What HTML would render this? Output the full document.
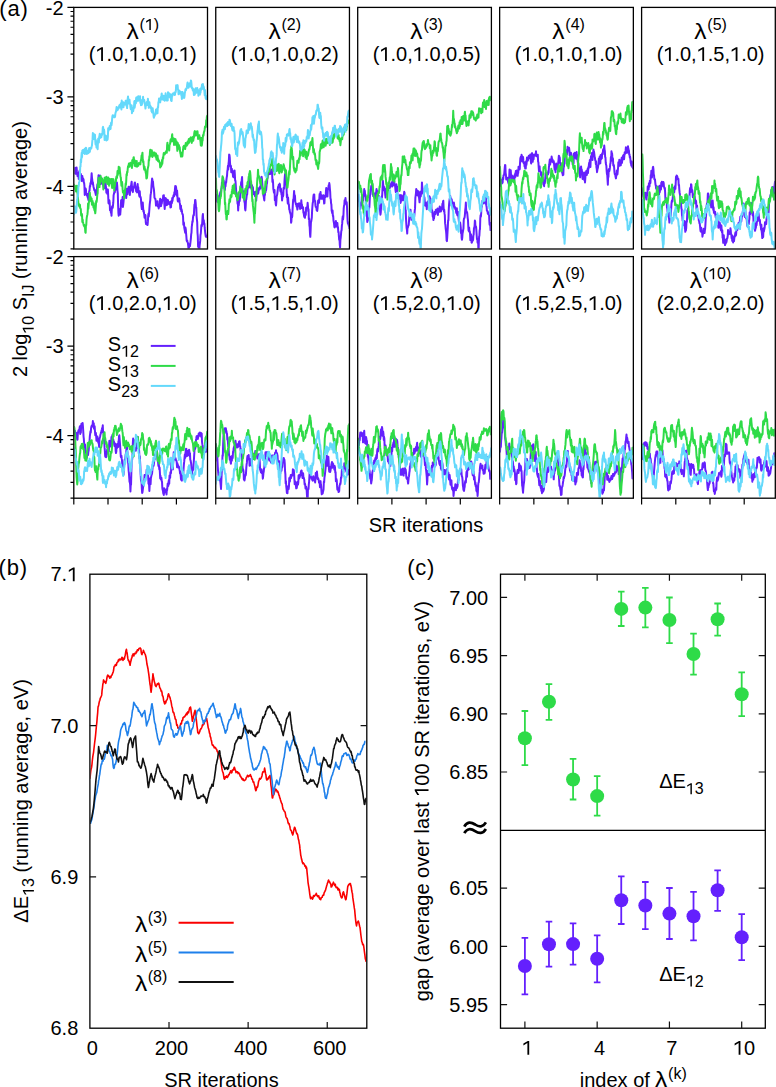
<!DOCTYPE html><html><head><meta charset="utf-8"><title>figure</title><style>html,body{margin:0;padding:0;background:#fff;}svg{display:block;}text{font-family:"Liberation Sans", sans-serif;fill:#000;}</style></head><body>
<svg width="776" height="1087" viewBox="0 0 776 1087">
<rect x="0" y="0" width="776" height="1087" fill="#fff"/>
<defs>
<clipPath id="ca00"><rect x="74.4" y="8" width="132.5" height="240.4"/></clipPath>
<clipPath id="ca01"><rect x="216.35" y="8" width="132.5" height="240.4"/></clipPath>
<clipPath id="ca02"><rect x="358.3" y="8" width="132.5" height="240.4"/></clipPath>
<clipPath id="ca03"><rect x="500.25" y="8" width="132.5" height="240.4"/></clipPath>
<clipPath id="ca04"><rect x="642.2" y="8" width="132.5" height="240.4"/></clipPath>
<clipPath id="ca10"><rect x="74.4" y="257.2" width="132.5" height="240.4"/></clipPath>
<clipPath id="ca11"><rect x="216.35" y="257.2" width="132.5" height="240.4"/></clipPath>
<clipPath id="ca12"><rect x="358.3" y="257.2" width="132.5" height="240.4"/></clipPath>
<clipPath id="ca13"><rect x="500.25" y="257.2" width="132.5" height="240.4"/></clipPath>
<clipPath id="ca14"><rect x="642.2" y="257.2" width="132.5" height="240.4"/></clipPath>
<clipPath id="cb"><rect x="90.4" y="574.8" width="275.8" height="452.6"/></clipPath>
</defs>
<polyline points="73.8,168.11 74.11,170.76 74.43,173.29 74.74,170.71 75.06,167.73 75.37,169.55 75.69,171.58 76,173.87 76.31,169.27 76.61,167.48 76.92,171.68 77.22,172.95 77.52,176.12 77.82,176.23 78.12,173.83 78.42,172.6 78.72,179.03 79.02,174.94 79.32,172.26 79.62,170.49 79.92,172.87 80.22,174.08 80.52,173.55 80.82,174.15 81.13,176.07 81.43,178.42 81.73,180.91 82.03,180.38 82.33,175.99 82.63,180.76 82.93,178.2 83.23,180.73 83.53,179.23 83.83,182.73 84.13,182.86 84.43,185.86 84.73,195 85.03,191.27 85.33,192.48 85.64,188.39 85.94,189.81 86.24,193.23 86.54,193.38 86.84,195.14 87.14,195.79 87.44,193.99 87.74,197.6 88.04,196.35 88.34,199.9 88.64,194.48 88.94,193.98 89.24,190.98 89.54,190.87 89.84,185.95 90.15,186.62 90.45,183.04 90.75,183.75 91.05,181.33 91.35,178.04 91.65,173.36 91.95,177.61 92.25,179.59 92.55,184.17 92.85,182.18 93.15,184.6 93.45,186.45 93.75,187.64 94.05,188.93 94.36,190.38 94.66,190.09 94.96,189.98 95.26,192.4 95.56,193.4 95.86,195 96.16,193.38 96.46,191.92 96.76,189.69 97.06,187.61 97.36,184.56 97.66,183.75 97.96,184.83 98.26,179.25 98.56,175.16 98.87,178.86 99.17,177.43 99.47,178.91 99.77,179.59 100.07,175.38 100.37,182.52 100.67,184.13 100.97,181.28 101.27,181.82 101.57,180.86 101.87,178.39 102.17,179.55 102.47,181.49 102.77,184.35 103.07,184.84 103.38,183.81 103.68,186.8 103.98,183.26 104.28,185.87 104.58,187.99 104.88,185.81 105.18,181.68 105.48,182.45 105.78,185.8 106.08,188.15 106.38,192.61 106.68,189.09 106.98,190.87 107.28,193.9 107.58,193.97 107.89,189.51 108.19,196.08 108.49,203.08 108.79,203.54 109.09,199.93 109.39,200.47 109.69,202.98 109.99,210.17 110.29,209.36 110.59,208.62 110.89,212.55 111.19,211 111.49,215.79 111.79,209.41 112.1,206.34 112.4,206.93 112.7,207.83 113,205.33 113.3,202.46 113.6,195.24 113.9,193.97 114.2,192.68 114.5,191.33 114.8,192.43 115.1,189.66 115.4,190.2 115.7,187.71 116,184.71 116.3,183.56 116.61,182.81 116.91,182.52 117.21,185.61 117.51,190.86 117.81,193.69 118.11,205.32 118.41,213.04 118.71,215.67 119.01,212.72 119.31,209.14 119.61,210.45 119.91,210.46 120.21,214.57 120.51,211 120.81,206.53 121.12,200.17 121.42,206.21 121.72,205.12 122.02,199.79 122.32,201.32 122.62,197.07 122.92,206.9 123.22,204.6 123.52,201.78 123.82,198.27 124.12,191.58 124.42,193.73 124.72,190.96 125.02,194.75 125.33,189.52 125.63,190.14 125.93,195.23 126.23,198.05 126.53,192.22 126.83,188.83 127.13,192.99 127.43,194.37 127.73,190.31 128.03,189.16 128.33,188.47 128.63,186.79 128.93,187.11 129.23,191.61 129.53,191.85 129.84,194.98 130.14,190.9 130.44,188.92 130.74,185.89 131.04,186.49 131.34,183.68 131.64,181.67 131.94,186.81 132.24,190.68 132.54,190.84 132.84,192.12 133.14,190.11 133.44,187.04 133.74,187.77 134.04,187.01 134.35,185 134.65,182.85 134.95,182.54 135.25,185.98 135.55,187.77 135.85,187.04 136.15,191.33 136.45,190.12 136.75,190.64 137.05,192.4 137.35,188.3 137.65,183.96 137.95,188.76 138.25,187.29 138.55,191.51 138.86,192.35 139.16,195.19 139.46,196.64 139.76,191.35 140.06,196.81 140.36,196.57 140.66,197.18 140.96,199.1 141.26,203.63 141.56,206.62 141.86,209.02 142.16,204.52 142.46,205.67 142.76,202.48 143.07,207.22 143.37,211.39 143.67,210.41 143.97,213.02 144.27,214.64 144.57,217.73 144.87,215.22 145.17,214.79 145.47,215.38 145.77,222.21 146.07,223.97 146.37,222.38 146.67,223.18 146.97,223.83 147.27,224.91 147.58,224.96 147.88,221.39 148.18,216.03 148.48,213.62 148.78,216.39 149.08,213.11 149.38,208.94 149.68,204.88 149.98,202.18 150.28,200.06 150.58,195.1 150.88,193.39 151.18,191.08 151.48,186.07 151.78,182.24 152.09,178.47 152.39,179.65 152.69,185.79 152.99,181.51 153.29,185.79 153.59,187.7 153.89,189.45 154.19,192.87 154.49,197.7 154.79,198.14 155.09,198.81 155.39,198.96 155.69,201.19 155.99,205.57 156.3,205.22 156.6,204.29 156.9,202.67 157.2,202.22 157.5,201.18 157.8,206.51 158.1,206.7 158.4,205.18 158.7,208.43 159,204.51 159.3,206.12 159.6,206.7 159.9,201.16 160.2,198.73 160.5,199.08 160.81,203.41 161.11,205.89 161.41,200.69 161.71,203.85 162.01,201.53 162.31,200.39 162.61,199.38 162.91,199.34 163.21,195.58 163.51,195.84 163.81,195.21 164.11,199.41 164.41,205.04 164.71,208.96 165.01,203.35 165.32,197.94 165.62,199.04 165.92,198.35 166.22,205.18 166.52,204.68 166.82,201.51 167.12,204.35 167.42,204.67 167.72,199.78 168.02,200.57 168.32,201.71 168.62,202.92 168.92,203.81 169.22,203.18 169.52,204.32 169.83,203.06 170.13,201.96 170.43,207.4 170.73,206.96 171.03,207.1 171.33,201.02 171.63,201.27 171.93,203 172.23,197.94 172.53,200.89 172.83,197.8 173.13,197.73 173.43,195.7 173.73,195.01 174.04,196.36 174.34,192.35 174.64,194.71 174.94,189.34 175.24,186.12 175.54,188.02 175.84,186.23 176.14,187.89 176.44,192.32 176.74,195.54 177.04,190.43 177.34,194.55 177.64,200.2 177.94,201.54 178.24,199.38 178.55,198.38 178.85,199.42 179.15,198.52 179.45,201 179.75,202.9 180.05,204.48 180.35,208.99 180.65,208.16 180.95,205.62 181.25,211.3 181.55,209.24 181.85,210.62 182.15,212.98 182.45,214.35 182.75,214.25 183.06,216.94 183.36,224.73 183.66,222.12 183.96,223.13 184.26,227.46 184.56,229.21 184.86,230.88 185.16,232.71 185.46,227.62 185.76,229.14 186.06,233.03 186.36,236.4 186.66,240.57 186.96,241.19 187.27,240.68 187.57,242.06 187.87,242.94 188.17,245.31 188.47,248.2 188.77,247.87 189.07,247.53 189.37,244.32 189.67,246.26 189.97,246.06 190.27,243.88 190.57,241.26 190.87,238.74 191.17,234.33 191.47,232.73 191.78,226.59 192.08,224.73 192.38,221.31 192.68,222.01 192.98,217.75 193.28,215.76 193.58,214.75 193.88,215.21 194.18,208.86 194.48,204.55 194.78,205.59 195.08,200.01 195.38,200.07 195.68,202.74 195.98,207.4 196.29,207.65 196.59,216.27 196.89,219.31 197.19,222.06 197.49,232.73 197.79,236.22 198.09,246.77 198.39,246.07 198.69,246.48 198.99,250.2 199.29,250.98 199.59,245.82 199.89,243.32 200.19,240.9 200.49,234.95 200.8,233.47 201.1,229.79 201.4,224.97 201.7,226.51 202,225.06 202.3,221.49 202.6,216.14 202.9,214.09 203.2,220.2 203.5,222.25 203.8,220.28 204.1,224.35 204.4,223.49 204.7,227.7 205.01,230.78 205.31,233.51 205.61,235.27 205.91,236.85 206.21,235.35 206.53,235.89 206.85,235.81 207.18,236.43 207.5,237.88" fill="none" stroke="#6420fd" stroke-width="2.0" stroke-linejoin="round" clip-path="url(#ca00)"/>
<polyline points="73.8,183.82 74.11,186.44 74.43,186.27 74.74,185.72 75.06,188.95 75.37,188.1 75.69,186.94 76,191.43 76.31,187.75 76.61,185.89 76.92,185.75 77.22,188.58 77.52,193.4 77.82,196.66 78.12,199.51 78.42,203.22 78.72,205.26 79.02,204.42 79.32,206.61 79.62,206.74 79.92,204.76 80.22,208.17 80.52,208.58 80.82,208.97 81.13,215.29 81.43,215.75 81.73,213.78 82.03,214.84 82.33,221.94 82.63,219.43 82.93,221.66 83.23,223.14 83.53,224.34 83.83,225.87 84.13,224.77 84.43,225.24 84.73,227.03 85.03,228.13 85.33,232.25 85.64,232.81 85.94,225.79 86.24,225.08 86.54,219.74 86.84,216.92 87.14,215.52 87.44,214.43 87.74,211.3 88.04,203.44 88.34,208.57 88.64,205.25 88.94,201.67 89.24,202.04 89.54,197.73 89.84,192.63 90.15,196.84 90.45,198.77 90.75,196.96 91.05,200.68 91.35,201.46 91.65,198.55 91.95,204.78 92.25,204.11 92.55,200.88 92.85,203.84 93.15,204.65 93.45,207.44 93.75,203.37 94.05,207.94 94.36,209.95 94.66,210.58 94.96,211.04 95.26,213.35 95.56,210.3 95.86,206.3 96.16,201.02 96.46,202.26 96.76,201.09 97.06,197.61 97.36,194.52 97.66,193.3 97.96,183.64 98.26,185.27 98.56,177.76 98.87,180.02 99.17,183.68 99.47,187.09 99.77,182.67 100.07,183.01 100.37,181.86 100.67,176.12 100.97,180.89 101.27,180.92 101.57,181.06 101.87,178.61 102.17,179.73 102.47,180.4 102.77,183.49 103.07,182.27 103.38,189.44 103.68,182.81 103.98,180.44 104.28,179.93 104.58,177.82 104.88,182.51 105.18,182.23 105.48,177.41 105.78,178.74 106.08,181.72 106.38,176.63 106.68,178.32 106.98,177.98 107.28,183.99 107.58,181.68 107.89,178.7 108.19,177.56 108.49,183.25 108.79,180.06 109.09,185.65 109.39,178.83 109.69,179.63 109.99,180.06 110.29,179.34 110.59,180.46 110.89,183.32 111.19,181.41 111.49,179.02 111.79,185 112.1,187.91 112.4,184.09 112.7,185.19 113,178.91 113.3,185.35 113.6,182.42 113.9,183.35 114.2,190.51 114.5,185.32 114.8,186.58 115.1,184.67 115.4,180.22 115.7,179.1 116,181.13 116.3,177.13 116.61,176.28 116.91,178.12 117.21,175.73 117.51,171 117.81,174.89 118.11,172.14 118.41,173.14 118.71,166.63 119.01,172.89 119.31,169.03 119.61,167.49 119.91,171.02 120.21,173.53 120.51,177.02 120.81,177.39 121.12,181.39 121.42,185.64 121.72,183.51 122.02,181.87 122.32,184.53 122.62,189.5 122.92,192.44 123.22,191.78 123.52,190.93 123.82,193.89 124.12,198.4 124.42,193.11 124.72,194.41 125.02,190.9 125.33,188.2 125.63,183.47 125.93,184.93 126.23,180.89 126.53,174.13 126.83,175.56 127.13,171.69 127.43,172.32 127.73,168.93 128.03,166.22 128.33,166.82 128.63,165.22 128.93,163.53 129.23,164.65 129.53,166.83 129.84,165.62 130.14,164.51 130.44,162.7 130.74,164.45 131.04,164.19 131.34,165.5 131.64,164.35 131.94,167.91 132.24,160.16 132.54,160.48 132.84,161.79 133.14,162.95 133.44,158.11 133.74,157.16 134.04,159.87 134.35,163.84 134.65,165.77 134.95,160.48 135.25,162.57 135.55,166.17 135.85,165.08 136.15,162.34 136.45,162.24 136.75,160.95 137.05,166.77 137.35,165.84 137.65,165.29 137.95,164.24 138.25,165.83 138.55,164.86 138.86,163.09 139.16,164 139.46,163.29 139.76,164.03 140.06,162.94 140.36,164.37 140.66,161.35 140.96,160.25 141.26,159.09 141.56,155.51 141.86,158.25 142.16,154.5 142.46,152.65 142.76,159.74 143.07,162.15 143.37,161.19 143.67,165.47 143.97,168.22 144.27,169.71 144.57,166.79 144.87,169.88 145.17,169.2 145.47,170.97 145.77,172.8 146.07,173.86 146.37,178.52 146.67,178.31 146.97,177.94 147.27,174.91 147.58,170.02 147.88,168.13 148.18,166.81 148.48,165.58 148.78,159.9 149.08,160.63 149.38,156.32 149.68,157.32 149.98,151.4 150.28,149.68 150.58,154.39 150.88,152.77 151.18,153.72 151.48,155.81 151.78,150.22 152.09,152.48 152.39,156.9 152.69,155.87 152.99,153.7 153.29,153.9 153.59,152.59 153.89,153.85 154.19,155.56 154.49,152.51 154.79,153.15 155.09,153.7 155.39,155.52 155.69,157.01 155.99,153.56 156.3,158.1 156.6,159.73 156.9,156.22 157.2,157.3 157.5,155.45 157.8,158.07 158.1,161.14 158.4,159.34 158.7,160.08 159,160.67 159.3,161.88 159.6,162.72 159.9,162.89 160.2,167.43 160.5,166.1 160.81,163.57 161.11,166.36 161.41,163.21 161.71,164.92 162.01,159.93 162.31,163.75 162.61,160.28 162.91,157.15 163.21,158.62 163.51,154.47 163.81,152.89 164.11,154.88 164.41,153.4 164.71,154.39 165.01,153.62 165.32,153.04 165.62,151.98 165.92,152.78 166.22,151.07 166.52,152.73 166.82,152.69 167.12,145.38 167.42,142.64 167.72,149.17 168.02,146.67 168.32,146.87 168.62,145.91 168.92,146.14 169.22,150.56 169.52,145.02 169.83,144.34 170.13,143.6 170.43,140.39 170.73,139.29 171.03,139.98 171.33,140.54 171.63,141.42 171.93,135.83 172.23,134.22 172.53,140.97 172.83,138.97 173.13,141.27 173.43,139.49 173.73,138.38 174.04,144.99 174.34,139.9 174.64,138.93 174.94,142.63 175.24,142.82 175.54,139.21 175.84,142.32 176.14,145.27 176.44,141.33 176.74,142.36 177.04,146.29 177.34,150.84 177.64,142.8 177.94,143.79 178.24,146.19 178.55,145.19 178.85,145.09 179.15,146.31 179.45,149.52 179.75,147.31 180.05,151.34 180.35,153.16 180.65,154.22 180.95,156.57 181.25,152.87 181.55,152.81 181.85,155.59 182.15,156.54 182.45,155.78 182.75,151.79 183.06,149.74 183.36,146.58 183.66,147.07 183.96,145.8 184.26,145.9 184.56,145.85 184.86,148.36 185.16,149.06 185.46,146.81 185.76,142.94 186.06,143.64 186.36,144.71 186.66,145.8 186.96,144.32 187.27,144.81 187.57,141.43 187.87,143.03 188.17,143.7 188.47,141.17 188.77,139.02 189.07,142.73 189.37,138.72 189.67,140.95 189.97,139.37 190.27,138.38 190.57,138.02 190.87,137.25 191.17,137.73 191.47,142.08 191.78,142.86 192.08,139.2 192.38,139 192.68,139.79 192.98,136.73 193.28,140.74 193.58,137.85 193.88,137.92 194.18,134 194.48,131.86 194.78,131.11 195.08,131.48 195.38,135.45 195.68,133.63 195.98,135.59 196.29,133.09 196.59,131.53 196.89,133.94 197.19,133.92 197.49,131.26 197.79,134.63 198.09,139.05 198.39,137.86 198.69,135.37 198.99,135.8 199.29,135.24 199.59,137.7 199.89,137.36 200.19,139.57 200.49,141.51 200.8,145.39 201.1,141.38 201.4,138 201.7,145.79 202,144.25 202.3,140.79 202.6,140.55 202.9,136.09 203.2,134.78 203.5,135.73 203.8,132.82 204.1,131.78 204.4,131.15 204.7,129.2 205.01,126.62 205.31,126.46 205.61,127.39 205.91,126.69 206.21,120.35 206.53,122.35 206.85,116.79 207.18,115.73 207.5,119.64" fill="none" stroke="#2edb48" stroke-width="2.0" stroke-linejoin="round" clip-path="url(#ca00)"/>
<polyline points="73.8,210.51 74.11,214.25 74.43,210.27 74.74,206.29 75.06,209.63 75.37,211.87 75.69,212.2 76,212.67 76.31,211.37 76.61,206.52 76.92,202.29 77.22,199.97 77.52,196.74 77.82,196.65 78.12,193.97 78.42,186.49 78.72,186.25 79.02,182.5 79.32,181.82 79.62,180.55 79.92,175.86 80.22,166.46 80.52,166.61 80.82,159.43 81.13,162.15 81.43,155.97 81.73,152.7 82.03,157.38 82.33,150.55 82.63,152.05 82.93,149.92 83.23,150.31 83.53,149.72 83.83,152.97 84.13,151.82 84.43,152.84 84.73,153.88 85.03,148.55 85.33,153.83 85.64,151.9 85.94,147.65 86.24,148.27 86.54,152.14 86.84,153.91 87.14,150.47 87.44,150.92 87.74,151.35 88.04,153.37 88.34,151.27 88.64,153.04 88.94,149.15 89.24,147.92 89.54,150.71 89.84,151.89 90.15,149.49 90.45,149.48 90.75,147.88 91.05,147.97 91.35,148.34 91.65,146.29 91.95,145.57 92.25,141.7 92.55,139.13 92.85,133.11 93.15,136.77 93.45,136.69 93.75,138.9 94.05,134.3 94.36,136.19 94.66,137.13 94.96,134.84 95.26,140.87 95.56,144.41 95.86,140.12 96.16,142.95 96.46,147.55 96.76,142.61 97.06,146.34 97.36,148.28 97.66,149.27 97.96,141.35 98.26,138.44 98.56,139.92 98.87,142.46 99.17,137.02 99.47,135.62 99.77,133.71 100.07,137.89 100.37,135.04 100.67,136.19 100.97,136.37 101.27,137.23 101.57,135.3 101.87,133.87 102.17,134.84 102.47,133.1 102.77,127.7 103.07,126.84 103.38,129.55 103.68,129.98 103.98,129.49 104.28,131.3 104.58,140.05 104.88,135.88 105.18,136.06 105.48,136.61 105.78,135.59 106.08,139.3 106.38,140.5 106.68,140.41 106.98,136.63 107.28,140.03 107.58,139.51 107.89,136.56 108.19,128.33 108.49,130.8 108.79,128.3 109.09,129.03 109.39,127.97 109.69,126.1 109.99,129.18 110.29,127.54 110.59,128.96 110.89,123.48 111.19,122.51 111.49,125.25 111.79,123.14 112.1,119.05 112.4,116.35 112.7,115.32 113,115.48 113.3,116.77 113.6,115.98 113.9,116.9 114.2,117.23 114.5,115.34 114.8,117.2 115.1,116.34 115.4,113.49 115.7,112.14 116,111.71 116.3,109.52 116.61,106.91 116.91,108.99 117.21,108.23 117.51,110.36 117.81,108.06 118.11,108.59 118.41,108.79 118.71,106.99 119.01,107.63 119.31,105.4 119.61,104.97 119.91,107.56 120.21,107.33 120.51,106.02 120.81,103.33 121.12,105.63 121.42,109.48 121.72,100.55 122.02,104.63 122.32,103.96 122.62,106.1 122.92,107.17 123.22,102.29 123.52,107.13 123.82,103.41 124.12,102.8 124.42,104.75 124.72,103.83 125.02,104.37 125.33,102.71 125.63,100.82 125.93,102.69 126.23,100.77 126.53,106 126.83,105.45 127.13,108.11 127.43,102.73 127.73,98.59 128.03,96.49 128.33,100.34 128.63,99.7 128.93,103.52 129.23,100.65 129.53,99.72 129.84,103.93 130.14,104.27 130.44,107.35 130.74,109.21 131.04,109.17 131.34,105.62 131.64,105.37 131.94,113.25 132.24,110.62 132.54,111.15 132.84,111.27 133.14,111.26 133.44,109.67 133.74,107.47 134.04,106.08 134.35,101.25 134.65,107.72 134.95,105.34 135.25,100.83 135.55,102.89 135.85,103.47 136.15,97.92 136.45,97.35 136.75,101.44 137.05,100.13 137.35,98.71 137.65,98.92 137.95,97.08 138.25,96.19 138.55,100.71 138.86,98.42 139.16,98.02 139.46,99.86 139.76,99.37 140.06,96.33 140.36,103.01 140.66,101.13 140.96,105.19 141.26,103.93 141.56,100.21 141.86,104.98 142.16,102.93 142.46,100.38 142.76,101.46 143.07,96.79 143.37,101.22 143.67,100.29 143.97,101.15 144.27,100 144.57,103.44 144.87,104.1 145.17,106.2 145.47,108.53 145.77,106.16 146.07,104.81 146.37,104.86 146.67,102.21 146.97,101.87 147.27,104.99 147.58,102.35 147.88,98.74 148.18,101.23 148.48,103.78 148.78,107.83 149.08,104.18 149.38,102.25 149.68,104.61 149.98,105.32 150.28,106.99 150.58,106.18 150.88,107.99 151.18,107.2 151.48,111.1 151.78,111.32 152.09,112.52 152.39,110.92 152.69,108.24 152.99,111.09 153.29,112.46 153.59,116.21 153.89,117.77 154.19,116.35 154.49,116.14 154.79,114.15 155.09,114.45 155.39,114.62 155.69,112.59 155.99,109.58 156.3,113.55 156.6,109.2 156.9,113.17 157.2,113.03 157.5,113.29 157.8,107 158.1,107.5 158.4,102.22 158.7,102.04 159,98.56 159.3,98.53 159.6,98.5 159.9,101.47 160.2,102.38 160.5,99.6 160.81,98.7 161.11,96.74 161.41,95.47 161.71,93.4 162.01,96.38 162.31,99.54 162.61,97.5 162.91,99.43 163.21,96.52 163.51,95.71 163.81,96.53 164.11,100.29 164.41,98.38 164.71,100.74 165.01,98.98 165.32,96.44 165.62,93.25 165.92,95.68 166.22,95.48 166.52,99.91 166.82,100.56 167.12,95.79 167.42,99.88 167.72,100.43 168.02,92.15 168.32,93.13 168.62,96.44 168.92,93.12 169.22,93.69 169.52,96.73 169.83,97.09 170.13,97.52 170.43,97.89 170.73,94.23 171.03,100.45 171.33,98.24 171.63,101.06 171.93,96.19 172.23,96.03 172.53,95.24 172.83,93.55 173.13,93.78 173.43,93.55 173.73,94.59 174.04,93.62 174.34,92.4 174.64,92.75 174.94,95 175.24,92.39 175.54,92.43 175.84,91.13 176.14,85.35 176.44,85.4 176.74,85.91 177.04,85.22 177.34,87.03 177.64,85.25 177.94,89.66 178.24,89.73 178.55,94.23 178.85,94.25 179.15,90.52 179.45,91.8 179.75,93.18 180.05,92.24 180.35,92.87 180.65,91.62 180.95,92.21 181.25,95.1 181.55,95.04 181.85,98.94 182.15,91.9 182.45,91.96 182.75,92.71 183.06,97.14 183.36,97.76 183.66,96.85 183.96,96.73 184.26,97.87 184.56,95.84 184.86,92.55 185.16,91.95 185.46,89.25 185.76,89.07 186.06,90.14 186.36,88.18 186.66,88.56 186.96,87.14 187.27,84.17 187.57,82.4 187.87,86.49 188.17,86.26 188.47,87.79 188.77,85.88 189.07,85.04 189.37,85.08 189.67,83.36 189.97,86.48 190.27,86.54 190.57,84.83 190.87,80.42 191.17,81.18 191.47,83.93 191.78,87.98 192.08,87.41 192.38,87.89 192.68,90.06 192.98,90.64 193.28,90.89 193.58,89.35 193.88,95.02 194.18,94.91 194.48,94.44 194.78,94.58 195.08,91.6 195.38,89.44 195.68,88.21 195.98,92.73 196.29,90.37 196.59,92.73 196.89,90.45 197.19,88.01 197.49,89.67 197.79,89.93 198.09,90.02 198.39,95.69 198.69,94.2 198.99,91.6 199.29,93.92 199.59,91.89 199.89,94.61 200.19,88.86 200.49,92.69 200.8,88.87 201.1,88 201.4,89.7 201.7,87.15 202,84.6 202.3,86.37 202.6,87.12 202.9,84.04 203.2,88.86 203.5,86.32 203.8,87.11 204.1,89.07 204.4,91.24 204.7,95.23 205.01,89.9 205.31,93.63 205.61,97.94 205.91,98.84 206.21,99.17 206.53,96.35 206.85,98.68 207.18,97.64 207.5,98.71" fill="none" stroke="#64d9fb" stroke-width="2.0" stroke-linejoin="round" clip-path="url(#ca00)"/>
<polyline points="215.75,198.14 215.97,200.17 216.26,196.37 216.56,194.8 216.85,197.31 217.15,201.74 217.45,200.6 217.74,196.65 218.04,196.19 218.33,197.9 218.63,201.13 218.92,200.37 219.22,199.44 219.52,197.45 219.82,196.5 220.12,192.9 220.42,192.12 220.72,191.35 221.02,193.16 221.32,188.84 221.62,188.42 221.92,182.51 222.22,183.47 222.52,181.15 222.82,177.5 223.13,178.77 223.43,181.92 223.73,180.8 224.03,183.99 224.33,186.9 224.63,188.78 224.93,190.01 225.23,184.23 225.53,186.17 225.83,181.98 226.13,182.75 226.43,179.67 226.73,177.43 227.03,175.74 227.33,171.25 227.64,169.71 227.94,165.83 228.24,169.48 228.54,163.65 228.84,161.07 229.14,154.53 229.44,154.88 229.74,157.37 230.04,163.02 230.34,166.06 230.64,166.98 230.94,166.03 231.24,172.32 231.54,168.95 231.84,168.84 232.15,172.18 232.45,170.53 232.75,173.3 233.05,176.54 233.35,175.88 233.65,177.22 233.95,177.37 234.25,176.24 234.55,170.43 234.85,174.75 235.15,180.77 235.45,180.78 235.75,184.76 236.05,189.6 236.36,195.62 236.66,193.14 236.96,195.56 237.26,199.73 237.56,203.55 237.86,202.05 238.16,210.5 238.46,204.53 238.76,205.35 239.06,201.39 239.36,199.97 239.66,201.1 239.96,198.04 240.26,194.19 240.56,188.72 240.87,186.09 241.17,181.96 241.47,187.15 241.77,179.56 242.07,177.06 242.37,187.26 242.67,191.74 242.97,190.94 243.27,194.7 243.57,193.55 243.87,194.94 244.17,199.3 244.47,202.05 244.77,202.41 245.07,208.72 245.38,210.41 245.68,206.44 245.98,200.28 246.28,199.49 246.58,196.66 246.88,194.65 247.18,194.47 247.48,189.72 247.78,188.35 248.08,187.62 248.38,184.83 248.68,186.86 248.98,176.69 249.28,178.51 249.58,177.17 249.89,179.85 250.19,187.6 250.49,181.46 250.79,182.76 251.09,186.1 251.39,186.68 251.69,189.43 251.99,185.27 252.29,190.17 252.59,188.14 252.89,187.28 253.19,191.73 253.49,193.88 253.79,192.3 254.1,191.94 254.4,193.74 254.7,195.38 255,196.15 255.3,194.93 255.6,191.84 255.9,199.67 256.2,200.6 256.5,196.09 256.8,192.79 257.1,192.82 257.4,192.77 257.7,187.97 258,193.67 258.3,192.93 258.61,190.14 258.91,189.89 259.21,188.79 259.51,189.59 259.81,187.04 260.11,187.93 260.41,188.23 260.71,183.23 261.01,180.17 261.31,177.21 261.61,176.84 261.91,178.61 262.21,182.63 262.51,186.49 262.81,190.15 263.12,189.17 263.42,195.64 263.72,196.49 264.02,198.87 264.32,200.43 264.62,193.93 264.92,195.14 265.22,189.29 265.52,192.23 265.82,189.35 266.12,190.27 266.42,186.94 266.72,184.2 267.02,183.23 267.33,177.89 267.63,177.96 267.93,172.51 268.23,172.56 268.53,170.55 268.83,172.82 269.13,174.2 269.43,172.16 269.73,169.67 270.03,171.81 270.33,173.93 270.63,173.59 270.93,171.69 271.23,171.71 271.53,172.98 271.84,169.58 272.14,174.14 272.44,181.84 272.74,179.55 273.04,182.24 273.34,188.93 273.64,190.36 273.94,192.51 274.24,191.93 274.54,189.97 274.84,200.25 275.14,199.33 275.44,199.9 275.74,204.54 276.04,205.5 276.35,201.73 276.65,196.47 276.95,195.62 277.25,194.31 277.55,191.54 277.85,188.99 278.15,186.65 278.45,186.82 278.75,184.77 279.05,185.33 279.35,186 279.65,183.62 279.95,184.83 280.25,190.29 280.55,191.65 280.86,188.46 281.16,190.31 281.46,194.53 281.76,195 282.06,200.39 282.36,197.92 282.66,193.07 282.96,196.42 283.26,195.25 283.56,188.04 283.86,187.57 284.16,188.82 284.46,181.93 284.76,177.43 285.07,174 285.37,176.63 285.67,177.34 285.97,182.04 286.27,183.07 286.57,188.51 286.87,197.28 287.17,194.44 287.47,199.39 287.77,203.44 288.07,197.49 288.37,201.85 288.67,204.3 288.97,205.5 289.27,209.66 289.58,209.38 289.88,212.14 290.18,212.47 290.48,214.2 290.78,214.35 291.08,222.65 291.38,221.44 291.68,214.76 291.98,217.57 292.28,216 292.58,209.36 292.88,203.81 293.18,199.6 293.48,200.79 293.78,195.75 294.09,191.02 294.39,195.22 294.69,194.99 294.99,196.12 295.29,202.03 295.59,202.56 295.89,204.4 296.19,203.9 296.49,206.48 296.79,204.77 297.09,207.51 297.39,209.52 297.69,207.58 297.99,203.65 298.3,206.04 298.6,205.08 298.9,206.06 299.2,203.22 299.5,204.41 299.8,205.55 300.1,208.98 300.4,208.61 300.7,204.79 301,205.39 301.3,200.37 301.6,204.38 301.9,204.43 302.2,208.18 302.5,208.21 302.81,207.79 303.11,207.38 303.41,212.79 303.71,213.01 304.01,215.56 304.31,216.93 304.61,212.39 304.91,217.75 305.21,215.38 305.51,215.28 305.81,214.49 306.11,207.79 306.41,207.68 306.71,207.28 307.01,207.22 307.32,207.55 307.62,202.87 307.92,205.91 308.22,211.08 308.52,209.25 308.82,219.18 309.12,218.44 309.42,225.43 309.72,227.38 310.02,234.2 310.32,236.86 310.62,230.78 310.92,222.42 311.22,221.43 311.52,219.5 311.83,217.27 312.13,210.11 312.43,206.29 312.73,202.89 313.03,202.06 313.33,197.02 313.63,194.8 313.93,194.41 314.23,194.38 314.53,199.76 314.83,200.63 315.13,200.89 315.43,205.38 315.73,206.95 316.04,206.93 316.34,207.41 316.64,210.09 316.94,209.94 317.24,210.95 317.54,208.48 317.84,204.57 318.14,200.51 318.44,201.83 318.74,201.88 319.04,202.83 319.34,198.47 319.64,194.1 319.94,196.58 320.24,194.38 320.55,191.92 320.85,197.97 321.15,198.78 321.45,197.37 321.75,197.53 322.05,195.38 322.35,198.85 322.65,197.09 322.95,196.55 323.25,196.92 323.55,195.29 323.85,199.99 324.15,203.6 324.45,203.11 324.75,196.47 325.06,196.85 325.36,195.63 325.66,196.96 325.96,190.96 326.26,187.95 326.56,190.19 326.86,193.91 327.16,192.06 327.46,196.41 327.76,190.34 328.06,189.43 328.36,188.05 328.66,185.3 328.96,188.23 329.27,183.05 329.57,184.81 329.87,188.84 330.17,191.86 330.47,198.56 330.77,199 331.07,203.29 331.37,204.41 331.67,210.66 331.97,211.78 332.27,213.37 332.57,210.49 332.87,215.83 333.17,215.73 333.47,220.29 333.78,222.17 334.08,223.97 334.38,227.03 334.68,227.44 334.98,223.59 335.28,224.26 335.58,224.32 335.88,220.92 336.18,223.56 336.48,226.39 336.78,224.38 337.08,223.03 337.38,223.08 337.68,227.57 337.98,227.17 338.29,232.23 338.59,231.92 338.89,236.5 339.19,239.98 339.49,238.8 339.79,244.6 340.09,247.56 340.39,239.96 340.69,237.87 340.99,234.69 341.29,230.87 341.59,230.51 341.89,225.59 342.19,223.68 342.49,218.31 342.8,216.18 343.1,219.35 343.4,215.96 343.7,208.62 344,205.81 344.3,205.26 344.6,200.2 344.9,203.01 345.2,200.4 345.5,197.97 345.8,201.38 346.1,202.92 346.4,204.38 346.7,202.23 347.01,206.82 347.31,214.97 347.61,221.21 347.91,223.58 348.21,222.55 348.52,224.4 348.83,226.02 349.14,223.52 349.45,228.82" fill="none" stroke="#6420fd" stroke-width="2.0" stroke-linejoin="round" clip-path="url(#ca01)"/>
<polyline points="215.75,179.51 215.97,178.41 216.26,190.15 216.56,189.53 216.85,190.46 217.15,193.42 217.45,194.19 217.74,195.96 218.04,201.75 218.33,203.6 218.63,209.43 218.92,211.19 219.22,209.93 219.52,205.98 219.82,203.56 220.12,197.78 220.42,198.25 220.72,195.93 221.02,196.07 221.32,189.65 221.62,186.68 221.92,185.52 222.22,183.49 222.52,176.29 222.82,177.77 223.13,177.79 223.43,184.42 223.73,185.41 224.03,187.58 224.33,188.46 224.63,193.68 224.93,204.12 225.23,202.82 225.53,209.8 225.83,214.15 226.13,213.67 226.43,219.32 226.73,219.52 227.03,214.57 227.33,211.2 227.64,213.17 227.94,211.24 228.24,214.07 228.54,210.18 228.84,203.84 229.14,203.25 229.44,199.37 229.74,201.84 230.04,201.9 230.34,198.47 230.64,195.19 230.94,197.61 231.24,194.67 231.54,196.78 231.84,191.39 232.15,190.28 232.45,188.44 232.75,185.75 233.05,193.35 233.35,193.07 233.65,186.46 233.95,189.06 234.25,184.33 234.55,190.8 234.85,193.69 235.15,192 235.45,192.01 235.75,194.24 236.05,196.39 236.36,195.91 236.66,195.23 236.96,197.15 237.26,198.22 237.56,200.3 237.86,198.85 238.16,198.1 238.46,192.51 238.76,192.93 239.06,192.54 239.36,191.53 239.66,191.59 239.96,190.61 240.26,186.62 240.56,190.65 240.87,191.67 241.17,189.75 241.47,192.38 241.77,190.08 242.07,188.88 242.37,191.59 242.67,197.61 242.97,196.42 243.27,192.91 243.57,196.49 243.87,196.43 244.17,196.58 244.47,199.87 244.77,193.87 245.07,190.33 245.38,188.73 245.68,193.45 245.98,191.84 246.28,188.41 246.58,185.84 246.88,187.15 247.18,188.13 247.48,182.56 247.78,181.79 248.08,185.72 248.38,181.87 248.68,176.97 248.98,175.67 249.28,173.55 249.58,173.08 249.89,171.09 250.19,172.22 250.49,175.63 250.79,180.26 251.09,181.47 251.39,185.88 251.69,187.19 251.99,195.13 252.29,201.12 252.59,199.47 252.89,205.13 253.19,207.71 253.49,210.57 253.79,212.88 254.1,217.12 254.4,222.69 254.7,213.92 255,213.59 255.3,207.82 255.6,201 255.9,198.45 256.2,196.71 256.5,191.77 256.8,188.31 257.1,182.92 257.4,177.83 257.7,177.2 258,169.67 258.3,174.71 258.61,176.05 258.91,176.01 259.21,177.09 259.51,178.32 259.81,180.41 260.11,182.18 260.41,183.61 260.71,180.68 261.01,179.23 261.31,185.24 261.61,185.71 261.91,186.53 262.21,188.33 262.51,187.21 262.81,193.83 263.12,193.11 263.42,192.88 263.72,189.07 264.02,191.65 264.32,191.56 264.62,192.69 264.92,190.96 265.22,185.3 265.52,181.2 265.82,185.36 266.12,181.24 266.42,180.28 266.72,179.06 267.02,179.47 267.33,179.04 267.63,174.22 267.93,172.54 268.23,168.75 268.53,172.37 268.83,171.49 269.13,166.83 269.43,171.15 269.73,169.81 270.03,166.21 270.33,165.7 270.63,164.53 270.93,165.22 271.23,165.21 271.53,162.74 271.84,165.18 272.14,159.07 272.44,162.54 272.74,166.73 273.04,169.52 273.34,170.62 273.64,166.88 273.94,164.15 274.24,166.74 274.54,174.58 274.84,173.12 275.14,170.43 275.44,166.61 275.74,169.43 276.04,168.98 276.35,171.01 276.65,170.95 276.95,164.57 277.25,167.35 277.55,170.58 277.85,168.36 278.15,165.87 278.45,164.84 278.75,163.9 279.05,172.03 279.35,173.25 279.65,168.66 279.95,171.56 280.25,166.63 280.55,165.82 280.86,164.91 281.16,165.83 281.46,168.18 281.76,172.39 282.06,170.81 282.36,168.02 282.66,167.47 282.96,166.21 283.26,167.08 283.56,164.31 283.86,165.85 284.16,166.87 284.46,170.19 284.76,168.18 285.07,171.41 285.37,173.36 285.67,172.45 285.97,170.24 286.27,173.82 286.57,179.73 286.87,180.27 287.17,187.71 287.47,187.5 287.77,185.28 288.07,182.08 288.37,180.28 288.67,177.71 288.97,173.04 289.27,170.97 289.58,174.35 289.88,168.82 290.18,162.89 290.48,157.06 290.78,149.64 291.08,149.55 291.38,146.2 291.68,149.1 291.98,150.31 292.28,155.27 292.58,159.25 292.88,157.79 293.18,156.83 293.48,161.82 293.78,167.68 294.09,168.91 294.39,170.85 294.69,168.3 294.99,170.61 295.29,172.39 295.59,171.96 295.89,170.23 296.19,170.32 296.49,170.41 296.79,167.95 297.09,164.4 297.39,160.65 297.69,162.44 297.99,161.61 298.3,160.62 298.6,162.73 298.9,158.95 299.2,157.92 299.5,159.3 299.8,155.67 300.1,150.7 300.4,152.14 300.7,155.57 301,153.06 301.3,152.47 301.6,147.88 301.9,152.98 302.2,147.44 302.5,148.45 302.81,150.21 303.11,156.25 303.41,154.4 303.71,151.82 304.01,149.1 304.31,151.06 304.61,149.8 304.91,150.94 305.21,153.2 305.51,157.12 305.81,153.24 306.11,157.85 306.41,151.87 306.71,159.05 307.01,155.84 307.32,155.4 307.62,155.16 307.92,155.57 308.22,154.39 308.52,152.6 308.82,150.35 309.12,149.17 309.42,149.5 309.72,147.56 310.02,145.76 310.32,142.57 310.62,144.19 310.92,145.31 311.22,141.45 311.52,144.14 311.83,142.07 312.13,140.92 312.43,138.04 312.73,143.4 313.03,147.98 313.33,152.36 313.63,148.86 313.93,149.7 314.23,152.87 314.53,154.53 314.83,153.28 315.13,155.37 315.43,159.31 315.73,160.78 316.04,160.79 316.34,164.34 316.64,160.58 316.94,164.6 317.24,164.48 317.54,166.04 317.84,167.2 318.14,168.9 318.44,165.47 318.74,162.31 319.04,163.68 319.34,161.09 319.64,151.91 319.94,151.08 320.24,149.61 320.55,147.98 320.85,144.35 321.15,147.03 321.45,145.96 321.75,148.29 322.05,143.35 322.35,142.92 322.65,140.61 322.95,143.86 323.25,145.69 323.55,147.35 323.85,146.39 324.15,142.12 324.45,144.63 324.75,140.51 325.06,139.5 325.36,140.07 325.66,145.68 325.96,141.19 326.26,138.65 326.56,140.51 326.86,143.46 327.16,143.1 327.46,142.86 327.76,139.39 328.06,139.02 328.36,142.79 328.66,141.44 328.96,139.05 329.27,138.75 329.57,142.6 329.87,144.98 330.17,142.75 330.47,138.87 330.77,143.19 331.07,139.35 331.37,139.54 331.67,140.31 331.97,139.54 332.27,138.77 332.57,142.66 332.87,141.08 333.17,135.57 333.47,134.92 333.78,138.74 334.08,136.28 334.38,132.82 334.68,135.59 334.98,135.23 335.28,133.58 335.58,133.72 335.88,131.09 336.18,130.9 336.48,131.33 336.78,130.15 337.08,134.59 337.38,131.55 337.68,138.38 337.98,137 338.29,137.79 338.59,134.97 338.89,139.21 339.19,137.7 339.49,140.88 339.79,141.65 340.09,140.63 340.39,145.17 340.69,142.73 340.99,139.69 341.29,138.39 341.59,139.04 341.89,138.21 342.19,139.32 342.49,135.95 342.8,136.01 343.1,133.92 343.4,132.12 343.7,134.54 344,131.12 344.3,127.32 344.6,130.7 344.9,128.78 345.2,130.05 345.5,129.97 345.8,129.39 346.1,127.64 346.4,129.92 346.7,124.18 347.01,126.61 347.31,123.99 347.61,123.47 347.91,121.06 348.21,122.64 348.52,122.71 348.83,120.54 349.14,120.86 349.45,122" fill="none" stroke="#2edb48" stroke-width="2.0" stroke-linejoin="round" clip-path="url(#ca01)"/>
<polyline points="215.75,161.77 215.97,156.02 216.26,158.78 216.56,159.47 216.85,159.26 217.15,160.89 217.45,162.65 217.74,165.34 218.04,168.56 218.33,172.32 218.63,172.87 218.92,176.19 219.22,176.91 219.52,171.29 219.82,165.62 220.12,158.92 220.42,152.13 220.72,150.33 221.02,146.76 221.32,143.83 221.62,140.04 221.92,132.11 222.22,131.4 222.52,129.79 222.82,133.78 223.13,132.38 223.43,132.02 223.73,129.09 224.03,126.69 224.33,126.98 224.63,127.88 224.93,129.2 225.23,124.7 225.53,126.89 225.83,124.61 226.13,124.12 226.43,124.02 226.73,123.38 227.03,124.86 227.33,126.08 227.64,124.93 227.94,122.05 228.24,122.79 228.54,123.42 228.84,124.94 229.14,124.27 229.44,119.7 229.74,120 230.04,121.08 230.34,124.75 230.64,123.84 230.94,126.06 231.24,126.42 231.54,123.68 231.84,126.09 232.15,128.85 232.45,130.21 232.75,126.92 233.05,130.68 233.35,130.41 233.65,127.33 233.95,131.27 234.25,130.72 234.55,133.31 234.85,141.9 235.15,148.91 235.45,149.59 235.75,149.56 236.05,154.17 236.36,153.52 236.66,151.33 236.96,148.16 237.26,155.97 237.56,148.47 237.86,142.6 238.16,144 238.46,144.81 238.76,141.51 239.06,143.23 239.36,139.81 239.66,137.7 239.96,135.97 240.26,131.41 240.56,130.02 240.87,133.02 241.17,128.98 241.47,130.87 241.77,133.38 242.07,132.77 242.37,134.6 242.67,132.29 242.97,135.29 243.27,138.52 243.57,143.26 243.87,145.66 244.17,143.92 244.47,142.86 244.77,147.4 245.07,146.15 245.38,138.18 245.68,137.87 245.98,135.57 246.28,134.51 246.58,130.61 246.88,131.29 247.18,130.49 247.48,130.64 247.78,133.29 248.08,131.96 248.38,127.55 248.68,124.11 248.98,125.15 249.28,129.1 249.58,129.74 249.89,125.91 250.19,128.09 250.49,126.78 250.79,123.34 251.09,126.41 251.39,127.44 251.69,126.4 251.99,128.62 252.29,131.93 252.59,137.02 252.89,134.47 253.19,137.49 253.49,139.19 253.79,140.72 254.1,139.55 254.4,146.01 254.7,149.69 255,152.89 255.3,152.49 255.6,151.97 255.9,148.26 256.2,146.61 256.5,141.51 256.8,139.53 257.1,136.17 257.4,131.82 257.7,130.3 258,126.79 258.3,124.14 258.61,123.55 258.91,121.54 259.21,129.57 259.51,133.04 259.81,133.74 260.11,134.29 260.41,131.52 260.71,134.1 261.01,131.98 261.31,134.04 261.61,136.18 261.91,140.68 262.21,147.82 262.51,149.14 262.81,159.73 263.12,159.38 263.42,164.9 263.72,163.7 264.02,171.58 264.32,172.02 264.62,173.71 264.92,173.72 265.22,175.53 265.52,175.57 265.82,174.87 266.12,173.12 266.42,177.29 266.72,172.98 267.02,172.21 267.33,170.57 267.63,171.18 267.93,168.61 268.23,167.07 268.53,167.48 268.83,163.87 269.13,163.76 269.43,160.03 269.73,162.17 270.03,158.13 270.33,159.87 270.63,156.38 270.93,152.3 271.23,152.09 271.53,151.35 271.84,154.35 272.14,156.22 272.44,156.77 272.74,153.03 273.04,157.57 273.34,157.93 273.64,160.25 273.94,164.24 274.24,162.07 274.54,167.11 274.84,172.67 275.14,171.47 275.44,164.84 275.74,164.18 276.04,159.02 276.35,157 276.65,154.63 276.95,145 277.25,143.5 277.55,136.43 277.85,133.52 278.15,138.22 278.45,136.59 278.75,137.88 279.05,139.84 279.35,143.29 279.65,145.56 279.95,147.51 280.25,146.82 280.55,146.76 280.86,150.34 281.16,149.51 281.46,150.13 281.76,152.66 282.06,149.6 282.36,147.63 282.66,151.24 282.96,149.38 283.26,142.91 283.56,143.39 283.86,149.58 284.16,153.7 284.46,147.35 284.76,146.72 285.07,146.08 285.37,144.32 285.67,138.02 285.97,141.78 286.27,141.07 286.57,139.07 286.87,134.48 287.17,134.52 287.47,135.3 287.77,134.8 288.07,135.27 288.37,133.5 288.67,135.63 288.97,135.1 289.27,130.15 289.58,129.01 289.88,132.93 290.18,133.12 290.48,138.84 290.78,137.44 291.08,139.73 291.38,142.47 291.68,140.36 291.98,146.18 292.28,145.98 292.58,143.15 292.88,141.52 293.18,137.94 293.48,136.75 293.78,142.58 294.09,140.47 294.39,138.73 294.69,138.63 294.99,138.96 295.29,135.27 295.59,134.65 295.89,135.02 296.19,138.13 296.49,138.07 296.79,141.91 297.09,139.47 297.39,138.71 297.69,136.4 297.99,139.19 298.3,142.46 298.6,142.14 298.9,142.7 299.2,141.5 299.5,142.46 299.8,143.69 300.1,145.53 300.4,149.55 300.7,149.18 301,149.82 301.3,150.51 301.6,146.7 301.9,149.29 302.2,147.06 302.5,142.73 302.81,142.53 303.11,143.5 303.41,140.25 303.71,147.93 304.01,145.21 304.31,146.1 304.61,141.35 304.91,142.38 305.21,143 305.51,140.63 305.81,141.92 306.11,141.11 306.41,141.17 306.71,136.92 307.01,138.82 307.32,137.17 307.62,134.64 307.92,129.92 308.22,132.31 308.52,132.33 308.82,138.38 309.12,131.75 309.42,135.03 309.72,135.27 310.02,132.86 310.32,131 310.62,130.44 310.92,125.04 311.22,129.33 311.52,126.45 311.83,123.85 312.13,124.12 312.43,117.23 312.73,117.41 313.03,117.38 313.33,115.99 313.63,120.11 313.93,123.73 314.23,120.64 314.53,117.97 314.83,117.82 315.13,115.15 315.43,114.96 315.73,114.91 316.04,112.74 316.34,110.81 316.64,110.55 316.94,109.79 317.24,110.33 317.54,104.7 317.84,104.8 318.14,106.94 318.44,110.72 318.74,108.59 319.04,114.3 319.34,117.73 319.64,114.52 319.94,118.26 320.24,112.7 320.55,116.78 320.85,115.97 321.15,123.23 321.45,126.75 321.75,128.53 322.05,127.8 322.35,127.38 322.65,132.06 322.95,132.89 323.25,137.23 323.55,134.71 323.85,139.7 324.15,140.82 324.45,134.44 324.75,134.08 325.06,135.1 325.36,135.58 325.66,132.91 325.96,135.81 326.26,134.05 326.56,135.68 326.86,131.96 327.16,131.84 327.46,136.08 327.76,132.61 328.06,135.49 328.36,140.45 328.66,141.17 328.96,136.65 329.27,143.57 329.57,139.97 329.87,142.36 330.17,143.65 330.47,141.39 330.77,143.02 331.07,135.85 331.37,137.2 331.67,136.45 331.97,133.51 332.27,132 332.57,132.21 332.87,130.54 333.17,127.71 333.47,130.31 333.78,132.62 334.08,131.38 334.38,131.9 334.68,125.71 334.98,125.67 335.28,130.66 335.58,128.55 335.88,133.67 336.18,136.82 336.48,133.31 336.78,130.79 337.08,131.82 337.38,132.96 337.68,134.57 337.98,132.44 338.29,131.95 338.59,129.02 338.89,130.62 339.19,128.47 339.49,131.58 339.79,131.82 340.09,126.08 340.39,128.78 340.69,126.49 340.99,130.54 341.29,127.46 341.59,131.76 341.89,133.07 342.19,135.77 342.49,133.04 342.8,131.34 343.1,133.5 343.4,128.61 343.7,129.53 344,129.3 344.3,129.88 344.6,126.54 344.9,125.04 345.2,124.42 345.5,131.8 345.8,128.82 346.1,128.95 346.4,126.25 346.7,123.94 347.01,125.72 347.31,116.85 347.61,117.33 347.91,115.21 348.21,113.08 348.52,111.22 348.83,110.66 349.14,111.24 349.45,116.93" fill="none" stroke="#64d9fb" stroke-width="2.0" stroke-linejoin="round" clip-path="url(#ca01)"/>
<polyline points="357.7,197.45 357.97,196.84 358.26,194.66 358.56,199.47 358.85,200.47 359.15,201.61 359.45,202.22 359.74,206.58 360.04,207.28 360.33,208.93 360.63,206.37 360.92,205.52 361.22,204.34 361.52,203.92 361.82,196.62 362.12,203.77 362.42,201.97 362.72,200.21 363.02,200.59 363.32,196.69 363.62,195.8 363.92,195.89 364.22,189.08 364.52,193.83 364.82,190.78 365.13,194.98 365.43,194.62 365.73,197.7 366.03,206.99 366.33,207.2 366.63,209.76 366.93,215.21 367.23,221.99 367.53,217.04 367.83,220.55 368.13,217.07 368.43,215.48 368.73,208.15 369.03,206.8 369.33,207.79 369.64,202.01 369.94,196.54 370.24,193.04 370.54,189.6 370.84,189.8 371.14,186.55 371.44,185.59 371.74,189.02 372.04,186.13 372.34,184.64 372.64,194.53 372.94,191.13 373.24,196.08 373.54,194.23 373.84,193.69 374.15,195.92 374.45,193.82 374.75,193.56 375.05,193.91 375.35,193.11 375.65,195.14 375.95,198.61 376.25,191.54 376.55,188.99 376.85,191.66 377.15,191.63 377.45,192.69 377.75,191.27 378.05,195.7 378.36,197.37 378.66,195.58 378.96,201.73 379.26,200.61 379.56,207.1 379.86,208.73 380.16,211.6 380.46,214.68 380.76,212.53 381.06,207.06 381.36,202.98 381.66,196.56 381.96,197.35 382.26,194.27 382.56,187.44 382.87,180.85 383.17,184.57 383.47,186.14 383.77,189.98 384.07,187.22 384.37,187.03 384.67,190.82 384.97,192.03 385.27,195.26 385.57,197.53 385.87,193.81 386.17,189.11 386.47,193.98 386.77,192.34 387.07,193.46 387.38,185.63 387.68,188.45 387.98,189.35 388.28,187.33 388.58,188.54 388.88,187.26 389.18,186.35 389.48,187.99 389.78,187.92 390.08,186.92 390.38,185.2 390.68,184.09 390.98,184.91 391.28,184.78 391.58,182.23 391.89,184.27 392.19,186.6 392.49,184.33 392.79,181.86 393.09,185.31 393.39,183.48 393.69,181.04 393.99,183.43 394.29,181.45 394.59,185.42 394.89,185.04 395.19,186.58 395.49,190.08 395.79,192.01 396.1,190.1 396.4,184.25 396.7,186.87 397,186.57 397.3,192.14 397.6,196.48 397.9,196.44 398.2,196.71 398.5,197.01 398.8,197.88 399.1,195.96 399.4,198.84 399.7,197.35 400,195.01 400.3,197.57 400.61,202.96 400.91,200.98 401.21,195.28 401.51,200.31 401.81,199.41 402.11,199.48 402.41,196.56 402.71,197.45 403.01,200.32 403.31,195.35 403.61,196.41 403.91,195.62 404.21,191.84 404.51,192.63 404.81,199.04 405.12,200.83 405.42,209.57 405.72,210.13 406.02,219.03 406.32,224.11 406.62,228.11 406.92,229.94 407.22,233.56 407.52,226.62 407.82,227.75 408.12,226.25 408.42,225.71 408.72,225 409.02,220.94 409.33,216.26 409.63,216.08 409.93,211.79 410.23,212.05 410.53,209.77 410.83,215.08 411.13,213.35 411.43,219.84 411.73,215.85 412.03,215.76 412.33,217.72 412.63,217.04 412.93,215.38 413.23,216.06 413.53,217.69 413.84,216.26 414.14,216.86 414.44,214.38 414.74,210.58 415.04,208.38 415.34,197.98 415.64,195.87 415.94,193.26 416.24,189.07 416.54,192.92 416.84,191.83 417.14,190.49 417.44,195.25 417.74,193.48 418.04,194.04 418.35,191.31 418.65,196.58 418.95,196.74 419.25,199.59 419.55,202.3 419.85,199.13 420.15,194.89 420.45,191.75 420.75,196.3 421.05,193.08 421.35,193.54 421.65,192.38 421.95,182.41 422.25,186.97 422.55,188.46 422.86,190.9 423.16,191.93 423.46,194.19 423.76,192.83 424.06,197.29 424.36,197.15 424.66,199.7 424.96,205.39 425.26,204.94 425.56,202.5 425.86,205.97 426.16,203.66 426.46,205.63 426.76,209.18 427.07,204.01 427.37,203.88 427.67,201.63 427.97,203.02 428.27,203.61 428.57,203.1 428.87,201.39 429.17,196.23 429.47,196.35 429.77,197.2 430.07,202.44 430.37,198.33 430.67,205.4 430.97,204.48 431.27,202.67 431.58,210.76 431.88,212.09 432.18,210.29 432.48,213.5 432.78,216.54 433.08,213.52 433.38,220.07 433.68,216.26 433.98,218.67 434.28,215.89 434.58,211.93 434.88,212.56 435.18,212.74 435.48,214.15 435.78,209.93 436.09,209.65 436.39,212.58 436.69,211.74 436.99,210.77 437.29,212.54 437.59,208.54 437.89,215.01 438.19,210.44 438.49,211.14 438.79,209.8 439.09,211.9 439.39,208.87 439.69,206.54 439.99,207.91 440.3,209.09 440.6,207.4 440.9,211.6 441.2,209.56 441.5,209.82 441.8,209.2 442.1,207.85 442.4,203.78 442.7,206.21 443,201.71 443.3,200.7 443.6,207.37 443.9,211.05 444.2,209.64 444.5,213.18 444.81,215.29 445.11,223.41 445.41,225.05 445.71,228.81 446.01,230.72 446.31,234.09 446.61,240.55 446.91,241.11 447.21,237.73 447.51,232.12 447.81,227.31 448.11,220.21 448.41,220.57 448.71,210.91 449.01,205.12 449.32,201.93 449.62,198.99 449.92,198.16 450.22,195.94 450.52,198.21 450.82,198.09 451.12,199.14 451.42,205.52 451.72,199.25 452.02,202.09 452.32,204.5 452.62,203.79 452.92,203.94 453.22,207.82 453.52,206.5 453.83,202.47 454.13,204.51 454.43,207.58 454.73,207.29 455.03,207.07 455.33,209.21 455.63,208.76 455.93,210.49 456.23,212.83 456.53,210.96 456.83,208.24 457.13,214.67 457.43,215.3 457.73,213.03 458.04,211.85 458.34,215.84 458.64,218.86 458.94,221.71 459.24,223.48 459.54,223.14 459.84,224.02 460.14,222.57 460.44,224.85 460.74,227.35 461.04,233.1 461.34,230.45 461.64,238.18 461.94,239.82 462.24,237.94 462.55,233.49 462.85,232.02 463.15,230.14 463.45,228.46 463.75,220.06 464.05,218.4 464.35,218.11 464.65,217.27 464.95,214.1 465.25,209.8 465.55,207.33 465.85,202.59 466.15,209.62 466.45,211.78 466.75,212.74 467.06,212.1 467.36,214.48 467.66,217.83 467.96,219.82 468.26,225.75 468.56,230.55 468.86,231.16 469.16,227.51 469.46,231.95 469.76,231.47 470.06,233.51 470.36,240.08 470.66,234.62 470.96,234.29 471.27,236.91 471.57,242.38 471.87,242.64 472.17,239.86 472.47,241.08 472.77,240.55 473.07,240.08 473.37,235.43 473.67,234.37 473.97,228.09 474.27,227.5 474.57,226.34 474.87,220.6 475.17,221.58 475.47,227.33 475.78,226.27 476.08,226.9 476.38,230.91 476.68,235.26 476.98,239.27 477.28,238.91 477.58,242.65 477.88,242.17 478.18,242.76 478.48,253.24 478.78,244.63 479.08,236.82 479.38,235.76 479.68,230.31 479.98,229.28 480.29,218.5 480.59,215.14 480.89,216.68 481.19,212.98 481.49,206.15 481.79,206.9 482.09,203.64 482.39,200.87 482.69,203.57 482.99,203.56 483.29,199.13 483.59,198.73 483.89,201.07 484.19,199.13 484.49,197.27 484.8,199.35 485.1,203.34 485.4,203.68 485.7,201.18 486,197.95 486.3,205.41 486.6,206.76 486.9,210.75 487.2,210.97 487.5,210.92 487.8,213.52 488.1,213.11 488.4,214.29 488.7,214.68 489.01,212.59 489.31,220.53 489.61,224.66 489.91,223.13 490.21,223.78 490.51,230.1 490.8,228.37 491.1,225.31 491.4,222.07" fill="none" stroke="#6420fd" stroke-width="2.0" stroke-linejoin="round" clip-path="url(#ca02)"/>
<polyline points="357.7,183.31 357.97,183.21 358.26,181.38 358.56,187.55 358.85,181.77 359.15,183.75 359.45,187.14 359.74,188.26 360.04,189.04 360.33,185.72 360.63,191.83 360.92,188.37 361.22,188.99 361.52,191.91 361.82,194.74 362.12,196.27 362.42,203.66 362.72,204.68 363.02,209.04 363.32,206.18 363.62,212.04 363.92,214.07 364.22,213.77 364.52,212.29 364.82,211.35 365.13,208.77 365.43,207.25 365.73,205.89 366.03,204.67 366.33,202.85 366.63,200.16 366.93,200.17 367.23,196.13 367.53,200.72 367.83,198.02 368.13,197.25 368.43,191.59 368.73,185.15 369.03,180.7 369.33,179.36 369.64,177.9 369.94,176.57 370.24,174.76 370.54,178.74 370.84,173.89 371.14,182.62 371.44,182.03 371.74,183.85 372.04,180.7 372.34,185.23 372.64,183.76 372.94,188.75 373.24,192.07 373.54,194.58 373.84,196.17 374.15,198.01 374.45,200.07 374.75,205.31 375.05,206.86 375.35,209.3 375.65,216.97 375.95,211.66 376.25,206.01 376.55,199.43 376.85,195.24 377.15,198.7 377.45,200.84 377.75,195.96 378.05,192.63 378.36,192.57 378.66,192.27 378.96,193 379.26,189.65 379.56,186.25 379.86,187.21 380.16,182.71 380.46,178.81 380.76,177.16 381.06,177.5 381.36,176.5 381.66,176.22 381.96,175.32 382.26,179.72 382.56,175.81 382.87,167.11 383.17,165.1 383.47,167.61 383.77,165.64 384.07,171.62 384.37,167.09 384.67,164.89 384.97,169 385.27,171.82 385.57,176.9 385.87,179.02 386.17,183.3 386.47,184.8 386.77,182.49 387.07,191.1 387.38,199.6 387.68,192.84 387.98,189.68 388.28,190.29 388.58,185.87 388.88,184.22 389.18,181.26 389.48,180.69 389.78,177.21 390.08,179.62 390.38,174.34 390.68,170.03 390.98,163.99 391.28,167.48 391.58,167.06 391.89,171.49 392.19,173.79 392.49,180.5 392.79,175.53 393.09,176.52 393.39,179.87 393.69,174.46 393.99,177.71 394.29,181.54 394.59,178.4 394.89,176.56 395.19,178.53 395.49,176.64 395.79,175.56 396.1,176.14 396.4,172.02 396.7,176.6 397,172.54 397.3,171.41 397.6,172.04 397.9,168.03 398.2,169.85 398.5,174.73 398.8,178.63 399.1,184.11 399.4,191.06 399.7,190.2 400,188.9 400.3,183.34 400.61,184.31 400.91,177.95 401.21,175.04 401.51,175.46 401.81,170.19 402.11,166.27 402.41,163.61 402.71,156.39 403.01,158.72 403.31,160.54 403.61,161.91 403.91,160.86 404.21,156.2 404.51,157.87 404.81,162.54 405.12,160.81 405.42,160.01 405.72,163.37 406.02,164.96 406.32,164.82 406.62,166.94 406.92,169.01 407.22,169.78 407.52,170.46 407.82,175.09 408.12,170.46 408.42,175.11 408.72,171.44 409.02,166.8 409.33,167.73 409.63,168.18 409.93,162.17 410.23,162.43 410.53,163.43 410.83,163.06 411.13,160.3 411.43,155.73 411.73,155.59 412.03,160.38 412.33,153.96 412.63,160.37 412.93,154.68 413.23,151.59 413.53,148.5 413.84,149.87 414.14,150.78 414.44,148.4 414.74,155.15 415.04,156.06 415.34,154.65 415.64,150.23 415.94,150.95 416.24,151.95 416.54,155.63 416.84,155.51 417.14,153.58 417.44,155.76 417.74,157.22 418.04,158.97 418.35,162.4 418.65,160.5 418.95,158.39 419.25,164.82 419.55,167.51 419.85,163.87 420.15,164.81 420.45,160.95 420.75,161.19 421.05,159.72 421.35,153.25 421.65,150.35 421.95,150.19 422.25,145.94 422.55,143.57 422.86,142.2 423.16,142.2 423.46,141.21 423.76,140.95 424.06,142.73 424.36,147.54 424.66,148.56 424.96,149.18 425.26,147.34 425.56,147.24 425.86,146.48 426.16,147.68 426.46,144.19 426.76,146.14 427.07,145.6 427.37,143.95 427.67,142.72 427.97,139.89 428.27,142.92 428.57,143.17 428.87,143.97 429.17,144.49 429.47,144.54 429.77,148.22 430.07,145.55 430.37,145.22 430.67,151.82 430.97,154.48 431.27,156.06 431.58,160.43 431.88,157.18 432.18,156.01 432.48,155.47 432.78,150.79 433.08,152.19 433.38,152.75 433.68,150.81 433.98,147.9 434.28,145.95 434.58,141.25 434.88,142.14 435.18,147.29 435.48,150.64 435.78,149.43 436.09,148.01 436.39,152.91 436.69,155.42 436.99,155.77 437.29,150.7 437.59,151.39 437.89,151.02 438.19,146.5 438.49,142.8 438.79,141.36 439.09,141.32 439.39,140.79 439.69,139.83 439.99,137.2 440.3,133.88 440.6,133.63 440.9,138.12 441.2,139.18 441.5,142.23 441.8,142.95 442.1,143 442.4,145.18 442.7,147.95 443,147.13 443.3,151.41 443.6,153.42 443.9,157.54 444.2,161.92 444.5,158.24 444.81,153.69 445.11,151.58 445.41,145.79 445.71,145.48 446.01,145.53 446.31,141.88 446.61,140.81 446.91,133.99 447.21,126.19 447.51,126.96 447.81,129.54 448.11,125.71 448.41,130.88 448.71,128.69 449.01,133.66 449.32,131.3 449.62,132.02 449.92,134.88 450.22,132.02 450.52,135.72 450.82,133.67 451.12,133.9 451.42,130.92 451.72,128.02 452.02,124.82 452.32,126.98 452.62,123.04 452.92,119.26 453.22,110.75 453.52,118.41 453.83,118.73 454.13,120.23 454.43,123.03 454.73,123.53 455.03,127.44 455.33,126.38 455.63,128.08 455.93,128.73 456.23,130.89 456.53,131.76 456.83,133.26 457.13,132.11 457.43,131.04 457.73,131.2 458.04,127.66 458.34,125.6 458.64,126.13 458.94,126.16 459.24,128.45 459.54,122.33 459.84,126.47 460.14,122.93 460.44,120.32 460.74,122.03 461.04,122.5 461.34,124.01 461.64,117.1 461.94,121.76 462.24,121.79 462.55,123.96 462.85,120.68 463.15,116.1 463.45,116.99 463.75,117.21 464.05,119.27 464.35,120.44 464.65,113.53 464.95,111.72 465.25,115.65 465.55,115.5 465.85,119.79 466.15,122.62 466.45,125.96 466.75,122.69 467.06,124.05 467.36,123.78 467.66,122.84 467.96,121.34 468.26,124.54 468.56,125.4 468.86,122.48 469.16,120.44 469.46,115.21 469.76,117.5 470.06,117.37 470.36,113.98 470.66,117.67 470.96,115.42 471.27,111.31 471.57,112.54 471.87,111.36 472.17,112.05 472.47,111.5 472.77,114.97 473.07,112.58 473.37,114.23 473.67,116.93 473.97,117.75 474.27,119.31 474.57,118.17 474.87,118.35 475.17,119.83 475.47,118.42 475.78,120.6 476.08,117.78 476.38,117.7 476.68,116.26 476.98,118.58 477.28,114.4 477.58,116.5 477.88,117.83 478.18,116.51 478.48,117.57 478.78,112.42 479.08,108.27 479.38,108.88 479.68,109.33 479.98,111.36 480.29,109.56 480.59,108.8 480.89,108.82 481.19,113.22 481.49,109.23 481.79,108.78 482.09,109.24 482.39,112.18 482.69,106.33 482.99,102.62 483.29,104.88 483.59,103.73 483.89,103.53 484.19,100.06 484.49,107.07 484.8,102.25 485.1,104.82 485.4,105.98 485.7,106.88 486,108.9 486.3,104.58 486.6,100.88 486.9,102.89 487.2,105.02 487.5,103.15 487.8,101.78 488.1,104.43 488.4,100.02 488.7,104.94 489.01,98.52 489.31,97.28 489.61,98.36 489.91,96.74 490.21,99.74 490.51,97.71 490.8,97.23 491.1,97.53 491.4,101.1" fill="none" stroke="#2edb48" stroke-width="2.0" stroke-linejoin="round" clip-path="url(#ca02)"/>
<polyline points="357.7,184.22 357.97,184.6 358.26,190.82 358.56,193.07 358.85,195.12 359.14,197.05 359.43,205.5 359.73,209.06 360.02,211.71 360.31,214.28 360.61,211.88 360.92,217.95 361.22,218.92 361.52,222.36 361.82,228.33 362.12,227.33 362.42,228.42 362.72,232.41 363.02,232.24 363.32,229.13 363.62,222.91 363.92,219.09 364.22,213.95 364.52,216.16 364.82,215.79 365.13,209.65 365.43,206.11 365.73,202.18 366.03,209.63 366.33,208.89 366.63,206.19 366.93,207.31 367.23,209.55 367.53,205.13 367.83,207.5 368.13,208.65 368.43,207.97 368.73,212.06 369.03,216.32 369.33,216.87 369.64,217.79 369.94,222.83 370.24,224.68 370.54,227.64 370.84,234.13 371.14,234.61 371.44,235.38 371.74,234.31 372.04,239.52 372.34,236.3 372.64,233.05 372.94,229.13 373.24,225.4 373.54,220.28 373.84,215.48 374.15,216.88 374.45,214.81 374.75,213.67 375.05,213.54 375.35,216.43 375.65,213.52 375.95,215.75 376.25,217.7 376.55,220.01 376.85,215.33 377.15,214.72 377.45,213.1 377.75,209.77 378.05,208.54 378.36,206.14 378.66,201.67 378.96,200.37 379.26,197.21 379.56,203.7 379.86,201.48 380.16,199.83 380.46,197.43 380.76,200.04 381.06,202.15 381.36,202.39 381.66,199.36 381.96,199.13 382.26,199.08 382.56,202.25 382.87,201.27 383.17,203.61 383.47,209.62 383.77,204.07 384.07,206.28 384.37,208.35 384.67,206.34 384.97,212.2 385.27,212.1 385.57,214.22 385.87,216.2 386.17,219.61 386.47,216.76 386.77,216.32 387.07,215.28 387.38,215.56 387.68,219.86 387.98,214.67 388.28,208 388.58,209.5 388.88,211.07 389.18,203.68 389.48,201.34 389.78,195.66 390.08,190.36 390.38,194.48 390.68,194.32 390.98,194.79 391.28,198.36 391.58,201.22 391.89,201.46 392.19,205.63 392.49,203.29 392.79,203.62 393.09,207.19 393.39,212.37 393.69,214.48 393.99,211.22 394.29,207.26 394.59,201.44 394.89,205.07 395.19,202.1 395.49,205.93 395.79,201.35 396.1,194.01 396.4,197.64 396.7,196.13 397,193.1 397.3,192.84 397.6,195.27 397.9,198.37 398.2,196.1 398.5,200.94 398.8,205.32 399.1,204.5 399.4,211.65 399.7,212.5 400,209.78 400.3,218.83 400.61,219.18 400.91,221.78 401.21,223.67 401.51,230.99 401.81,230.8 402.11,225.16 402.41,221.31 402.71,220.98 403.01,219.19 403.31,213.74 403.61,213.69 403.91,208.07 404.21,206.13 404.51,204.53 404.81,201.58 405.12,198.65 405.42,195.8 405.72,195.28 406.02,197.61 406.32,199.63 406.62,197.49 406.92,196.99 407.22,201.74 407.52,203.66 407.82,205.7 408.12,208.72 408.42,209.86 408.72,208.93 409.02,211.94 409.33,210.12 409.63,215.48 409.93,216.28 410.23,214.43 410.53,212.4 410.83,214.62 411.13,214.22 411.43,212.94 411.73,215.75 412.03,216.18 412.33,218.45 412.63,217.17 412.93,221.94 413.23,223.69 413.53,216.77 413.84,213.66 414.14,215.54 414.44,222.75 414.74,224.08 415.04,223.91 415.34,224.73 415.64,222.04 415.94,224.85 416.24,223.65 416.54,226.68 416.84,227.07 417.14,227.35 417.44,228.47 417.74,232.35 418.04,237.86 418.35,232.24 418.65,236.61 418.95,236.49 419.25,241.85 419.55,243.83 419.85,240.8 420.15,242.58 420.45,247.28 420.75,250.53 421.05,241.1 421.35,233.48 421.65,230.64 421.95,229.1 422.25,224.65 422.55,218.52 422.86,213.68 423.16,208.85 423.46,202.93 423.76,195.36 424.06,193.27 424.36,188.88 424.66,189.94 424.96,188.07 425.26,186.07 425.56,188.14 425.86,189.11 426.16,191.59 426.46,185.05 426.76,184.39 427.07,184.51 427.37,193.53 427.67,188.49 427.97,196.09 428.27,196.96 428.57,198.62 428.87,205.68 429.17,210.23 429.47,204.63 429.77,208.9 430.07,210.77 430.37,209.39 430.67,211.8 430.97,207.24 431.27,205.85 431.58,199.81 431.88,202.98 432.18,202.13 432.48,202.54 432.78,198.41 433.08,201.87 433.38,196.45 433.68,200.27 433.98,201.79 434.28,195.72 434.58,195.74 434.88,193.57 435.18,189.77 435.48,193.66 435.78,193.76 436.09,196.76 436.39,198.38 436.69,191 436.99,191.17 437.29,192.59 437.59,193.96 437.89,192.6 438.19,189.53 438.49,189.32 438.79,191.08 439.09,186.87 439.39,184.78 439.69,183.82 439.99,184.62 440.3,189.34 440.6,186.75 440.9,186.54 441.2,186.76 441.5,185.21 441.8,181.03 442.1,177.27 442.4,174.67 442.7,171.71 443,168.29 443.3,168.5 443.6,168.37 443.9,163.52 444.2,159.54 444.5,162.22 444.81,164.21 445.11,167.64 445.41,168.43 445.71,169.33 446.01,166.64 446.31,168.88 446.61,170.91 446.91,171.79 447.21,175.55 447.51,176.82 447.81,176.26 448.11,180.6 448.41,185.4 448.71,191.55 449.01,189.61 449.32,189.22 449.62,193.58 449.92,198.65 450.22,196.73 450.52,200.17 450.82,200.84 451.12,205.09 451.42,204.37 451.72,205.35 452.02,207 452.32,208.82 452.62,207.84 452.92,210.74 453.22,211.46 453.52,219.02 453.83,221.75 454.13,219.08 454.43,219.22 454.73,222.15 455.03,222.08 455.33,221.9 455.63,224.98 455.93,227.52 456.23,227.33 456.53,229.71 456.83,227.72 457.13,226.8 457.43,226.03 457.73,225.89 458.04,225.26 458.34,230.53 458.64,231.67 458.94,224.66 459.24,219.49 459.54,212.27 459.84,210.06 460.14,204.39 460.44,199.26 460.74,193.98 461.04,186.18 461.34,182.38 461.64,182.89 461.94,174.63 462.24,168.25 462.55,170.53 462.85,170.64 463.15,171.34 463.45,172.05 463.75,173.61 464.05,177.31 464.35,174.16 464.65,175.78 464.95,177.43 465.25,182.11 465.55,182.6 465.85,186.68 466.15,186.53 466.45,191.94 466.75,188.46 467.06,196.54 467.36,193.44 467.66,195.36 467.96,195.49 468.26,198.34 468.56,204.59 468.86,206.53 469.16,205.14 469.46,207.97 469.76,209.24 470.06,205.96 470.36,201.15 470.66,199.58 470.96,197.83 471.27,190.72 471.57,189.43 471.87,189.16 472.17,191.94 472.47,189.13 472.77,185.66 473.07,178.69 473.37,179.88 473.67,178.15 473.97,181.51 474.27,181.5 474.57,185.04 474.87,184.78 475.17,185.08 475.47,186.17 475.78,188.3 476.08,186.44 476.38,185.53 476.68,187.05 476.98,196.4 477.28,192.62 477.58,191.72 477.88,195.3 478.18,193.43 478.48,198.79 478.78,198.08 479.08,200.95 479.38,203.36 479.68,204.07 479.98,208.7 480.29,210.61 480.59,211.44 480.89,209.88 481.19,205.96 481.49,206.23 481.79,205.22 482.09,202.76 482.39,201.07 482.69,201.6 482.99,196.79 483.29,198.42 483.59,195.76 483.89,194.57 484.19,196.17 484.49,200.76 484.8,194.34 485.1,190.85 485.4,195.47 485.7,194.02 486,194.64 486.3,191.5 486.6,196.5 486.9,196.79 487.2,192.67 487.5,197.28 487.8,198.31 488.1,198.69 488.4,197.01 488.7,205.91 489.01,204.06 489.31,208.13 489.61,207.76 489.91,207.88 490.21,213.68 490.51,214.48 490.8,214.7 491.1,212.28 491.4,213.6" fill="none" stroke="#64d9fb" stroke-width="2.0" stroke-linejoin="round" clip-path="url(#ca02)"/>
<polyline points="499.65,176.98 499.97,178.91 500.26,182.07 500.56,185.78 500.85,180.02 501.14,179.77 501.43,179.71 501.73,181.67 502.02,183.4 502.31,181.9 502.61,182.71 502.92,177.71 503.22,179.32 503.52,175.22 503.82,175.31 504.12,174.51 504.42,171.62 504.72,168.08 505.02,165.01 505.32,165.32 505.62,173.03 505.92,174.72 506.22,179.51 506.52,178.69 506.82,179.24 507.13,178.13 507.43,179.47 507.73,177.71 508.03,181.7 508.33,182.7 508.63,183.74 508.93,183.5 509.23,176.6 509.53,169.56 509.83,174.29 510.13,174.31 510.43,170.64 510.73,170.33 511.03,174.85 511.33,179.5 511.64,178.33 511.94,175.42 512.24,178.42 512.54,180.64 512.84,176.15 513.14,179.58 513.44,177 513.74,178.81 514.04,181.06 514.34,179.88 514.64,175.06 514.94,177.39 515.24,173.37 515.54,176.59 515.84,170.9 516.15,171.72 516.45,171.63 516.75,170.58 517.05,172.02 517.35,172.25 517.65,175.82 517.95,173.06 518.25,172.96 518.55,166.67 518.85,169.05 519.15,168.88 519.45,169.43 519.75,169.14 520.05,162.58 520.36,158.26 520.66,157.26 520.96,156.59 521.26,160.78 521.56,154.75 521.86,157.65 522.16,161.45 522.46,160.25 522.76,156.79 523.06,156.99 523.36,160.88 523.66,163.15 523.96,162 524.26,163.02 524.56,166.3 524.87,163.44 525.17,168.39 525.47,163.09 525.77,168.48 526.07,161.35 526.37,165.07 526.67,162.75 526.97,157.5 527.27,159.15 527.57,160.45 527.87,160.62 528.17,159.08 528.47,157.3 528.77,155.84 529.07,155.82 529.38,158.2 529.68,156.85 529.98,156.44 530.28,154.56 530.58,157.76 530.88,161.93 531.18,163.48 531.48,155.81 531.78,153.97 532.08,153.14 532.38,154.91 532.68,161.84 532.98,159.09 533.28,159.53 533.58,159.29 533.89,155.27 534.19,154.6 534.49,155.15 534.79,154.68 535.09,155.43 535.39,155.05 535.69,155.15 535.99,151.29 536.29,156.07 536.59,156.3 536.89,155.07 537.19,156.06 537.49,156.37 537.79,154.74 538.1,161.58 538.4,162.38 538.7,167.45 539,171.48 539.3,166.77 539.6,166.31 539.9,171.23 540.2,171.38 540.5,171.27 540.8,172.35 541.1,175.37 541.4,172.46 541.7,175.43 542,179.68 542.3,177.59 542.61,177.68 542.91,180.24 543.21,183.07 543.51,184.69 543.81,184.51 544.11,186.16 544.41,180.49 544.71,183.52 545.01,181.49 545.31,177.86 545.61,172.99 545.91,178.13 546.21,176.35 546.51,175.86 546.81,177.73 547.12,172.89 547.42,173.46 547.72,173.2 548.02,174.44 548.32,170.93 548.62,172.81 548.92,166.82 549.22,165.02 549.52,162.14 549.82,159.57 550.12,164.72 550.42,162.52 550.72,160.19 551.02,159.21 551.33,159.96 551.63,156.55 551.93,158.36 552.23,161.75 552.53,159.48 552.83,161.67 553.13,162.55 553.43,161.87 553.73,161.21 554.03,163.34 554.33,166.82 554.63,169.57 554.93,165.8 555.23,169.16 555.53,172.14 555.84,165.85 556.14,163.54 556.44,166.8 556.74,167.83 557.04,167.12 557.34,168.79 557.64,166.44 557.94,166.49 558.24,162.23 558.54,159.85 558.84,155.84 559.14,156.09 559.44,156.93 559.74,157.61 560.04,161.92 560.35,163.9 560.65,163.52 560.95,165.94 561.25,168.12 561.55,170.16 561.85,169.01 562.15,172.88 562.45,172.45 562.75,175.18 563.05,171.11 563.35,174.63 563.65,165.65 563.95,166.95 564.25,160.85 564.55,163.7 564.86,156 565.16,156.54 565.46,153.01 565.76,155.28 566.06,150.31 566.36,150.77 566.66,152.87 566.96,154.61 567.26,151.44 567.56,146.8 567.86,148.79 568.16,148.63 568.46,150.47 568.76,149.78 569.07,147.86 569.37,150.09 569.67,155.57 569.97,156.07 570.27,154.23 570.57,156.49 570.87,152.63 571.17,153.67 571.47,155.87 571.77,156.43 572.07,156.43 572.37,158.52 572.67,164.5 572.97,161.19 573.27,160.68 573.58,163.44 573.88,153.43 574.18,154.62 574.48,157.85 574.78,152.67 575.08,152.96 575.38,157.25 575.68,155.44 575.98,154.65 576.28,158.86 576.58,151.92 576.88,157.89 577.18,154.95 577.48,159.05 577.78,162.08 578.09,163.02 578.39,163.26 578.69,167.11 578.99,168.51 579.29,171.03 579.59,173.35 579.89,174.18 580.19,177.34 580.49,173.24 580.79,168.11 581.09,166.53 581.39,170.41 581.69,169.36 581.99,171.62 582.3,174.03 582.6,178.99 582.9,174.14 583.2,176.87 583.5,173.59 583.8,178.31 584.1,172.62 584.4,180.21 584.7,177.51 585,182.42 585.3,178.74 585.6,173.82 585.9,172.67 586.2,171.09 586.5,172.49 586.81,175.01 587.11,173 587.41,170.27 587.71,168.76 588.01,172.92 588.31,167.14 588.61,168.7 588.91,164.67 589.21,162.78 589.51,165.34 589.81,160.01 590.11,165.41 590.41,166.98 590.71,159.96 591.01,156.08 591.32,156.27 591.62,155.23 591.92,153.03 592.22,156.02 592.52,160.04 592.82,154.37 593.12,153.49 593.42,149.52 593.72,151.29 594.02,151.64 594.32,154.04 594.62,156.77 594.92,157.6 595.22,160.49 595.52,160.34 595.83,164.16 596.13,161.6 596.43,167.23 596.73,168.74 597.03,172.18 597.33,170.16 597.63,168.58 597.93,167.64 598.23,165.32 598.53,164.69 598.83,158.48 599.13,158.58 599.43,160.48 599.73,156.46 600.04,163.39 600.34,163.33 600.64,154.96 600.94,159.56 601.24,157.8 601.54,157.02 601.84,158.4 602.14,153.49 602.44,153.37 602.74,154.28 603.04,150.01 603.34,149.12 603.64,148.99 603.94,149.27 604.24,145.49 604.55,149.3 604.85,150.99 605.15,157.1 605.45,157.62 605.75,162.73 606.05,164.58 606.35,165.48 606.65,170.95 606.95,174.08 607.25,174.83 607.55,180.04 607.85,184.79 608.15,175.4 608.45,177 608.75,169.3 609.06,170.12 609.36,171.1 609.66,169.56 609.96,167.44 610.26,163.94 610.56,163.16 610.86,156.99 611.16,160.99 611.46,151.34 611.76,154.49 612.06,153.27 612.36,156.95 612.66,158.49 612.96,158.79 613.27,165.49 613.57,164.8 613.87,165.21 614.17,167.99 614.47,172.13 614.77,174.14 615.07,173.37 615.37,175.74 615.67,177.36 615.97,178.38 616.27,175.27 616.57,175.54 616.87,170.38 617.17,173.78 617.47,174.2 617.78,170.67 618.08,167.8 618.38,162.14 618.68,163.36 618.98,165.95 619.28,159.71 619.58,162.39 619.88,160.19 620.18,165.6 620.48,164.2 620.78,165.35 621.08,161.9 621.38,160.3 621.68,157.83 621.98,162.78 622.29,159.9 622.59,159.72 622.89,156.07 623.19,157.9 623.49,155.03 623.79,156.37 624.09,159.29 624.39,155.39 624.69,152.31 624.99,153.97 625.29,153.52 625.59,150.95 625.89,147.23 626.19,149.77 626.49,151.03 626.8,150.69 627.1,152.77 627.4,150.91 627.7,149.71 628,146.29 628.3,148.55 628.6,150.2 628.9,150.25 629.2,154.74 629.5,154.31 629.8,157.35 630.1,156.56 630.4,159.38 630.7,162.8 631.01,163.4 631.31,165.56 631.61,165.02 631.91,161.6 632.21,167.01 632.49,165.46 632.78,163.01 633.06,168.33 633.35,166.85" fill="none" stroke="#6420fd" stroke-width="2.0" stroke-linejoin="round" clip-path="url(#ca03)"/>
<polyline points="499.65,167.08 499.97,166.87 500.26,172.71 500.55,180.45 500.83,185.03 501.12,187.06 501.41,195.7 501.71,197.02 502.01,198.63 502.31,201.03 502.61,203.23 502.92,207.29 503.22,208.67 503.52,208.88 503.82,207.9 504.12,207.82 504.42,208.94 504.72,211.21 505.02,208.37 505.32,206.16 505.62,206.07 505.92,200.58 506.22,200.39 506.52,201.5 506.82,202.14 507.13,198.61 507.43,197.71 507.73,196.08 508.03,195.74 508.33,190.13 508.63,190.93 508.93,185.32 509.23,179.48 509.53,180.98 509.83,180.89 510.13,184.76 510.43,185.44 510.73,180.86 511.03,183.6 511.33,179.92 511.64,180.27 511.94,179.56 512.24,179.88 512.54,181.33 512.84,181.12 513.14,179.99 513.44,181.49 513.74,182.29 514.04,180.57 514.34,180.27 514.64,181.34 514.94,184.68 515.24,184.83 515.54,191.66 515.84,187.47 516.15,186.08 516.45,190.79 516.75,195.04 517.05,195.37 517.35,197.1 517.65,200.01 517.95,198.36 518.25,195.35 518.55,197.08 518.85,202.12 519.15,199.24 519.45,202.42 519.75,201.57 520.05,198.61 520.36,198.64 520.66,197.05 520.96,199.3 521.26,194.88 521.56,188.92 521.86,185.38 522.16,182.07 522.46,183.73 522.76,179.51 523.06,177.74 523.36,179.23 523.66,175.95 523.96,175.3 524.26,171 524.56,170.72 524.87,171.48 525.17,173.76 525.47,176.17 525.77,173.88 526.07,173.27 526.37,172.45 526.67,173.94 526.97,176.33 527.27,177.01 527.57,175.42 527.87,180.55 528.17,182.56 528.47,186.58 528.77,186.4 529.07,192.25 529.38,190.29 529.68,195.16 529.98,194.67 530.28,194.05 530.58,193.42 530.88,196.58 531.18,202.68 531.48,204.76 531.78,206.37 532.08,200.79 532.38,207 532.68,210.19 532.98,209.92 533.28,207.3 533.58,206.78 533.89,209.72 534.19,203.32 534.49,201.29 534.79,203.78 535.09,199.5 535.39,197.02 535.69,196.17 535.99,190.88 536.29,190.8 536.59,185.92 536.89,187.51 537.19,184.61 537.49,187.43 537.79,182.35 538.1,181.46 538.4,173.3 538.7,175.01 539,177.48 539.3,182.58 539.6,177.18 539.9,182.1 540.2,183.84 540.5,187.51 540.8,187.74 541.1,186.98 541.4,183.02 541.7,178.62 542,179.22 542.3,177.46 542.61,180.94 542.91,174.98 543.21,173.73 543.51,167.65 543.81,166.93 544.11,167.12 544.41,167.46 544.71,168 545.01,166.89 545.31,164.78 545.61,168.6 545.91,171.17 546.21,173.04 546.51,171.85 546.81,176.64 547.12,176.97 547.42,179.46 547.72,182.73 548.02,183.35 548.32,183.74 548.62,186.83 548.92,182.98 549.22,179.62 549.52,178.7 549.82,181.06 550.12,178.21 550.42,177.48 550.72,178.26 551.02,173.96 551.33,168.81 551.63,171.03 551.93,171.22 552.23,170.86 552.53,174.96 552.83,176.69 553.13,174.29 553.43,177.66 553.73,178.02 554.03,175.83 554.33,180.28 554.63,181.6 554.93,181.18 555.23,184.75 555.53,186.82 555.84,182.83 556.14,182.47 556.44,182.72 556.74,177.61 557.04,177.1 557.34,174.91 557.64,178.34 557.94,168.79 558.24,169.99 558.54,167 558.84,165.21 559.14,168.18 559.44,166.34 559.74,171.45 560.04,167.58 560.35,168.4 560.65,167.2 560.95,166.73 561.25,168.82 561.55,169.31 561.85,171.14 562.15,163.05 562.45,167.8 562.75,162.72 563.05,163.44 563.35,155.37 563.65,153.44 563.95,157.7 564.25,147.99 564.55,140.81 564.86,143.61 565.16,148.48 565.46,152.27 565.76,156.54 566.06,155.88 566.36,153.73 566.66,156.98 566.96,163.59 567.26,165.72 567.56,159.46 567.86,161.27 568.16,165.13 568.46,168.15 568.76,165.35 569.07,163.36 569.37,158.6 569.67,157.37 569.97,158.73 570.27,160.09 570.57,160.55 570.87,157.94 571.17,156.22 571.47,156.88 571.77,156.69 572.07,161.35 572.37,156.63 572.67,159.9 572.97,163.53 573.27,167.99 573.58,166.76 573.88,168.94 574.18,166.93 574.48,165.75 574.78,165.95 575.08,171.75 575.38,173.29 575.68,173.17 575.98,180.38 576.28,175.74 576.58,175.91 576.88,175.72 577.18,174.86 577.48,176.44 577.78,172.85 578.09,162.21 578.39,158.05 578.69,156.07 578.99,153.84 579.29,145.59 579.59,137.84 579.89,133.28 580.19,137.96 580.49,140.12 580.79,142.41 581.09,141.03 581.39,139.75 581.69,137.7 581.99,142.85 582.3,145.36 582.6,148.21 582.9,149.23 583.2,147.66 583.5,151.07 583.8,148.35 584.1,145.83 584.4,144.97 584.7,144.3 585,140.08 585.3,143.75 585.6,145.26 585.9,144.22 586.2,142.79 586.5,144.62 586.81,148.38 587.11,145.7 587.41,144.05 587.71,143.55 588.01,144.96 588.31,143.03 588.61,145.34 588.91,147.07 589.21,152.37 589.51,152.7 589.81,153.41 590.11,148.57 590.41,149.5 590.71,145.12 591.01,146.4 591.32,146.73 591.62,143.61 591.92,148.52 592.22,146.63 592.52,139.56 592.82,142.15 593.12,140.47 593.42,140.33 593.72,140.95 594.02,140.59 594.32,134.22 594.62,133.82 594.92,138.12 595.22,140.95 595.52,143.38 595.83,143.96 596.13,134.86 596.43,137.8 596.73,132.44 597.03,138.56 597.33,137.62 597.63,133.78 597.93,139.61 598.23,138.54 598.53,131.92 598.83,134.34 599.13,134.16 599.43,136.82 599.73,137.23 600.04,142.5 600.34,138.67 600.64,142 600.94,147.62 601.24,144.3 601.54,146.17 601.84,144.01 602.14,139.57 602.44,139.54 602.74,136.78 603.04,131.75 603.34,134.74 603.64,132.18 603.94,127.43 604.24,122.97 604.55,122.99 604.85,128.53 605.15,128.18 605.45,130.21 605.75,130.21 606.05,132.84 606.35,132.86 606.65,135.69 606.95,135.29 607.25,138.26 607.55,139.8 607.85,139.26 608.15,134.98 608.45,132 608.75,130.2 609.06,127.81 609.36,130.19 609.66,127.88 609.96,129.73 610.26,131.07 610.56,125.16 610.86,117.96 611.16,116.78 611.46,115.95 611.76,111.17 612.06,111.13 612.36,111.31 612.66,111.98 612.96,112.5 613.27,113.73 613.57,121.28 613.87,120.65 614.17,119.79 614.47,121.53 614.77,126.38 615.07,125.41 615.37,128.79 615.67,131.72 615.97,133.94 616.27,134.11 616.57,128.57 616.87,129.4 617.17,124.18 617.47,122.08 617.78,124.07 618.08,123.01 618.38,119.68 618.68,114.53 618.98,117.6 619.28,116.16 619.58,115.07 619.88,115.47 620.18,117.94 620.48,113.47 620.78,117.77 621.08,119.23 621.38,118.19 621.68,121.81 621.98,122.43 622.29,119.96 622.59,119.3 622.89,122.65 623.19,119.08 623.49,120.83 623.79,121.18 624.09,123.35 624.39,122.81 624.69,121.28 624.99,122.38 625.29,119.76 625.59,116.52 625.89,112.18 626.19,114.15 626.49,113.57 626.8,114.64 627.1,108.93 627.4,107.58 627.7,105.94 628,107.02 628.3,108.41 628.6,105.57 628.9,111.21 629.2,113.78 629.5,116.67 629.8,121.21 630.1,117.63 630.4,117.59 630.7,116 631.01,119.25 631.31,111.07 631.61,112.36 631.91,107.49 632.21,102.18 632.49,101.87 632.78,103.27 633.06,109.67 633.35,107.61" fill="none" stroke="#2edb48" stroke-width="2.0" stroke-linejoin="round" clip-path="url(#ca03)"/>
<polyline points="499.65,203.46 499.97,202.2 500.26,204.76 500.56,207.6 500.85,206.03 501.15,205.05 501.45,207.08 501.74,212.77 502.04,218.12 502.33,219.43 502.63,217.78 502.92,225.09 503.22,222.22 503.52,219.21 503.82,215.64 504.12,214.01 504.42,213.2 504.72,204.55 505.02,201.72 505.32,199.93 505.62,193.52 505.92,191.35 506.22,193.4 506.52,191.07 506.82,190.68 507.13,193.99 507.43,195.39 507.73,197.5 508.03,203.56 508.33,203.33 508.63,202.65 508.93,200.96 509.23,205.18 509.53,203.78 509.83,209.82 510.13,212.31 510.43,206.7 510.73,207.42 511.03,211.05 511.33,212.99 511.64,212.71 511.94,213.68 512.24,219.7 512.54,219.96 512.84,218.59 513.14,221.92 513.44,227.13 513.74,231.82 514.04,230.73 514.34,230.3 514.64,229.86 514.94,231.27 515.24,235.24 515.54,239.45 515.84,242.01 516.15,235.28 516.45,233.12 516.75,229.8 517.05,225.56 517.35,214.79 517.65,214 517.95,210.99 518.25,211.47 518.55,205.65 518.85,202.91 519.15,199.2 519.45,197.94 519.75,198.13 520.05,199.12 520.36,200.89 520.66,200.59 520.96,200.32 521.26,198 521.56,198.2 521.86,203.47 522.16,200.77 522.46,201.1 522.76,200.11 523.06,199.47 523.36,193.91 523.66,203.7 523.96,201.51 524.26,202.26 524.56,208.57 524.87,203.05 525.17,207.31 525.47,208.4 525.77,206.58 526.07,212.5 526.37,212.36 526.67,214.69 526.97,215.64 527.27,219.36 527.57,225.5 527.87,218.33 528.17,220.06 528.47,216.64 528.77,215.63 529.07,211.14 529.38,210.7 529.68,211.77 529.98,214.75 530.28,214.14 530.58,214.25 530.88,214.24 531.18,208.76 531.48,212.89 531.78,209.87 532.08,210.64 532.38,212.48 532.68,216.27 532.98,220.67 533.28,217.51 533.58,228.4 533.89,230.35 534.19,231.1 534.49,228.77 534.79,226.99 535.09,222.38 535.39,222.21 535.69,217.25 535.99,219.65 536.29,224.18 536.59,217.21 536.89,216.73 537.19,216.74 537.49,219.87 537.79,220.46 538.1,217.17 538.4,215.2 538.7,213.09 539,210.74 539.3,209.1 539.6,207.76 539.9,207.24 540.2,206.87 540.5,204.3 540.8,205.55 541.1,203.75 541.4,205.78 541.7,202.6 542,203.45 542.3,206.23 542.61,208.34 542.91,208.62 543.21,213.37 543.51,211.64 543.81,215.39 544.11,217.36 544.41,217.01 544.71,216.82 545.01,215.44 545.31,212.5 545.61,208.27 545.91,207.29 546.21,205.91 546.51,205.17 546.81,203.38 547.12,201.13 547.42,202.38 547.72,205.24 548.02,200.19 548.32,195.14 548.62,198.26 548.92,198.94 549.22,200.71 549.52,201.75 549.82,205.91 550.12,210.16 550.42,216.97 550.72,212.5 551.02,211.14 551.33,214.56 551.63,217 551.93,223.14 552.23,221.79 552.53,215.1 552.83,207.69 553.13,209.54 553.43,206.41 553.73,208.04 554.03,203.69 554.33,200.45 554.63,195.22 554.93,194.43 555.23,195.52 555.53,189.83 555.84,192.88 556.14,193.4 556.44,198.34 556.74,199.2 557.04,202.15 557.34,203.95 557.64,202.98 557.94,203.13 558.24,210.24 558.54,210.3 558.84,209.86 559.14,211.77 559.44,214.25 559.74,209.71 560.04,208.51 560.35,198.13 560.65,203.11 560.95,198.02 561.25,204.08 561.55,204.91 561.85,208.21 562.15,214.07 562.45,221.2 562.75,222.29 563.05,223.06 563.35,229.76 563.65,237.42 563.95,234.54 564.25,236.95 564.55,243.8 564.86,238.81 565.16,230.39 565.46,230.14 565.76,228.58 566.06,226.76 566.36,225.55 566.66,216.44 566.96,212.46 567.26,209.85 567.56,209.59 567.86,205.61 568.16,204.79 568.46,201.47 568.76,202.96 569.07,203.42 569.37,197.69 569.67,197.56 569.97,192.54 570.27,195.74 570.57,193.28 570.87,196.95 571.17,201.22 571.47,202.97 571.77,197.7 572.07,200.98 572.37,201.73 572.67,206.92 572.97,207.21 573.27,210.49 573.58,207.63 573.88,205.81 574.18,202.72 574.48,208.75 574.78,210.51 575.08,213.33 575.38,214.06 575.68,216.04 575.98,220.44 576.28,216.56 576.58,219.92 576.88,223.73 577.18,224.2 577.48,228.91 577.78,226.66 578.09,227.98 578.39,228.51 578.69,229.72 578.99,236.34 579.29,232.39 579.59,233.92 579.89,235.78 580.19,234.83 580.49,232.32 580.79,232.19 581.09,230.53 581.39,231.57 581.69,228.4 581.99,221.53 582.3,215.78 582.6,214.96 582.9,212.8 583.2,211.43 583.5,213.31 583.8,212.37 584.1,207.77 584.4,207.16 584.7,212.48 585,207.77 585.3,210.37 585.6,211.53 585.9,206.94 586.2,204.73 586.5,207.59 586.81,208.51 587.11,210.45 587.41,210 587.71,205.93 588.01,210.89 588.31,207.88 588.61,205.84 588.91,204.46 589.21,199.1 589.51,197.88 589.81,200.57 590.11,200.64 590.41,197.08 590.71,196.42 591.01,193.89 591.32,192.09 591.62,190.95 591.92,192.06 592.22,195.05 592.52,199.32 592.82,202.94 593.12,205.63 593.42,208.25 593.72,212.38 594.02,214.93 594.32,217.46 594.62,219 594.92,222.01 595.22,226.89 595.52,226.91 595.83,224.21 596.13,222 596.43,220.53 596.73,218.72 597.03,224.04 597.33,219.95 597.63,222.18 597.93,220.36 598.23,220.96 598.53,217.88 598.83,217.16 599.13,221.4 599.43,225.22 599.73,224.31 600.04,226.98 600.34,227.78 600.64,229.51 600.94,229.56 601.24,229.37 601.54,235.92 601.84,232.93 602.14,235.33 602.44,234.51 602.74,236.57 603.04,235.78 603.34,235.92 603.64,235.2 603.94,236.29 604.24,231.19 604.55,234.14 604.85,231.27 605.15,230.12 605.45,226.02 605.75,227.65 606.05,224.43 606.35,223.56 606.65,217.36 606.95,222.47 607.25,220.88 607.55,215.69 607.85,212.9 608.15,213.76 608.45,211.32 608.75,208.45 609.06,210.11 609.36,213.93 609.66,213.42 609.96,212.44 610.26,209.42 610.56,213 610.86,207.85 611.16,205.6 611.46,203.47 611.76,207.77 612.06,207.09 612.36,209.43 612.66,212.8 612.96,208.94 613.27,209.86 613.57,214.22 613.87,215.39 614.17,215.79 614.47,216.88 614.77,216.31 615.07,218.91 615.37,221.78 615.67,219.95 615.97,219.82 616.27,216.31 616.57,216.41 616.87,218.49 617.17,214.04 617.47,212.32 617.78,214.38 618.08,208.94 618.38,206.94 618.68,205.77 618.98,204.01 619.28,207.43 619.58,202.53 619.88,203.45 620.18,200.71 620.48,202.16 620.78,202.07 621.08,191.92 621.38,191.77 621.68,192.76 621.98,197.75 622.29,201.46 622.59,200.51 622.89,200.2 623.19,202.68 623.49,200.58 623.79,204.37 624.09,207.24 624.39,208.42 624.69,207.27 624.99,212.03 625.29,212.35 625.59,212.55 625.89,215.75 626.19,214.92 626.49,219.8 626.8,220.23 627.1,219.31 627.4,222.7 627.7,229 628,230.3 628.3,225.71 628.6,225.97 628.9,228.15 629.2,229.09 629.5,226.16 629.8,226.63 630.1,221.69 630.4,223.77 630.7,218.37 631.01,220.1 631.31,222.37 631.61,219.24 631.91,219.37 632.21,211.42 632.49,216.41 632.78,215.85 633.06,217.94 633.35,213.71" fill="none" stroke="#64d9fb" stroke-width="2.0" stroke-linejoin="round" clip-path="url(#ca03)"/>
<polyline points="641.6,187.38 641.96,190.12 642.31,190.73 642.61,193.92 642.92,192.68 643.22,195.74 643.52,197.01 643.82,195.2 644.12,200.24 644.42,196.89 644.72,193 645.02,193.53 645.32,192.69 645.62,193.01 645.92,196.6 646.22,195.44 646.52,199.54 646.82,195.95 647.13,195.48 647.43,192.96 647.73,186.45 648.03,187.95 648.33,188.55 648.63,189.46 648.93,183.21 649.23,185.77 649.53,186.47 649.83,180.85 650.13,181.17 650.43,183.04 650.73,175.18 651.03,177.33 651.33,170.73 651.64,173.53 651.94,177.48 652.24,173.61 652.54,173.85 652.84,167.37 653.14,166.83 653.44,169.26 653.74,174.78 654.04,175.18 654.34,179.19 654.64,179.6 654.94,179.22 655.24,182.33 655.54,184.97 655.84,185.7 656.15,188.64 656.45,185.99 656.75,187.97 657.05,190.17 657.35,188.25 657.65,189.35 657.95,190.07 658.25,186.98 658.55,194.01 658.85,192.23 659.15,194.19 659.45,185.63 659.75,192.07 660.05,189.57 660.36,186.64 660.66,187.03 660.96,189.47 661.26,182.79 661.56,186.78 661.86,181.64 662.16,185.48 662.46,184.45 662.76,185.77 663.06,184.71 663.36,181.92 663.66,182.97 663.96,186.9 664.26,187.04 664.56,188.96 664.87,187.97 665.17,193.19 665.47,201.15 665.77,201.39 666.07,201.46 666.37,198.84 666.67,201.56 666.97,207.71 667.27,208.18 667.57,211.57 667.87,211.47 668.17,212.75 668.47,216.11 668.77,217.05 669.07,218.46 669.38,222.55 669.68,219.64 669.98,212.39 670.28,215.34 670.58,217.32 670.88,213.52 671.18,208.71 671.48,203.67 671.78,201.12 672.08,200.39 672.38,201.61 672.68,198.38 672.98,195.2 673.28,190.81 673.58,191.08 673.89,187.87 674.19,192.39 674.49,189.54 674.79,186.21 675.09,188.74 675.39,188.78 675.69,183.36 675.99,176.68 676.29,179.56 676.59,175.45 676.89,178.62 677.19,176.11 677.49,177.46 677.79,179.03 678.1,178.78 678.4,178.89 678.7,185.08 679,184.68 679.3,189.62 679.6,192.47 679.9,194.2 680.2,197.77 680.5,198.66 680.8,201.37 681.1,205.35 681.4,208.53 681.7,209.29 682,215.33 682.3,216.51 682.61,220.75 682.91,217.85 683.21,225.01 683.51,222.8 683.81,224.99 684.11,225.33 684.41,220.91 684.71,223.04 685.01,228.31 685.31,231.79 685.61,229.86 685.91,230.45 686.21,228.12 686.51,221.36 686.81,222.04 687.12,217.25 687.42,210.19 687.72,210.87 688.02,208.3 688.32,204.35 688.62,199.6 688.92,198.08 689.22,200.51 689.52,195.75 689.82,190.93 690.12,188.04 690.42,190.79 690.72,192.02 691.02,184.24 691.33,184.52 691.63,188.65 691.93,191.78 692.23,189.99 692.53,192.23 692.83,197.28 693.13,194.06 693.43,194.24 693.73,196.19 694.03,198.49 694.33,198.73 694.63,196.5 694.93,199.19 695.23,203.17 695.53,200.5 695.84,200.54 696.14,201.73 696.44,208.94 696.74,207.48 697.04,205.51 697.34,211.3 697.64,214.43 697.94,213.36 698.24,215.76 698.54,217.57 698.84,220.62 699.14,221.08 699.44,223.29 699.74,223.36 700.04,226.25 700.35,229.75 700.65,231.35 700.95,231.78 701.25,227.87 701.55,231.33 701.85,231.63 702.15,232.02 702.45,236.7 702.75,234.57 703.05,232.94 703.35,233.54 703.65,228.72 703.95,230.24 704.25,231.1 704.55,233.07 704.86,230.4 705.16,228.77 705.46,223.84 705.76,218.72 706.06,215.91 706.36,208.96 706.66,205.6 706.96,203.63 707.26,204.45 707.56,200.59 707.86,193.45 708.16,193.56 708.46,195.26 708.76,195.7 709.07,198.6 709.37,197.9 709.67,200.57 709.97,200.52 710.27,197.99 710.57,200.32 710.87,202.94 711.17,207.54 711.47,203.84 711.77,204.13 712.07,201.27 712.37,202.44 712.67,200.45 712.97,205.69 713.27,209.96 713.58,207.36 713.88,212.41 714.18,213.09 714.48,212.17 714.78,213.8 715.08,211.66 715.38,214.99 715.68,217.04 715.98,214.42 716.28,218.01 716.58,217.64 716.88,217.72 717.18,218.44 717.48,220.97 717.78,221.06 718.09,224.37 718.39,227.74 718.69,225.79 718.99,223.95 719.29,225.74 719.59,222.25 719.89,223.71 720.19,224.15 720.49,228.41 720.79,229.47 721.09,230.54 721.39,225.52 721.69,229.91 721.99,232.47 722.3,230.21 722.6,237.78 722.9,237.96 723.2,242.87 723.5,240.95 723.8,235.34 724.1,241.7 724.4,241.04 724.7,242.38 725,245.08 725.3,241.52 725.6,243.68 725.9,239.51 726.2,242.68 726.5,241.95 726.81,239.74 727.11,238.22 727.41,238.21 727.71,236.18 728.01,229.94 728.31,233.98 728.61,234.29 728.91,234.11 729.21,231.76 729.51,232.4 729.81,232.72 730.11,233.6 730.41,228.21 730.71,230.14 731.01,234.26 731.32,234.45 731.62,238.13 731.92,237.2 732.22,240.85 732.52,235.87 732.82,237.93 733.12,242.49 733.42,237.21 733.72,237.3 734.02,241.04 734.32,238.13 734.62,236.82 734.92,236.33 735.22,233.42 735.52,232.23 735.83,235.67 736.13,234.18 736.43,229.74 736.73,228.82 737.03,226.08 737.33,229.94 737.63,228.37 737.93,227.71 738.23,227.68 738.53,222.9 738.83,225.28 739.13,224.23 739.43,224.68 739.73,221.05 740.04,220.05 740.34,216.7 740.64,216.9 740.94,215.92 741.24,221.54 741.54,219.13 741.84,216.83 742.14,216.56 742.44,215.32 742.74,211.81 743.04,211.98 743.34,210.62 743.64,203.44 743.94,205.08 744.24,207.57 744.55,210.69 744.85,216.94 745.15,217.04 745.45,211.46 745.75,217.15 746.05,217.62 746.35,218.58 746.65,217.66 746.95,222.58 747.25,225.87 747.55,223.13 747.85,227.04 748.15,222.78 748.45,221.07 748.75,224.11 749.06,221.06 749.36,218.69 749.66,212.51 749.96,212.17 750.26,214.05 750.56,210.39 750.86,207.98 751.16,207.68 751.46,203.85 751.76,203.01 752.06,207.53 752.36,212.46 752.66,215.4 752.96,211.94 753.27,215.58 753.57,223.04 753.87,220.46 754.17,223.59 754.47,227.21 754.77,227.81 755.07,230.81 755.37,228.97 755.67,228.15 755.97,227.05 756.27,222.06 756.57,225.28 756.87,221.97 757.17,220.8 757.47,213.79 757.78,214.15 758.08,214.71 758.38,212.57 758.68,214.56 758.98,217.82 759.28,221.18 759.58,221.34 759.88,220.09 760.18,223.85 760.48,225.53 760.78,226.06 761.08,229.59 761.38,224.77 761.68,231.36 761.98,234.01 762.29,238.12 762.59,234.64 762.89,232.91 763.19,237.08 763.49,228.55 763.79,231.8 764.09,230.29 764.39,229.03 764.69,227.29 764.99,222.33 765.29,222.28 765.59,224.62 765.89,222.99 766.19,224.13 766.49,219.11 766.8,217.22 767.1,213.72 767.4,215.45 767.7,213.19 768,212.11 768.3,208.48 768.6,212.82 768.9,205.88 769.2,200.1 769.5,199.67 769.8,199.26 770.1,197.77 770.4,195.44 770.7,194.47 771.01,194.04 771.31,190.57 771.61,189.56 771.91,188.72 772.21,192.43 772.51,186.98 772.81,190.4 773.11,188.58 773.42,188.95 773.74,193.34 774.05,193.29 774.36,187.47 774.67,184.88 774.99,181.84 775.3,185.12" fill="none" stroke="#6420fd" stroke-width="2.0" stroke-linejoin="round" clip-path="url(#ca04)"/>
<polyline points="641.6,155.58 641.96,155 642.31,154.46 642.61,160.67 642.92,173.37 643.22,180.53 643.52,190.73 643.82,198.13 644.12,209.46 644.42,208.77 644.72,209.95 645.02,212.02 645.32,210.89 645.62,210.89 645.92,211.56 646.22,212.81 646.52,214.88 646.82,215.48 647.13,213.02 647.43,212.49 647.73,209.62 648.03,204.4 648.33,206.72 648.63,199.29 648.93,203.67 649.23,196.1 649.53,192.25 649.83,194.04 650.13,199.19 650.43,197.63 650.73,201.44 651.03,204.01 651.33,201.91 651.64,202.86 651.94,205.4 652.24,206.58 652.54,203.4 652.84,198.82 653.14,199.11 653.44,197.93 653.74,199.16 654.04,198.88 654.34,196.48 654.64,194.14 654.94,193.62 655.24,194.61 655.54,195.08 655.84,194.65 656.15,195.05 656.45,194.71 656.75,190.58 657.05,192.23 657.35,186.74 657.65,187.95 657.95,192.4 658.25,193.19 658.55,204.22 658.85,212.96 659.15,217.24 659.45,215.78 659.75,216.11 660.05,226.57 660.36,232.73 660.66,227.28 660.96,222.77 661.26,216.31 661.56,215.94 661.86,208.42 662.16,204.86 662.46,204.12 662.76,205.43 663.06,202.28 663.36,203.47 663.66,204.85 663.96,204.41 664.26,201.22 664.56,202.09 664.87,202.28 665.17,200.85 665.47,201.69 665.77,202.13 666.07,199.45 666.37,198.27 666.67,201.52 666.97,203.05 667.27,203.54 667.57,203.75 667.87,201.09 668.17,198.82 668.47,195.49 668.77,191.89 669.07,185.53 669.38,188.61 669.68,191.71 669.98,190.94 670.28,194.73 670.58,194.86 670.88,192.82 671.18,189.24 671.48,191.6 671.78,191.58 672.08,184.58 672.38,187.78 672.68,191.76 672.98,189.53 673.28,196.02 673.58,194.73 673.89,196.98 674.19,196.6 674.49,198.82 674.79,200.74 675.09,205.09 675.39,203.19 675.69,205.21 675.99,207.09 676.29,206.13 676.59,208.22 676.89,205.28 677.19,205.07 677.49,207.75 677.79,206.74 678.1,208.83 678.4,211.96 678.7,209.61 679,207.65 679.3,204.89 679.6,205.99 679.9,203.62 680.2,196.09 680.5,199.66 680.8,201.54 681.1,199.17 681.4,200.68 681.7,197.08 682,201.79 682.3,201.62 682.61,200.22 682.91,203.14 683.21,202.64 683.51,200.07 683.81,201.33 684.11,202.29 684.41,200.6 684.71,201.19 685.01,198.7 685.31,194.75 685.61,199.86 685.91,199.89 686.21,199.71 686.51,194.3 686.81,195.57 687.12,199.01 687.42,196 687.72,196.55 688.02,206.44 688.32,206.93 688.62,210.17 688.92,211.8 689.22,217.66 689.52,219.16 689.82,219.42 690.12,222.09 690.42,221.06 690.72,223.49 691.02,219.22 691.33,215.85 691.63,216.42 691.93,215.41 692.23,209.96 692.53,208.47 692.83,208.09 693.13,204.06 693.43,204.12 693.73,201.95 694.03,196.36 694.33,197.99 694.63,195.92 694.93,193.12 695.23,187.01 695.53,189.64 695.84,183.91 696.14,186.11 696.44,189.15 696.74,183.45 697.04,182.12 697.34,180.42 697.64,185.69 697.94,187.02 698.24,188.24 698.54,193.79 698.84,190.81 699.14,194.17 699.44,192.64 699.74,197.35 700.04,202.77 700.35,201.21 700.65,204.23 700.95,210.12 701.25,205.92 701.55,209.05 701.85,210.48 702.15,216.7 702.45,215.47 702.75,214.68 703.05,219.18 703.35,218.21 703.65,217.65 703.95,218.28 704.25,213.66 704.55,217.01 704.86,217.09 705.16,212.65 705.46,208.66 705.76,208.32 706.06,211.46 706.36,211.76 706.66,207.58 706.96,206.12 707.26,204.94 707.56,205.72 707.86,203.82 708.16,200.73 708.46,203.25 708.76,205.17 709.07,199.23 709.37,203.36 709.67,200.32 709.97,197.61 710.27,196.8 710.57,197.83 710.87,193.51 711.17,192.98 711.47,198.5 711.77,193.47 712.07,186.07 712.37,186.2 712.67,192.95 712.97,186.15 713.27,187.05 713.58,187.44 713.88,187.13 714.18,187.02 714.48,180.46 714.78,188.09 715.08,183.77 715.38,186.77 715.68,191.36 715.98,189.56 716.28,188.95 716.58,193.83 716.88,197.93 717.18,200.57 717.48,198.54 717.78,198.38 718.09,196.84 718.39,203.48 718.69,206.89 718.99,208.25 719.29,204.24 719.59,202.29 719.89,201.05 720.19,202.7 720.49,207.08 720.79,205.69 721.09,203.82 721.39,203.39 721.69,201.5 721.99,203.77 722.3,203.48 722.6,210.06 722.9,210.25 723.2,210.65 723.5,214.88 723.8,216.26 724.1,218.89 724.4,216.24 724.7,213.29 725,217.1 725.3,215.61 725.6,213.35 725.9,214.95 726.2,213.23 726.5,210.85 726.81,207.29 727.11,206.85 727.41,207.81 727.71,207.9 728.01,207.73 728.31,206.44 728.61,208.68 728.91,207.38 729.21,208.44 729.51,208.98 729.81,215.12 730.11,213.09 730.41,216.46 730.71,212.52 731.01,216.05 731.32,220.89 731.62,219 731.92,221.13 732.22,217.3 732.52,211.67 732.82,211.55 733.12,211.7 733.42,210.71 733.72,210.7 734.02,208.9 734.32,210.17 734.62,209.59 734.92,206.4 735.22,201.75 735.52,202.62 735.83,204.5 736.13,203.65 736.43,202.73 736.73,195.97 737.03,199.31 737.33,198.34 737.63,196.52 737.93,198.5 738.23,190.55 738.53,194.38 738.83,193.43 739.13,188.63 739.43,188.22 739.73,190.54 740.04,196.44 740.34,192.46 740.64,191.47 740.94,197.64 741.24,197.39 741.54,199.23 741.84,201.33 742.14,204.73 742.44,204.61 742.74,206.39 743.04,207.56 743.34,209.4 743.64,205.02 743.94,208.87 744.24,209.54 744.55,209.28 744.85,209.53 745.15,207.16 745.45,210.68 745.75,206.44 746.05,203.03 746.35,201.93 746.65,202.76 746.95,202.63 747.25,203.78 747.55,201.72 747.85,198.96 748.15,199.42 748.45,201.25 748.75,197.94 749.06,202.55 749.36,204.96 749.66,205.52 749.96,202.45 750.26,203.89 750.56,206.51 750.86,210.24 751.16,211 751.46,208.58 751.76,212.42 752.06,207.4 752.36,205.24 752.66,201.83 752.96,196.67 753.27,197.27 753.57,200.58 753.87,197.6 754.17,198.12 754.47,199.58 754.77,194.47 755.07,197.83 755.37,192.46 755.67,193.06 755.97,191.42 756.27,191.15 756.57,187.83 756.87,185.51 757.17,183.53 757.47,183.63 757.78,177.31 758.08,176.61 758.38,177.97 758.68,184.74 758.98,187.07 759.28,188.28 759.58,188.66 759.88,191.08 760.18,195.1 760.48,196.27 760.78,196.74 761.08,200.88 761.38,201.55 761.68,199.03 761.98,205.07 762.29,206.63 762.59,206.55 762.89,209.31 763.19,212.87 763.49,213.01 763.79,217.64 764.09,206.29 764.39,210.87 764.69,213.91 764.99,210.74 765.29,208.87 765.59,209.14 765.89,210.84 766.19,211.31 766.49,207.97 766.8,207.57 767.1,210.54 767.4,210.91 767.7,209.88 768,208.63 768.3,207.17 768.6,201.94 768.9,198.78 769.2,203.28 769.5,200.25 769.8,201.62 770.1,200.51 770.4,197.24 770.7,196.86 771.01,192.95 771.31,189.83 771.61,191.68 771.91,187.44 772.21,187.39 772.51,189.9 772.81,195.97 773.11,195.68 773.41,197.2 773.71,195.15 774.01,199.75 774.33,195.72 774.66,195.51 774.98,192.54 775.3,194.71" fill="none" stroke="#2edb48" stroke-width="2.0" stroke-linejoin="round" clip-path="url(#ca04)"/>
<polyline points="641.6,201.59 641.96,200.46 642.31,199.75 642.61,207.41 642.92,214.1 643.22,214.99 643.52,218.05 643.82,217.82 644.12,223.95 644.42,224.56 644.72,229.5 645.02,234.87 645.32,230.12 645.62,226.65 645.92,227.28 646.22,226.4 646.52,226.09 646.82,229.83 647.13,229.21 647.43,229.99 647.73,225.48 648.03,226.87 648.33,226.03 648.63,230.25 648.93,229.46 649.23,228.17 649.53,227.47 649.83,228.3 650.13,226.44 650.43,224.48 650.73,224 651.03,225.96 651.33,226.57 651.64,222 651.94,219.74 652.24,224.31 652.54,224.77 652.84,226.69 653.14,226.76 653.44,224.5 653.74,224.25 654.04,224.06 654.34,221.16 654.64,217.93 654.94,222.87 655.24,222.9 655.54,220.12 655.84,221.74 656.15,221.08 656.45,222.69 656.75,224.16 657.05,223.07 657.35,217.83 657.65,216.04 657.95,208.75 658.25,203.79 658.55,200.07 658.85,200.35 659.15,199.79 659.45,196.07 659.75,200.88 660.05,206.54 660.36,209.16 660.66,210.31 660.96,214.96 661.26,220.6 661.56,227.11 661.86,232.19 662.16,234.54 662.46,240.19 662.76,242.42 663.06,247.64 663.36,244.52 663.66,244.21 663.96,235.23 664.26,229.61 664.56,227.85 664.87,229 665.17,221.74 665.47,217.49 665.77,216.69 666.07,219.76 666.37,214.15 666.67,214.7 666.97,216.21 667.27,215.11 667.57,211.52 667.87,212.58 668.17,208.96 668.47,204.61 668.77,206.15 669.07,210.19 669.38,210.68 669.68,210.6 669.98,208.65 670.28,209.15 670.58,217.29 670.88,216.56 671.18,217.59 671.48,219.17 671.78,223.43 672.08,219.1 672.38,220.11 672.68,221.07 672.98,217.64 673.28,217.61 673.58,219.81 673.89,214.49 674.19,212.3 674.49,214.68 674.79,210.3 675.09,211.83 675.39,209.14 675.69,206.97 675.99,211.49 676.29,217.48 676.59,218.27 676.89,218.28 677.19,218.01 677.49,219.06 677.79,218.83 678.1,220 678.4,222.06 678.7,226.07 679,226.01 679.3,231.84 679.6,237.8 679.9,238.67 680.2,241.97 680.5,241.55 680.8,238.97 681.1,242.13 681.4,238.03 681.7,233.22 682,229.05 682.3,228.4 682.61,224.67 682.91,222.48 683.21,219.09 683.51,211.35 683.81,213.58 684.11,211.37 684.41,212.45 684.71,209.87 685.01,210.15 685.31,207.63 685.61,204.2 685.91,202.18 686.21,202.54 686.51,205.06 686.81,206.57 687.12,207.1 687.42,203.76 687.72,205.74 688.02,202.46 688.32,201.04 688.62,200.82 688.92,201.45 689.22,199.07 689.52,196.58 689.82,198.2 690.12,200.63 690.42,199.97 690.72,200.36 691.02,205 691.33,202.53 691.63,203.66 691.93,208.16 692.23,207.3 692.53,209.11 692.83,209.34 693.13,213.75 693.43,213.44 693.73,219.39 694.03,216.65 694.33,216.57 694.63,214.64 694.93,213.38 695.23,212.4 695.53,215.99 695.84,216.06 696.14,212.3 696.44,209.42 696.74,212.64 697.04,214.14 697.34,208.39 697.64,211.69 697.94,212.73 698.24,211.62 698.54,213.59 698.84,214.09 699.14,217.82 699.44,215.03 699.74,215.72 700.04,218.31 700.35,219.73 700.65,217.32 700.95,222.29 701.25,220.75 701.55,222.41 701.85,219.35 702.15,222.29 702.45,219.99 702.75,220.51 703.05,220.15 703.35,218.41 703.65,216.81 703.95,215.31 704.25,214.17 704.55,215.88 704.86,216.13 705.16,209.96 705.46,212.46 705.76,212.39 706.06,211.71 706.36,212.58 706.66,205.64 706.96,208.99 707.26,206.36 707.56,210.06 707.86,203.82 708.16,206.12 708.46,204.34 708.76,208.29 709.07,209.1 709.37,211.56 709.67,215.05 709.97,215.55 710.27,215.35 710.57,216.39 710.87,215.66 711.17,220.64 711.47,220.97 711.77,229.81 712.07,231.66 712.37,232.69 712.67,239.57 712.97,233.38 713.27,229.61 713.58,229 713.88,226.88 714.18,228.71 714.48,225.09 714.78,226.59 715.08,221.43 715.38,225.73 715.68,227.46 715.98,224.15 716.28,216.33 716.58,222.64 716.88,224.53 717.18,217.76 717.48,213.33 717.78,215.11 718.09,217.84 718.39,218.96 718.69,218.04 718.99,217.5 719.29,218.58 719.59,215.69 719.89,216.28 720.19,220.34 720.49,217.99 720.79,212.58 721.09,214.01 721.39,216.48 721.69,219.08 721.99,220.57 722.3,222.2 722.6,218.61 722.9,219.3 723.2,221.48 723.5,223.48 723.8,219.16 724.1,218.15 724.4,221.52 724.7,224.35 725,225.11 725.3,226.01 725.6,224.55 725.9,224.06 726.2,221.5 726.5,221.2 726.81,219.34 727.11,222.34 727.41,222.24 727.71,222.25 728.01,218.03 728.31,219.86 728.61,215.12 728.91,216.69 729.21,212.51 729.51,215.35 729.81,210.94 730.11,210.71 730.41,214.49 730.71,215.6 731.01,215.39 731.32,215.42 731.62,217.2 731.92,219.87 732.22,217.3 732.52,220.41 732.82,218.98 733.12,218.22 733.42,222.29 733.72,221.98 734.02,222.63 734.32,227.13 734.62,227.12 734.92,228.54 735.22,228.78 735.52,229.4 735.83,230.16 736.13,226.73 736.43,226.56 736.73,227.87 737.03,225.09 737.33,228.53 737.63,227.36 737.93,225.49 738.23,227.29 738.53,227.53 738.83,226.26 739.13,223.92 739.43,223.3 739.73,225.16 740.04,229.11 740.34,221.88 740.64,224.85 740.94,218.46 741.24,215.7 741.54,213.82 741.84,214.78 742.14,214.47 742.44,213.53 742.74,212.14 743.04,208.9 743.34,204.57 743.64,207.24 743.94,208.61 744.24,210.47 744.55,211.3 744.85,209.49 745.15,210.14 745.45,211.65 745.75,216.81 746.05,215.49 746.35,216.52 746.65,216.68 746.95,216.18 747.25,221.79 747.55,226.82 747.85,224.37 748.15,227.39 748.45,225.97 748.75,229.16 749.06,226.86 749.36,231.54 749.66,232.74 749.96,235.64 750.26,231.59 750.56,237.78 750.86,233.75 751.16,236.79 751.46,235 751.76,236.65 752.06,233.92 752.36,226.56 752.66,223.27 752.96,226.86 753.27,226.53 753.57,228.47 753.87,222.9 754.17,222.07 754.47,221.75 754.77,221.74 755.07,219.1 755.37,216.64 755.67,216.1 755.97,220.34 756.27,214.26 756.57,213.43 756.87,214.27 757.17,211.54 757.47,214.89 757.78,215.66 758.08,211.73 758.38,210.07 758.68,211.02 758.98,208.85 759.28,210.36 759.58,209.75 759.88,205.49 760.18,205.79 760.48,203.68 760.78,205.05 761.08,204.36 761.38,206.13 761.68,207.8 761.98,201.18 762.29,200.43 762.59,202.52 762.89,202.96 763.19,201.78 763.49,199.4 763.79,200.5 764.09,202.6 764.39,205.67 764.69,204.41 764.99,206.47 765.29,207.6 765.59,211.66 765.89,210.15 766.19,215.24 766.49,209.18 766.8,212.58 767.1,214.54 767.4,215.41 767.7,218.02 768,217.43 768.3,215.72 768.6,213.76 768.9,216.32 769.2,220.44 769.5,227.82 769.8,228.88 770.1,233.79 770.4,234.74 770.7,235.39 771.01,232.52 771.31,233.02 771.61,239.32 771.91,240.77 772.21,243.65 772.52,242.28 772.83,243.46 773.14,244.35 773.44,243.37 773.75,241.71 774.06,243.57 774.37,246.06 774.68,249.39 774.99,248.84 775.3,245.08" fill="none" stroke="#64d9fb" stroke-width="2.0" stroke-linejoin="round" clip-path="url(#ca04)"/>
<polyline points="73.8,429.44 74.16,431.36 74.51,432.8 74.81,431.05 75.11,430.97 75.41,436.06 75.71,432.79 76.01,434.16 76.31,432.98 76.61,435.71 76.92,437.52 77.22,439.74 77.52,439.6 77.82,433.95 78.12,432.03 78.42,430.6 78.72,429.95 79.02,430.96 79.32,430.08 79.62,427.53 79.92,426.27 80.22,433.9 80.52,426.68 80.82,432.69 81.13,426.3 81.43,423.75 81.73,424.18 82.03,424.07 82.33,424.44 82.63,422.97 82.93,426.3 83.23,431.17 83.53,436.37 83.83,438.94 84.13,443.29 84.43,444.71 84.73,451.92 85.03,444.62 85.33,449.43 85.64,452.09 85.94,452.38 86.24,453.94 86.54,454.76 86.84,457.91 87.14,455.71 87.44,455.12 87.74,453.03 88.04,455.12 88.34,451.87 88.64,450.74 88.94,447.03 89.24,445.48 89.54,441.2 89.84,436.03 90.15,433.84 90.45,431.26 90.75,432.56 91.05,428.65 91.35,426.73 91.65,425.89 91.95,426.37 92.25,425.1 92.55,426.25 92.85,421.07 93.15,426.65 93.45,425.6 93.75,423.18 94.05,428.74 94.36,428.86 94.66,426.24 94.96,431.25 95.26,435.22 95.56,434.34 95.86,432.91 96.16,435.84 96.46,440.76 96.76,436.63 97.06,436.73 97.36,436.49 97.66,438.93 97.96,440.3 98.26,442.51 98.56,441.71 98.87,443.8 99.17,446.89 99.47,438.97 99.77,437.72 100.07,436.72 100.37,434.94 100.67,433.74 100.97,432.39 101.27,432.8 101.57,430.31 101.87,429.46 102.17,427.97 102.47,428.59 102.77,425.3 103.07,432.33 103.38,432.12 103.68,435.53 103.98,440.22 104.28,441.45 104.58,447.4 104.88,451.17 105.18,456.05 105.48,456.74 105.78,451.75 106.08,457.17 106.38,454.89 106.68,454.61 106.98,451.06 107.28,448.99 107.58,452.57 107.89,452.48 108.19,447.37 108.49,450.84 108.79,451.4 109.09,444.9 109.39,440.87 109.69,442.76 109.99,442.11 110.29,443.43 110.59,445.74 110.89,446.54 111.19,440.73 111.49,436.95 111.79,440.73 112.1,437.72 112.4,434.9 112.7,440.07 113,440.7 113.3,439.57 113.6,442.74 113.9,441.47 114.2,444.59 114.5,446.18 114.8,446.13 115.1,443.49 115.4,445.29 115.7,451.17 116,452.97 116.3,451.63 116.61,446.32 116.91,448.27 117.21,444.08 117.51,443.71 117.81,444.32 118.11,447.05 118.41,441.48 118.71,441.11 119.01,436.49 119.31,435.28 119.61,438.72 119.91,442.77 120.21,447.24 120.51,451.9 120.81,456.66 121.12,457.4 121.42,455.65 121.72,458.46 122.02,460.66 122.32,464.86 122.62,467.49 122.92,472.26 123.22,473.64 123.52,475.03 123.82,470.01 124.12,466.82 124.42,462.34 124.72,459.44 125.02,459.65 125.33,458.07 125.63,454.72 125.93,453.4 126.23,452.75 126.53,446.87 126.83,442.88 127.13,450.08 127.43,452.33 127.73,456.9 128.03,461.7 128.33,464.68 128.63,470.38 128.93,473.33 129.23,477.69 129.53,481.94 129.84,482.24 130.14,484.72 130.44,491.54 130.74,484.52 131.04,484.84 131.34,472.8 131.64,462.85 131.94,458.21 132.24,459.08 132.54,453.56 132.84,443.3 133.14,438.5 133.44,441.46 133.74,440.1 134.04,441.89 134.35,443.15 134.65,444.54 134.95,443.92 135.25,445.17 135.55,446.29 135.85,450.7 136.15,443.13 136.45,442.65 136.75,448.09 137.05,448.17 137.35,445.41 137.65,436.69 137.95,442.51 138.25,446.03 138.55,443.24 138.86,447.02 139.16,451.37 139.46,458.58 139.76,456.15 140.06,461.16 140.36,466.6 140.66,474.36 140.96,480.02 141.26,481.3 141.56,482.42 141.86,488.75 142.16,492.93 142.46,492.46 142.76,489.95 143.07,487.36 143.37,486.04 143.67,483.63 143.97,482.94 144.27,480.91 144.57,475.01 144.87,474.96 145.17,475.5 145.47,475.73 145.77,476.44 146.07,474.69 146.37,474.36 146.67,469.65 146.97,470.99 147.27,473.92 147.58,475.64 147.88,475.28 148.18,476.59 148.48,483.59 148.78,482.8 149.08,484.77 149.38,490.94 149.68,485.1 149.98,478.58 150.28,481.12 150.58,484.1 150.88,478.3 151.18,476.87 151.48,475.07 151.78,474.48 152.09,473.21 152.39,469.86 152.69,467.11 152.99,464.88 153.29,464.65 153.59,465.97 153.89,463.96 154.19,461.12 154.49,458.26 154.79,459.29 155.09,454.23 155.39,455.01 155.69,456.45 155.99,451.44 156.3,454.12 156.6,447.48 156.9,451.61 157.2,453.82 157.5,459.14 157.8,460.99 158.1,462.6 158.4,465.91 158.7,463.47 159,466.1 159.3,469.38 159.6,467.45 159.9,472.64 160.2,478.41 160.5,475.78 160.81,478.62 161.11,479.65 161.41,477.8 161.71,481.07 162.01,481.64 162.31,487.77 162.61,489.98 162.91,490.12 163.21,493.19 163.51,494.02 163.81,495.05 164.11,488.16 164.41,492.92 164.71,491.09 165.01,490.26 165.32,492.36 165.62,490.95 165.92,490.18 166.22,489.19 166.52,494.4 166.82,489.75 167.12,490.24 167.42,486.96 167.72,483.5 168.02,484.62 168.32,486.03 168.62,481.36 168.92,480.03 169.22,483.63 169.52,475.49 169.83,476.46 170.13,477.87 170.43,472.16 170.73,473.45 171.03,472.96 171.33,461.31 171.63,466.19 171.93,463.9 172.23,464.37 172.53,468.82 172.83,469.35 173.13,462.98 173.43,460.24 173.73,452.23 174.04,454.27 174.34,455.75 174.64,459.59 174.94,458.97 175.24,457.71 175.54,458.22 175.84,460 176.14,460.12 176.44,460.78 176.74,462.48 177.04,467.13 177.34,463.18 177.64,465.47 177.94,465.11 178.24,465.61 178.55,467.5 178.85,466.71 179.15,467.06 179.45,469.21 179.75,470.73 180.05,473.3 180.35,471.54 180.65,474.95 180.95,478.93 181.25,480 181.55,476.58 181.85,480.62 182.15,476.95 182.45,474.61 182.75,473.5 183.06,469.81 183.36,472.77 183.66,467.64 183.96,463.68 184.26,461.19 184.56,457.43 184.86,454.38 185.16,457.87 185.46,452.83 185.76,450.72 186.06,448.77 186.36,448.95 186.66,456.2 186.96,456.02 187.27,453.66 187.57,454.37 187.87,454.2 188.17,450.68 188.47,452.08 188.77,455.06 189.07,449.68 189.37,451.48 189.67,456.48 189.97,453.23 190.27,459.81 190.57,460.23 190.87,462 191.17,463.9 191.47,468.6 191.78,469.74 192.08,473.89 192.38,469.41 192.68,470.54 192.98,468.72 193.28,469.76 193.58,464.24 193.88,460.1 194.18,455.45 194.48,450.64 194.78,447.9 195.08,449.15 195.38,447.69 195.68,443.85 195.98,440.28 196.29,438.47 196.59,436.37 196.89,437.63 197.19,436.05 197.49,437.96 197.79,438.95 198.09,437.59 198.39,436.39 198.69,433.53 198.99,435.24 199.29,435.63 199.59,434.44 199.89,432.42 200.19,435.54 200.49,432.75 200.8,434.32 201.1,436.63 201.4,433.25 201.7,433.65 202,441.74 202.3,444.18 202.6,445.2 202.9,447.54 203.2,453.15 203.5,454.85 203.8,451.38 204.1,452.18 204.4,449.54 204.7,450.81 205.01,451.94 205.31,450.5 205.61,451.1 205.91,448.2 206.21,447.37 206.53,447.01 206.85,451.63 207.18,448.93 207.5,446.41" fill="none" stroke="#6420fd" stroke-width="2.0" stroke-linejoin="round" clip-path="url(#ca10)"/>
<polyline points="73.8,428.38 74.16,426.95 74.51,428.74 74.81,433.63 75.11,434.66 75.41,444.89 75.71,449.84 76.01,459.54 76.31,468.11 76.61,477.23 76.92,480.9 77.22,484.5 77.52,481.92 77.82,478.67 78.12,469.23 78.42,466.9 78.72,462.53 79.02,463.03 79.32,459.29 79.62,456.14 79.92,453.95 80.22,452.51 80.52,446.98 80.82,446.07 81.13,448.36 81.43,446.13 81.73,444.09 82.03,446.48 82.33,446.66 82.63,443.64 82.93,444.61 83.23,449.14 83.53,448.89 83.83,448.79 84.13,453.43 84.43,457.99 84.73,454.68 85.03,455.81 85.33,460.56 85.64,458.7 85.94,458.78 86.24,457.5 86.54,460.72 86.84,451.24 87.14,451.91 87.44,448.15 87.74,443.03 88.04,442.76 88.34,443.47 88.64,446.81 88.94,445.39 89.24,442.91 89.54,441.54 89.84,443.33 90.15,444.68 90.45,441.09 90.75,442.31 91.05,442.43 91.35,441.22 91.65,440.28 91.95,441.99 92.25,443.1 92.55,443.96 92.85,447.11 93.15,449.16 93.45,450.72 93.75,450.56 94.05,456.39 94.36,457.47 94.66,466.76 94.96,470.47 95.26,466.46 95.56,472.03 95.86,468.18 96.16,466.35 96.46,469.2 96.76,473.02 97.06,477.2 97.36,479.59 97.66,471.8 97.96,469.42 98.26,469.32 98.56,465.78 98.87,466.18 99.17,463.16 99.47,462.07 99.77,458.62 100.07,454.98 100.37,452.61 100.67,447.52 100.97,447.65 101.27,446.87 101.57,444.81 101.87,442.62 102.17,441.06 102.47,443.35 102.77,439.96 103.07,438.54 103.38,437.52 103.68,433.74 103.98,435.51 104.28,436.8 104.58,432.35 104.88,437.74 105.18,437.93 105.48,440.14 105.78,443.64 106.08,442.62 106.38,442.1 106.68,443.54 106.98,447.12 107.28,445.16 107.58,445.6 107.89,449.18 108.19,450.93 108.49,456.48 108.79,457.2 109.09,459.13 109.39,460.21 109.69,458.89 109.99,460.42 110.29,458.62 110.59,455.8 110.89,451.67 111.19,453.11 111.49,452.85 111.79,450.73 112.1,446.05 112.4,440.53 112.7,437.83 113,434.01 113.3,433.01 113.6,436.42 113.9,429.9 114.2,431.14 114.5,427.72 114.8,429.18 115.1,425.66 115.4,428.24 115.7,426.02 116,428.98 116.3,429.47 116.61,432.35 116.91,435.03 117.21,431.73 117.51,432.91 117.81,431.8 118.11,430.33 118.41,430.74 118.71,428.37 119.01,430.94 119.31,428.77 119.61,430.66 119.91,428.51 120.21,428.02 120.51,425.94 120.81,423.77 121.12,424.74 121.42,427.24 121.72,425.59 122.02,428.18 122.32,431.22 122.62,432.63 122.92,436.13 123.22,442.21 123.52,445.31 123.82,437 124.12,441.3 124.42,444.65 124.72,444.77 125.02,447.92 125.33,445.17 125.63,446.89 125.93,445.18 126.23,440.78 126.53,443.1 126.83,442.98 127.13,445.9 127.43,443.7 127.73,445.98 128.03,442.5 128.33,443.29 128.63,445.83 128.93,444.5 129.23,445.45 129.53,447.87 129.84,449.18 130.14,447.81 130.44,446.78 130.74,448.52 131.04,447.82 131.34,448.92 131.64,451.54 131.94,446.01 132.24,448.52 132.54,450.23 132.84,452.9 133.14,454.65 133.44,454.85 133.74,456.49 134.04,452.54 134.35,444.99 134.65,443.84 134.95,446.85 135.25,444.21 135.55,439.71 135.85,440.16 136.15,439.4 136.45,441.89 136.75,438.86 137.05,438.86 137.35,441.95 137.65,442.11 137.95,436.97 138.25,442.54 138.55,444.14 138.86,448.27 139.16,448.31 139.46,445.24 139.76,442.82 140.06,443.94 140.36,444.93 140.66,443.72 140.96,439.41 141.26,438.79 141.56,438.77 141.86,436.9 142.16,433.1 142.46,434.74 142.76,434.18 143.07,438.57 143.37,440.28 143.67,440.95 143.97,449.86 144.27,447.8 144.57,449.08 144.87,451.83 145.17,453.83 145.47,453.6 145.77,453.95 146.07,455.01 146.37,453.98 146.67,452.68 146.97,446.38 147.27,444.62 147.58,445.03 147.88,444.91 148.18,443.58 148.48,443.83 148.78,438.3 149.08,441.44 149.38,437.85 149.68,440.39 149.98,439.15 150.28,441.95 150.58,440.88 150.88,441.22 151.18,445.56 151.48,443.78 151.78,446.02 152.09,447.99 152.39,450.49 152.69,450.42 152.99,455.06 153.29,454.86 153.59,448.95 153.89,446.34 154.19,446.96 154.49,448.75 154.79,449.97 155.09,447.39 155.39,443.01 155.69,442.79 155.99,440.73 156.3,445.64 156.6,449.3 156.9,453.31 157.2,452.34 157.5,458.63 157.8,461.05 158.1,459.58 158.4,460.19 158.7,459.2 159,457.54 159.3,463.57 159.6,461.83 159.9,456.66 160.2,452.54 160.5,450.71 160.81,452.58 161.11,449.21 161.41,452.37 161.71,454.48 162.01,454.41 162.31,453.29 162.61,450.05 162.91,448.5 163.21,449.44 163.51,450.06 163.81,448.69 164.11,448.82 164.41,449.68 164.71,451.08 165.01,450.98 165.32,451.44 165.62,449.96 165.92,447.13 166.22,446.47 166.52,448.83 166.82,449.49 167.12,454.38 167.42,453.35 167.72,453.15 168.02,456.68 168.32,450.52 168.62,445.07 168.92,443.89 169.22,448.63 169.52,448.11 169.83,447.59 170.13,443.36 170.43,444.1 170.73,440.13 171.03,439.08 171.33,440.3 171.63,439.92 171.93,432.69 172.23,432.74 172.53,428.84 172.83,427.18 173.13,427.03 173.43,428.74 173.73,424.97 174.04,420.92 174.34,417.76 174.64,419.83 174.94,419.1 175.24,420.53 175.54,421.73 175.84,428.96 176.14,426.76 176.44,426.96 176.74,426.41 177.04,426.37 177.34,429.24 177.64,429.89 177.94,430.67 178.24,435.76 178.55,443.37 178.85,440.28 179.15,444.26 179.45,448.96 179.75,451.59 180.05,453.84 180.35,453.42 180.65,450.38 180.95,447.24 181.25,448.05 181.55,448.34 181.85,449.17 182.15,450.1 182.45,448.35 182.75,448.42 183.06,445.66 183.36,444.26 183.66,450 183.96,446.65 184.26,443.31 184.56,441.95 184.86,437.94 185.16,434.07 185.46,437.63 185.76,439.51 186.06,436.76 186.36,439.2 186.66,430.69 186.96,431.66 187.27,427.87 187.57,428.46 187.87,435.81 188.17,433.87 188.47,431.97 188.77,429.83 189.07,436.42 189.37,429.08 189.67,433.03 189.97,433.33 190.27,434.46 190.57,435.03 190.87,436.66 191.17,438.88 191.47,435.97 191.78,438.45 192.08,440.62 192.38,441.82 192.68,442.47 192.98,443.8 193.28,447.19 193.58,450.98 193.88,446.99 194.18,446.37 194.48,444.58 194.78,443.76 195.08,442.07 195.38,442.54 195.68,443.6 195.98,446.37 196.29,442.09 196.59,442.4 196.89,445.66 197.19,444.27 197.49,446.45 197.79,446.51 198.09,444.8 198.39,445.61 198.69,451.91 198.99,450.03 199.29,450.59 199.59,448.26 199.89,449.61 200.19,449.65 200.49,452.47 200.8,450.28 201.1,446.45 201.4,451.56 201.7,454.68 202,457.63 202.3,457.8 202.6,458.19 202.9,458.07 203.2,459.34 203.5,453.86 203.8,448.29 204.1,449.78 204.4,448.91 204.7,450.5 205.01,445.31 205.31,439.15 205.61,437.54 205.91,437.31 206.21,436.25 206.53,438.82 206.85,435.26 207.18,431.76 207.5,433.37" fill="none" stroke="#2edb48" stroke-width="2.0" stroke-linejoin="round" clip-path="url(#ca10)"/>
<polyline points="73.8,446.84 74.16,448.63 74.51,450.99 74.81,449.8 75.11,455.18 75.41,457 75.71,458.08 76.01,458.81 76.31,462.36 76.61,463.28 76.92,464.94 77.22,462.06 77.52,465.42 77.82,471.5 78.12,471.87 78.42,469.7 78.72,470.65 79.02,475.9 79.32,480.47 79.62,477.02 79.92,480.06 80.22,476.74 80.52,479.32 80.82,483.96 81.13,480.32 81.43,484.22 81.73,483.49 82.03,483.35 82.33,483.05 82.63,481.39 82.93,479.33 83.23,480.82 83.53,480.16 83.83,477.85 84.13,471.51 84.43,470.69 84.73,468.24 85.03,467.29 85.33,467.78 85.64,471.08 85.94,468.72 86.24,470.46 86.54,468.42 86.84,468.36 87.14,470.89 87.44,467.15 87.74,464.19 88.04,461.1 88.34,462.48 88.64,463.6 88.94,466.23 89.24,462.79 89.54,458.78 89.84,462.28 90.15,463.51 90.45,463.39 90.75,462.16 91.05,465.31 91.35,463.41 91.65,466.99 91.95,463.92 92.25,463.3 92.55,462.69 92.85,458 93.15,457.46 93.45,454.74 93.75,452.97 94.05,454.94 94.36,454.62 94.66,451.76 94.96,450.18 95.26,449.77 95.56,447.55 95.86,452.11 96.16,448.5 96.46,449.14 96.76,447.55 97.06,448.12 97.36,450.87 97.66,455.69 97.96,453.58 98.26,453.24 98.56,451.33 98.87,452.63 99.17,460.76 99.47,462.94 99.77,456.15 100.07,454.83 100.37,458.01 100.67,463.27 100.97,468.02 101.27,472 101.57,470.24 101.87,472.28 102.17,475.71 102.47,473.78 102.77,481.58 103.07,482.96 103.38,475.91 103.68,481.01 103.98,480.27 104.28,481.59 104.58,479.93 104.88,481.38 105.18,483.79 105.48,482.02 105.78,482.9 106.08,487.27 106.38,481.82 106.68,483.2 106.98,483.36 107.28,479.66 107.58,479.99 107.89,479.45 108.19,476.79 108.49,475.39 108.79,476.62 109.09,473.5 109.39,474.82 109.69,473.82 109.99,473.92 110.29,471.96 110.59,471.93 110.89,473.91 111.19,471.4 111.49,473.08 111.79,467.54 112.1,468.16 112.4,471.37 112.7,470.9 113,468.03 113.3,471.93 113.6,470.22 113.9,475.44 114.2,473.93 114.5,474.45 114.8,473.49 115.1,470.68 115.4,474.13 115.7,476.98 116,475.13 116.3,475.28 116.61,471.55 116.91,470.89 117.21,467.29 117.51,466.87 117.81,468.75 118.11,469.85 118.41,466.31 118.71,463.11 119.01,463.6 119.31,461.67 119.61,462.29 119.91,464.28 120.21,464.15 120.51,466.91 120.81,466.63 121.12,464.92 121.42,467.1 121.72,467.02 122.02,468 122.32,471.89 122.62,471.75 122.92,474.55 123.22,476.01 123.52,471.43 123.82,469.95 124.12,470.36 124.42,461.98 124.72,461.22 125.02,463.96 125.33,462.46 125.63,457.28 125.93,454.59 126.23,452.87 126.53,452.59 126.83,452.41 127.13,452.03 127.43,450.74 127.73,455.88 128.03,457.14 128.33,455.54 128.63,456.27 128.93,462.29 129.23,461.78 129.53,464.21 129.84,467.23 130.14,467.6 130.44,471.24 130.74,471.38 131.04,466.97 131.34,465.43 131.64,463.5 131.94,456.15 132.24,455.2 132.54,455.37 132.84,455.5 133.14,455.98 133.44,452 133.74,454.65 134.04,452.97 134.35,447.93 134.65,445.42 134.95,446.32 135.25,441.96 135.55,440.45 135.85,434.82 136.15,435.62 136.45,437 136.75,437.69 137.05,438.31 137.35,442.26 137.65,441.12 137.95,447.01 138.25,447.52 138.55,452.77 138.86,453.55 139.16,455.62 139.46,463.26 139.76,459.41 140.06,468.42 140.36,469.08 140.66,472.46 140.96,475.22 141.26,474.17 141.56,478.09 141.86,481.98 142.16,483.25 142.46,481.01 142.76,482.74 143.07,484.15 143.37,481.93 143.67,484.54 143.97,485.43 144.27,483.65 144.57,482.21 144.87,480.86 145.17,478.73 145.47,480.77 145.77,479.75 146.07,477.41 146.37,475.9 146.67,472.93 146.97,471.88 147.27,465.87 147.58,470.69 147.88,473.52 148.18,467.87 148.48,466.35 148.78,469.45 149.08,467.04 149.38,471.55 149.68,472.4 149.98,471.8 150.28,474.43 150.58,473.06 150.88,469.68 151.18,469.46 151.48,469.99 151.78,470.21 152.09,464.46 152.39,467.24 152.69,461.69 152.99,464.22 153.29,457.79 153.59,459.51 153.89,460.94 154.19,460.33 154.49,456.76 154.79,456.96 155.09,457.84 155.39,455.82 155.69,449.77 155.99,450.83 156.3,449.34 156.6,449.62 156.9,448.72 157.2,447.7 157.5,448.12 157.8,449.23 158.1,447.37 158.4,443.01 158.7,441.95 159,441.57 159.3,446.81 159.6,447.48 159.9,448.8 160.2,451.66 160.5,454.12 160.81,451.63 161.11,452.72 161.41,454.3 161.71,454.47 162.01,457.96 162.31,461.4 162.61,461.33 162.91,464.1 163.21,463.87 163.51,464.71 163.81,464.65 164.11,467.24 164.41,471.32 164.71,475.01 165.01,473.24 165.32,474.36 165.62,478.06 165.92,473.14 166.22,470.6 166.52,469.85 166.82,468.68 167.12,466.71 167.42,467.41 167.72,463.89 168.02,458.71 168.32,462.31 168.62,461.63 168.92,464.61 169.22,459.71 169.52,461.74 169.83,461.06 170.13,458.64 170.43,457.9 170.73,458.49 171.03,457.66 171.33,458.39 171.63,462.06 171.93,466.96 172.23,468.69 172.53,465.74 172.83,466.91 173.13,463.56 173.43,460.38 173.73,456.57 174.04,453.56 174.34,455.3 174.64,457.88 174.94,455.89 175.24,450.32 175.54,445.63 175.84,448.77 176.14,443.32 176.44,437.73 176.74,437.82 177.04,446.28 177.34,444.02 177.64,449.59 177.94,450.03 178.24,452.92 178.55,456.19 178.85,459.89 179.15,457.67 179.45,452.04 179.75,455.54 180.05,457.93 180.35,457.2 180.65,459.4 180.95,460.38 181.25,466.51 181.55,469.63 181.85,468.24 182.15,468.58 182.45,470.51 182.75,474.25 183.06,471.73 183.36,473.45 183.66,479.26 183.96,478.03 184.26,480.7 184.56,474.55 184.86,477.27 185.16,481.92 185.46,480.25 185.76,478.6 186.06,478.86 186.36,477.65 186.66,474.78 186.96,475.09 187.27,473.77 187.57,470.46 187.87,476.63 188.17,471.47 188.47,466.63 188.77,467.26 189.07,465.18 189.37,468.3 189.67,470.14 189.97,473.06 190.27,470 190.57,472.35 190.87,471.35 191.17,473.31 191.47,474.89 191.78,477.48 192.08,476.03 192.38,477.57 192.68,479.38 192.98,475.7 193.28,479.77 193.58,478.51 193.88,474.35 194.18,473.83 194.48,475.44 194.78,472.54 195.08,472.04 195.38,474.12 195.68,468.33 195.98,461.62 196.29,463.56 196.59,464.28 196.89,466.66 197.19,466.9 197.49,467.29 197.79,466.26 198.09,468.54 198.39,468.89 198.69,470.08 198.99,471.4 199.29,476.12 199.59,472.92 199.89,473.71 200.19,469.49 200.49,469.6 200.8,468.77 201.1,473.72 201.4,472.42 201.7,473.64 202,471.2 202.3,467.64 202.6,467.35 202.9,460.34 203.2,459.38 203.5,459.67 203.8,456.32 204.1,454.67 204.4,452.7 204.7,449.22 205.01,449.64 205.31,450.12 205.61,444.79 205.91,443.35 206.21,444.02 206.53,441.35 206.85,447.48 207.18,442.06 207.5,442.09" fill="none" stroke="#64d9fb" stroke-width="2.0" stroke-linejoin="round" clip-path="url(#ca10)"/>
<polyline points="215.75,443.62 215.97,447.47 216.26,456.22 216.56,455.32 216.85,460.52 217.14,452.77 217.43,459.54 217.73,465.99 218.02,470.49 218.31,473.37 218.61,477.66 218.92,477.16 219.22,474.34 219.52,480.24 219.82,480.31 220.12,478.83 220.42,482.38 220.72,485.46 221.02,489 221.32,481.31 221.62,474.6 221.92,469.18 222.22,464.22 222.52,455.15 222.82,455.98 223.13,444.31 223.43,437.44 223.73,430.59 224.03,432.39 224.33,433.23 224.63,431.66 224.93,428.18 225.23,429.26 225.53,430.01 225.83,428.23 226.13,430.61 226.43,431.04 226.73,433.3 227.03,434.43 227.33,439.64 227.64,437.96 227.94,442.16 228.24,446.58 228.54,447.24 228.84,452.49 229.14,455.73 229.44,456.43 229.74,459.7 230.04,456.48 230.34,458.18 230.64,462.44 230.94,463.69 231.24,460.19 231.54,459.42 231.84,460.69 232.15,455.68 232.45,458.45 232.75,457.19 233.05,451.51 233.35,452.33 233.65,447.97 233.95,447.78 234.25,445.95 234.55,446.31 234.85,450.16 235.15,441.97 235.45,440.73 235.75,442.8 236.05,445.73 236.36,446.89 236.66,445.69 236.96,447.54 237.26,444.44 237.56,446.99 237.86,447.1 238.16,444.6 238.46,443.46 238.76,444.96 239.06,441.6 239.36,445.82 239.66,441.28 239.96,446.27 240.26,446.14 240.56,450.08 240.87,448.86 241.17,450.34 241.47,453.84 241.77,456.06 242.07,462.8 242.37,464.84 242.67,468.72 242.97,470.95 243.27,469.78 243.57,471.81 243.87,479.38 244.17,479.08 244.47,480.45 244.77,478.82 245.07,475.53 245.38,475 245.68,475.41 245.98,473.55 246.28,468.2 246.58,464.51 246.88,462.9 247.18,458.08 247.48,455.93 247.78,459.66 248.08,457.24 248.38,456.53 248.68,454.99 248.98,459.67 249.28,458.75 249.58,465.81 249.89,464.46 250.19,464.01 250.49,458.9 250.79,462.01 251.09,463.01 251.39,465.41 251.69,465.34 251.99,459.71 252.29,456.34 252.59,456.52 252.89,456.15 253.19,458.94 253.49,456.49 253.79,456.04 254.1,455.53 254.4,453.45 254.7,457.28 255,455.9 255.3,450.91 255.6,451.82 255.9,453.42 256.2,452.33 256.5,452.95 256.8,454.16 257.1,456.68 257.4,458.58 257.7,457.27 258,456.38 258.3,457.92 258.61,455.32 258.91,455.27 259.21,453.87 259.51,459.44 259.81,462.83 260.11,469.59 260.41,470.34 260.71,471.35 261.01,472.37 261.31,470.26 261.61,469.35 261.91,473.16 262.21,472.46 262.51,473.75 262.81,478.63 263.12,476.7 263.42,473.14 263.72,471.86 264.02,468.52 264.32,467.9 264.62,462 264.92,458.91 265.22,456.28 265.52,452.21 265.82,455.17 266.12,455.58 266.42,455.87 266.72,456.07 267.02,452.03 267.33,452.25 267.63,452.08 267.93,454.23 268.23,459.35 268.53,454.6 268.83,455.07 269.13,457.63 269.43,460.61 269.73,459.45 270.03,460.81 270.33,459.43 270.63,456.42 270.93,462.45 271.23,462.27 271.53,455.64 271.84,456.64 272.14,457.51 272.44,455.45 272.74,455.65 273.04,459.65 273.34,462.43 273.64,457.74 273.94,460.25 274.24,457.25 274.54,454.76 274.84,454.96 275.14,452.52 275.44,453.35 275.74,454.76 276.04,450.27 276.35,454.3 276.65,453.2 276.95,453.1 277.25,454.36 277.55,455.76 277.85,460.94 278.15,465.39 278.45,463.26 278.75,461.48 279.05,462.86 279.35,461.14 279.65,466.66 279.95,472.2 280.25,473.68 280.55,470.62 280.86,467.12 281.16,468.8 281.46,470.87 281.76,468.2 282.06,467.32 282.36,466.86 282.66,463.03 282.96,463.09 283.26,459.5 283.56,458.07 283.86,458.22 284.16,460.4 284.46,459.93 284.76,463.47 285.07,471.45 285.37,474.14 285.67,483.5 285.97,481.24 286.27,486.58 286.57,489.19 286.87,493 287.17,489.82 287.47,493.23 287.77,488.54 288.07,486.26 288.37,487.77 288.67,489.11 288.97,486.44 289.27,477.95 289.58,479.5 289.88,481.52 290.18,476.95 290.48,478.04 290.78,474.97 291.08,478.19 291.38,475.66 291.68,474.72 291.98,475.83 292.28,474.84 292.58,475.47 292.88,469.21 293.18,469.66 293.48,470.36 293.78,470.02 294.09,473.28 294.39,478.83 294.69,484.24 294.99,482.36 295.29,481.46 295.59,482.08 295.89,485.01 296.19,488.33 296.49,483.03 296.79,488.01 297.09,485.09 297.39,482.55 297.69,481.9 297.99,484.69 298.3,482.38 298.6,475.43 298.9,475.16 299.2,478.38 299.5,474.94 299.8,477.15 300.1,475.46 300.4,475.46 300.7,472.8 301,471.38 301.3,470.58 301.6,470.43 301.9,473.81 302.2,474.91 302.5,477.92 302.81,477.93 303.11,473.34 303.41,477.15 303.71,477.64 304.01,478.72 304.31,479.84 304.61,484.48 304.91,483.53 305.21,484.77 305.51,488.41 305.81,487.99 306.11,486.76 306.41,488.31 306.71,490.91 307.01,496.11 307.32,499.44 307.62,501.13 307.92,489.94 308.22,489.42 308.52,489.06 308.82,484.34 309.12,481.55 309.42,476.36 309.72,471.9 310.02,476.82 310.32,470.97 310.62,471.06 310.92,477.05 311.22,476.62 311.52,478.74 311.83,478.47 312.13,478.37 312.43,480.29 312.73,480.66 313.03,480.09 313.33,476.17 313.63,478.35 313.93,479.69 314.23,477.47 314.53,477.98 314.83,480.02 315.13,482.49 315.43,478.98 315.73,473.07 316.04,476.36 316.34,476.55 316.64,475.88 316.94,471.5 317.24,475.1 317.54,479.02 317.84,477.89 318.14,478.24 318.44,479.13 318.74,480.31 319.04,482.66 319.34,482 319.64,481.48 319.94,487.13 320.24,481.42 320.55,481.18 320.85,484.71 321.15,486.03 321.45,491.25 321.75,494.37 322.05,492.66 322.35,491.17 322.65,493.57 322.95,491.93 323.25,490.77 323.55,489.27 323.85,481.78 324.15,482.46 324.45,477.56 324.75,475.61 325.06,473.1 325.36,470.3 325.66,467.48 325.96,461.4 326.26,459.99 326.56,458.81 326.86,455.73 327.16,462.1 327.46,465.86 327.76,462.5 328.06,461.39 328.36,456.78 328.66,461.25 328.96,468.99 329.27,471.57 329.57,466.85 329.87,468.1 330.17,472.09 330.47,470.88 330.77,468.55 331.07,467.48 331.37,464.75 331.67,463.34 331.97,462.01 332.27,467.69 332.57,463.02 332.87,464.79 333.17,463.83 333.47,466.6 333.78,467.4 334.08,467.85 334.38,469.54 334.68,466.04 334.98,467.4 335.28,472.66 335.58,472.14 335.88,481.18 336.18,479.21 336.48,479.11 336.78,480.53 337.08,485.9 337.38,489.62 337.68,490.03 337.98,488.17 338.29,490.1 338.59,492.1 338.89,488.05 339.19,491.18 339.49,485.69 339.79,485.11 340.09,483.57 340.39,484.01 340.69,481.84 340.99,477.38 341.29,477.89 341.59,475.29 341.89,469.56 342.19,474.84 342.49,469.74 342.8,469.85 343.1,469.62 343.4,472.42 343.7,468.3 344,468.94 344.3,463.27 344.6,467.95 344.9,466.74 345.2,466.61 345.5,467.51 345.8,467.2 346.1,470.43 346.4,471.75 346.7,467.68 347.01,468.92 347.31,472.88 347.61,474.41 347.91,474.62 348.21,472.58 348.52,470.11 348.83,473.11 349.14,473.71 349.45,468.29" fill="none" stroke="#6420fd" stroke-width="2.0" stroke-linejoin="round" clip-path="url(#ca11)"/>
<polyline points="215.75,444.36 215.97,444.07 216.26,447.41 216.56,448.05 216.85,447.85 217.14,450.98 217.43,454.25 217.73,453.81 218.02,453.57 218.31,456.61 218.61,455.28 218.92,450.53 219.22,445.5 219.52,445.49 219.82,439.8 220.12,433.79 220.42,431.13 220.72,423.95 221.02,420.87 221.32,421.51 221.62,423.33 221.92,425.38 222.22,424.93 222.52,427.96 222.82,428.02 223.13,431.11 223.43,433.71 223.73,430.73 224.03,433.14 224.33,439.82 224.63,444.29 224.93,450.84 225.23,452.61 225.53,450.82 225.83,457.01 226.13,462.76 226.43,462.2 226.73,459.38 227.03,454.24 227.33,454.14 227.64,452.56 227.94,448.84 228.24,449.63 228.54,447.31 228.84,447.62 229.14,444.05 229.44,437.23 229.74,439.43 230.04,441.28 230.34,439.46 230.64,439.79 230.94,436.28 231.24,438.26 231.54,437.56 231.84,430.87 232.15,436.16 232.45,438.11 232.75,437.41 233.05,437.19 233.35,440.87 233.65,442.63 233.95,442.56 234.25,444.28 234.55,443.29 234.85,446.37 235.15,446.54 235.45,454.03 235.75,458.36 236.05,461.42 236.36,461.58 236.66,464.3 236.96,469.53 237.26,469.29 237.56,475.66 237.86,475.47 238.16,475.61 238.46,479.9 238.76,480.77 239.06,477.51 239.36,478.45 239.66,476.42 239.96,469.57 240.26,467.18 240.56,467.71 240.87,470.51 241.17,472.17 241.47,464.69 241.77,462.07 242.07,465.21 242.37,460.74 242.67,457.57 242.97,458.41 243.27,455.73 243.57,454.14 243.87,452.69 244.17,445.81 244.47,445.95 244.77,446.75 245.07,440.15 245.38,442.85 245.68,441.92 245.98,437.8 246.28,438.7 246.58,437.78 246.88,433.83 247.18,432.73 247.48,436.3 247.78,434.03 248.08,429.94 248.38,430.18 248.68,434.59 248.98,435.3 249.28,435.15 249.58,436.11 249.89,438.2 250.19,439.64 250.49,443.73 250.79,443.51 251.09,443.33 251.39,441.81 251.69,444.66 251.99,449.84 252.29,455.27 252.59,454.54 252.89,453.49 253.19,455.4 253.49,458.97 253.79,458.89 254.1,454.46 254.4,457.55 254.7,459.69 255,458.28 255.3,455.67 255.6,455.51 255.9,452.76 256.2,451.3 256.5,454.69 256.8,451.69 257.1,449.97 257.4,446.15 257.7,450.49 258,445.15 258.3,444.51 258.61,444.62 258.91,440.71 259.21,436.87 259.51,442.18 259.81,447.96 260.11,450.07 260.41,450.47 260.71,444.88 261.01,444.99 261.31,443.33 261.61,443.78 261.91,443.81 262.21,442.83 262.51,444.07 262.81,449.2 263.12,448.67 263.42,447.76 263.72,442.9 264.02,441.72 264.32,439.56 264.62,441.17 264.92,440.56 265.22,439.91 265.52,440.03 265.82,434.6 266.12,429.82 266.42,429.57 266.72,425.98 267.02,428.42 267.33,427.73 267.63,425.15 267.93,426.28 268.23,422.87 268.53,425.65 268.83,425.69 269.13,425.86 269.43,430.05 269.73,430.63 270.03,430.5 270.33,432.63 270.63,432.77 270.93,440.3 271.23,440.82 271.53,442.44 271.84,448.68 272.14,442.03 272.44,444.24 272.74,441.27 273.04,441.82 273.34,435.73 273.64,432.02 273.94,439.85 274.24,434.58 274.54,430.11 274.84,431.53 275.14,431.7 275.44,430.31 275.74,433.09 276.04,432.58 276.35,433.34 276.65,436.87 276.95,441.86 277.25,445.08 277.55,439.95 277.85,440.64 278.15,440.98 278.45,440.09 278.75,444.51 279.05,445.81 279.35,444.57 279.65,445.83 279.95,442.71 280.25,444.04 280.55,447.32 280.86,443.16 281.16,445.53 281.46,440.06 281.76,436.95 282.06,433.75 282.36,436.94 282.66,438.35 282.96,436.63 283.26,435.94 283.56,440.2 283.86,437.78 284.16,442.09 284.46,439.47 284.76,438.94 285.07,444.69 285.37,447.4 285.67,447.61 285.97,449.25 286.27,450.28 286.57,449.05 286.87,445.91 287.17,441.15 287.47,436.96 287.77,444.88 288.07,444.2 288.37,440.2 288.67,433.53 288.97,429.08 289.27,426.92 289.58,425.99 289.88,426.26 290.18,423.76 290.48,420.22 290.78,419.93 291.08,423.19 291.38,421.36 291.68,421.28 291.98,425.37 292.28,428.1 292.58,433.84 292.88,434.47 293.18,439.11 293.48,433.53 293.78,435.04 294.09,437.64 294.39,442.2 294.69,438.24 294.99,439.14 295.29,443.48 295.59,441.25 295.89,438.44 296.19,441.44 296.49,442.21 296.79,440.15 297.09,440.26 297.39,440.25 297.69,437.64 297.99,436.65 298.3,434.99 298.6,434.09 298.9,435.41 299.2,430.72 299.5,428.65 299.8,429.25 300.1,431 300.4,426.26 300.7,426.36 301,425.25 301.3,428.69 301.6,431.72 301.9,432.28 302.2,435.99 302.5,432.06 302.81,431.68 303.11,436.85 303.41,440.94 303.71,437.37 304.01,439.36 304.31,437.56 304.61,437.36 304.91,437.92 305.21,437.82 305.51,435.29 305.81,430.75 306.11,433.55 306.41,433.04 306.71,429.59 307.01,430.94 307.32,427.83 307.62,428.09 307.92,425.67 308.22,425.66 308.52,424.16 308.82,424.89 309.12,421.22 309.42,418.6 309.72,415.4 310.02,421.89 310.32,417.28 310.62,420.52 310.92,421.85 311.22,427.31 311.52,428.07 311.83,430.56 312.13,434.52 312.43,435.62 312.73,428.54 313.03,432.32 313.33,433.69 313.63,434.93 313.93,437.68 314.23,443.44 314.53,443.53 314.83,443.07 315.13,442.2 315.43,439.65 315.73,439.99 316.04,447.81 316.34,446.35 316.64,444.3 316.94,444.02 317.24,447.08 317.54,447.62 317.84,447.59 318.14,448.87 318.44,450.43 318.74,458.2 319.04,456.47 319.34,456.05 319.64,458.18 319.94,455.49 320.24,459.17 320.55,460.22 320.85,461.17 321.15,462.88 321.45,462.85 321.75,463.8 322.05,468.4 322.35,468.58 322.65,475.85 322.95,472.88 323.25,467.65 323.55,461.26 323.85,462.17 324.15,455.07 324.45,449.3 324.75,438.76 325.06,435.92 325.36,433.49 325.66,432.34 325.96,429.77 326.26,429.15 326.56,430.27 326.86,430.44 327.16,429.11 327.46,427.47 327.76,430.33 328.06,427.46 328.36,425.38 328.66,428.41 328.96,423.61 329.27,425.23 329.57,428.5 329.87,427.49 330.17,424.81 330.47,424.38 330.77,428.11 331.07,430.55 331.37,433.36 331.67,427.83 331.97,429.31 332.27,428.15 332.57,432.44 332.87,432.84 333.17,433.95 333.47,439.22 333.78,441.21 334.08,440.64 334.38,443.08 334.68,439.05 334.98,444.23 335.28,452.24 335.58,452.62 335.88,447.36 336.18,443.71 336.48,444.91 336.78,443.71 337.08,438.75 337.38,442.42 337.68,435.11 337.98,431.87 338.29,431.02 338.59,432.68 338.89,432.3 339.19,432.31 339.49,431.2 339.79,431.06 340.09,436.43 340.39,434.58 340.69,436.54 340.99,434.76 341.29,437.66 341.59,442.23 341.89,437.74 342.19,439 342.49,436.53 342.8,437.77 343.1,442.56 343.4,445.15 343.7,451.03 344,450.05 344.3,452.45 344.6,452.47 344.9,453.65 345.2,458.93 345.5,460.91 345.8,465.89 346.1,462.81 346.4,466.84 346.7,460.84 347.01,449.64 347.31,451.37 347.61,442.97 347.91,435.05 348.21,429.18 348.52,425.43 348.83,430.15 349.14,424.21 349.45,423.66" fill="none" stroke="#2edb48" stroke-width="2.0" stroke-linejoin="round" clip-path="url(#ca11)"/>
<polyline points="215.75,480.66 215.97,483.74 216.26,479.44 216.56,478.92 216.85,477.2 217.15,477.24 217.45,476.9 217.74,477.98 218.04,479.8 218.33,480.09 218.63,478.95 218.92,477.66 219.22,475.98 219.52,477.73 219.82,473.31 220.12,472.39 220.42,475.58 220.72,468.27 221.02,467.59 221.32,467.38 221.62,470.56 221.92,464.48 222.22,460.48 222.52,463.27 222.82,467.09 223.13,462.19 223.43,465.15 223.73,468.57 224.03,469.72 224.33,468.58 224.63,470.62 224.93,473.1 225.23,474.3 225.53,473.7 225.83,477.61 226.13,481.28 226.43,484.28 226.73,484.65 227.03,488.96 227.33,488.99 227.64,487.49 227.94,487.69 228.24,483.57 228.54,487.54 228.84,485.17 229.14,488.97 229.44,491.16 229.74,497.21 230.04,496.37 230.34,495.37 230.64,492.33 230.94,487 231.24,489.58 231.54,487.36 231.84,486.08 232.15,483.73 232.45,478.87 232.75,479.68 233.05,480.15 233.35,479.81 233.65,475.65 233.95,469.73 234.25,468.77 234.55,470.73 234.85,468.51 235.15,469.56 235.45,462.96 235.75,463.92 236.05,467.97 236.36,467.51 236.66,465.92 236.96,460.53 237.26,458.52 237.56,458.37 237.86,458.49 238.16,458.83 238.46,460.94 238.76,460.99 239.06,459.49 239.36,460.92 239.66,458.18 239.96,453.95 240.26,453.06 240.56,450.91 240.87,450.32 241.17,449.83 241.47,450.59 241.77,450.3 242.07,452.52 242.37,451.39 242.67,451.8 242.97,451.74 243.27,452.75 243.57,444.1 243.87,447.54 244.17,447.19 244.47,443.81 244.77,446.93 245.07,446.56 245.38,445.25 245.68,440.57 245.98,438.83 246.28,437.24 246.58,439.16 246.88,439.86 247.18,439.72 247.48,436.42 247.78,437.65 248.08,436.45 248.38,439.14 248.68,440.41 248.98,441.67 249.28,443.08 249.58,445.77 249.89,444.73 250.19,446.87 250.49,451.65 250.79,450.85 251.09,451.9 251.39,456.68 251.69,459.21 251.99,465.53 252.29,464.89 252.59,469.77 252.89,471.76 253.19,474.38 253.49,478.01 253.79,483.16 254.1,485.6 254.4,488.18 254.7,490.32 255,489.31 255.3,493.45 255.6,488.36 255.9,489.08 256.2,484.86 256.5,481.39 256.8,475.2 257.1,470.54 257.4,473.4 257.7,465.26 258,467.91 258.3,464.99 258.61,462 258.91,459.54 259.21,457.64 259.51,455.9 259.81,455.79 260.11,454.04 260.41,458.33 260.71,453.67 261.01,452.25 261.31,453.79 261.61,450.39 261.91,451.86 262.21,454.33 262.51,458.48 262.81,459.93 263.12,457.22 263.42,459.04 263.72,455.51 264.02,459.47 264.32,464.78 264.62,460.32 264.92,464.01 265.22,466.16 265.52,467.04 265.82,460.39 266.12,461.57 266.42,464.22 266.72,462.89 267.02,459.79 267.33,455.7 267.63,453.26 267.93,454.31 268.23,451.68 268.53,452.7 268.83,452.99 269.13,452.06 269.43,456.7 269.73,454.85 270.03,454.12 270.33,455.92 270.63,457.64 270.93,459.92 271.23,459.29 271.53,461.03 271.84,463.23 272.14,461.68 272.44,463.55 272.74,461.77 273.04,458.67 273.34,456.31 273.64,463.42 273.94,457.15 274.24,456.65 274.54,455.99 274.84,458.57 275.14,458.23 275.44,455.71 275.74,456.81 276.04,454.43 276.35,459.19 276.65,460.43 276.95,463.94 277.25,462.42 277.55,465.54 277.85,469.06 278.15,463.42 278.45,469.44 278.75,477.18 279.05,475.63 279.35,481.99 279.65,485.18 279.95,479.18 280.25,479.34 280.55,471.16 280.86,466.27 281.16,464.42 281.46,460.01 281.76,452.85 282.06,446.72 282.36,447.13 282.66,440.37 282.96,436.46 283.26,432.2 283.56,433.9 283.86,437.34 284.16,437.85 284.46,444.24 284.76,440.16 285.07,442.73 285.37,447.64 285.67,447.51 285.97,449.68 286.27,449.54 286.57,445.64 286.87,445.08 287.17,447.88 287.47,446.1 287.77,444.93 288.07,452.51 288.37,448.39 288.67,444.92 288.97,438.28 289.27,434.98 289.58,437.47 289.88,442.51 290.18,442.96 290.48,442.35 290.78,445.95 291.08,446.71 291.38,447.27 291.68,445.43 291.98,449.48 292.28,449.22 292.58,451.2 292.88,449.47 293.18,456.7 293.48,455.97 293.78,455.45 294.09,456.19 294.39,457.34 294.69,459.94 294.99,463.94 295.29,465.66 295.59,467.93 295.89,465.94 296.19,465.72 296.49,470.98 296.79,472.15 297.09,462.47 297.39,464.99 297.69,463.62 297.99,461.5 298.3,462.33 298.6,461.11 298.9,459.2 299.2,458.35 299.5,459.44 299.8,453.83 300.1,457.55 300.4,455.89 300.7,456.44 301,456.76 301.3,453.97 301.6,451.33 301.9,456.71 302.2,458.88 302.5,456.18 302.81,456.51 303.11,454.32 303.41,455.72 303.71,459.75 304.01,460.86 304.31,464.45 304.61,465.85 304.91,461.05 305.21,460.65 305.51,461.17 305.81,463.69 306.11,464.57 306.41,464.6 306.71,464.74 307.01,462.03 307.32,465.32 307.62,470.1 307.92,467.6 308.22,471.24 308.52,469.7 308.82,468.99 309.12,469.62 309.42,471.95 309.72,473.36 310.02,472.96 310.32,467.94 310.62,465.8 310.92,473.09 311.22,475.18 311.52,472.95 311.83,469.44 312.13,468.54 312.43,463.13 312.73,465.34 313.03,464.35 313.33,463.4 313.63,458.2 313.93,453.57 314.23,451.56 314.53,450.19 314.83,448.99 315.13,449.29 315.43,445.57 315.73,444.6 316.04,443.75 316.34,438.98 316.64,439.01 316.94,437.98 317.24,436.51 317.54,433.51 317.84,431.71 318.14,431.97 318.44,430.87 318.74,433.72 319.04,438.57 319.34,439.98 319.64,442.82 319.94,444.82 320.24,444.95 320.55,449.24 320.85,450.52 321.15,453.15 321.45,456.87 321.75,463.77 322.05,467.7 322.35,463.71 322.65,463.03 322.95,460.87 323.25,459.93 323.55,460.15 323.85,462.56 324.15,461.94 324.45,455.51 324.75,455.06 325.06,452.88 325.36,450.03 325.66,448.98 325.96,446.78 326.26,447.38 326.56,446.64 326.86,449.9 327.16,453.98 327.46,447.14 327.76,451.79 328.06,451.64 328.36,448.77 328.66,448.29 328.96,449.73 329.27,448.84 329.57,449.5 329.87,446.88 330.17,443.34 330.47,445.14 330.77,443.59 331.07,446.76 331.37,444.91 331.67,446.08 331.97,446.69 332.27,449.43 332.57,444.37 332.87,448.95 333.17,446.93 333.47,452.61 333.78,449.98 334.08,445.67 334.38,441.88 334.68,451.25 334.98,450.84 335.28,451.89 335.58,452.68 335.88,452.95 336.18,453.68 336.48,454.14 336.78,458.1 337.08,452.83 337.38,457.6 337.68,459.47 337.98,463.18 338.29,462.67 338.59,466.63 338.89,467.62 339.19,467.57 339.49,467.89 339.79,464.18 340.09,468 340.39,464.62 340.69,467.2 340.99,458.44 341.29,465.82 341.59,466.62 341.89,468.28 342.19,468.17 342.49,467.01 342.8,470.26 343.1,470.05 343.4,475.44 343.7,476.29 344,475.75 344.3,476.67 344.6,478.54 344.9,484.09 345.2,482.06 345.5,481.08 345.8,477 346.1,476.95 346.4,477.18 346.7,475.43 347.01,470.35 347.31,464.97 347.61,467.46 347.91,467.52 348.21,466 348.52,463.85 348.83,461.23 349.14,461.88 349.45,464.45" fill="none" stroke="#64d9fb" stroke-width="2.0" stroke-linejoin="round" clip-path="url(#ca11)"/>
<polyline points="357.7,447.9 357.97,449.37 358.26,446.22 358.56,445.34 358.85,445.55 359.15,442.72 359.45,437.97 359.74,440.18 360.04,434.76 360.33,432.48 360.63,433.25 360.92,435.29 361.22,432.52 361.52,433.89 361.82,435.91 362.12,435.59 362.42,433.35 362.72,436.5 363.02,442.37 363.32,435.49 363.62,435.1 363.92,432.59 364.22,430.8 364.52,437.89 364.82,438.37 365.13,443.14 365.43,441.31 365.73,443.69 366.03,437.01 366.33,438.45 366.63,441.23 366.93,440.75 367.23,445.48 367.53,452.14 367.83,456.85 368.13,455.96 368.43,459.38 368.73,461.58 369.03,467.53 369.33,470.22 369.64,470.97 369.94,475.12 370.24,478.63 370.54,474.42 370.84,479.25 371.14,483.54 371.44,481.57 371.74,480.3 372.04,476.68 372.34,471.99 372.64,471.55 372.94,469.53 373.24,466.22 373.54,464.53 373.84,464.18 374.15,460.61 374.45,460.63 374.75,462.97 375.05,460.42 375.35,458.17 375.65,457.58 375.95,461.18 376.25,455.95 376.55,454.68 376.85,458.26 377.15,451.41 377.45,449.04 377.75,449.12 378.05,451.42 378.36,448.22 378.66,445.91 378.96,439.7 379.26,439.37 379.56,437.07 379.86,436.59 380.16,439.26 380.46,437.12 380.76,432.04 381.06,429.35 381.36,430.7 381.66,433.9 381.96,427.02 382.26,428.53 382.56,435.85 382.87,433.55 383.17,431.54 383.47,434.07 383.77,439.95 384.07,436.78 384.37,438.92 384.67,448.49 384.97,446.53 385.27,446.34 385.57,445.52 385.87,449.59 386.17,452.73 386.47,455.13 386.77,453.62 387.07,454.28 387.38,453.99 387.68,456.97 387.98,461.35 388.28,460.45 388.58,460.91 388.88,463.15 389.18,462.03 389.48,459.4 389.78,464.73 390.08,465.1 390.38,466.08 390.68,461.61 390.98,462.05 391.28,457.24 391.58,453 391.89,447.84 392.19,451.13 392.49,445.64 392.79,444.95 393.09,444.62 393.39,442.61 393.69,446.85 393.99,440.49 394.29,437 394.59,438.83 394.89,444.05 395.19,446.7 395.49,441.04 395.79,438.83 396.1,442.02 396.4,440.99 396.7,441.27 397,439.88 397.3,441.57 397.6,446.4 397.9,448.06 398.2,448.99 398.5,453.48 398.8,457.57 399.1,456.31 399.4,460.68 399.7,463.83 400,471.88 400.3,473.6 400.61,474.71 400.91,474.22 401.21,470.05 401.51,469.38 401.81,474.73 402.11,472.32 402.41,469.41 402.71,472.3 403.01,468.48 403.31,471.92 403.61,475.6 403.91,470.73 404.21,470.49 404.51,473.06 404.81,470.35 405.12,468.02 405.42,471.33 405.72,469.78 406.02,472.51 406.32,477.28 406.62,478.62 406.92,477.16 407.22,479.23 407.52,478.02 407.82,481.56 408.12,483.59 408.42,480.68 408.72,477.14 409.02,476.19 409.33,472.61 409.63,470.96 409.93,466.5 410.23,465.75 410.53,463.16 410.83,465.12 411.13,460.5 411.43,457.27 411.73,458.19 412.03,458.58 412.33,455.08 412.63,455.31 412.93,453.69 413.23,454.86 413.53,453.13 413.84,452.66 414.14,448.82 414.44,453.61 414.74,451.69 415.04,450.02 415.34,450.72 415.64,451.36 415.94,447.04 416.24,450.05 416.54,448.36 416.84,445 417.14,442.78 417.44,447.48 417.74,450.43 418.04,450.63 418.35,447.42 418.65,453.28 418.95,451.5 419.25,450.65 419.55,452.24 419.85,451.73 420.15,453.48 420.45,452.59 420.75,456.16 421.05,456.65 421.35,450.43 421.65,453.33 421.95,455.82 422.25,451.17 422.55,450.02 422.86,449.02 423.16,448.23 423.46,449.39 423.76,455.61 424.06,449.52 424.36,457.96 424.66,460.47 424.96,465.09 425.26,459.93 425.56,462.59 425.86,468.64 426.16,470.57 426.46,473.73 426.76,477.04 427.07,484.42 427.37,481.01 427.67,471.04 427.97,473.46 428.27,474.28 428.57,470.32 428.87,475.13 429.17,470.18 429.47,471.11 429.77,474.5 430.07,473.66 430.37,470.52 430.67,472.48 430.97,471.15 431.27,474.45 431.58,472.47 431.88,465.79 432.18,466.2 432.48,467.31 432.78,462.4 433.08,463.06 433.38,463.8 433.68,464.79 433.98,463.02 434.28,464.42 434.58,466.51 434.88,463.57 435.18,466.3 435.48,463.26 435.78,465.04 436.09,459.66 436.39,459.31 436.69,454.82 436.99,457.41 437.29,454.18 437.59,454.89 437.89,454.97 438.19,450.12 438.49,456.64 438.79,460.66 439.09,461.37 439.39,463.9 439.69,461.5 439.99,465.27 440.3,463.13 440.6,461.03 440.9,468.73 441.2,464.44 441.5,469.84 441.8,467.16 442.1,462.19 442.4,463.74 442.7,465.99 443,472.93 443.3,474.08 443.6,474.54 443.9,473.12 444.2,472.25 444.5,469.91 444.81,470.15 445.11,474.13 445.41,473.32 445.71,471.72 446.01,472.94 446.31,474.23 446.61,471.78 446.91,469.32 447.21,470.47 447.51,471.37 447.81,473.27 448.11,474.91 448.41,472.66 448.71,476.9 449.01,479.48 449.32,477.18 449.62,474.95 449.92,478.02 450.22,481.66 450.52,484.72 450.82,482.9 451.12,480.48 451.42,480.27 451.72,486.62 452.02,488.44 452.32,489.35 452.62,487.55 452.92,490.65 453.22,488.98 453.52,495.94 453.83,492.9 454.13,488.75 454.43,488.13 454.73,487.53 455.03,487.61 455.33,484.27 455.63,486.14 455.93,490.25 456.23,485.18 456.53,485.17 456.83,488.25 457.13,485.94 457.43,486.96 457.73,484.12 458.04,479.11 458.34,480.6 458.64,480.03 458.94,477.23 459.24,472.69 459.54,474.41 459.84,470.45 460.14,468.77 460.44,468.48 460.74,470.06 461.04,470.66 461.34,469.44 461.64,474.58 461.94,476.64 462.24,476.98 462.55,480.06 462.85,485.22 463.15,486.99 463.45,490 463.75,488.48 464.05,490.97 464.35,488.09 464.65,487.07 464.95,482.44 465.25,481.26 465.55,480.5 465.85,482.51 466.15,477.6 466.45,472.21 466.75,471.28 467.06,476.79 467.36,467.67 467.66,469.52 467.96,468.78 468.26,468.14 468.56,469.71 468.86,466.69 469.16,469 469.46,466.56 469.76,465.64 470.06,464.54 470.36,462.05 470.66,465.17 470.96,463.53 471.27,461.41 471.57,462.85 471.87,467.87 472.17,468.81 472.47,473.33 472.77,475.36 473.07,471.66 473.37,471.04 473.67,471.75 473.97,479.56 474.27,476.45 474.57,477.03 474.87,481.28 475.17,484.65 475.47,482.57 475.78,486.69 476.08,485.18 476.38,490.67 476.68,491.34 476.98,490.02 477.28,490.36 477.58,496.04 477.88,491.82 478.18,485.02 478.48,482.63 478.78,482.36 479.08,479.13 479.38,475.1 479.68,471.92 479.98,467.49 480.29,465.45 480.59,463.73 480.89,466.86 481.19,466.4 481.49,466.02 481.79,468.31 482.09,467.64 482.39,465.4 482.69,469.96 482.99,469.56 483.29,470.77 483.59,473.7 483.89,472.22 484.19,470.76 484.49,473.48 484.8,472.28 485.1,467.25 485.4,464.71 485.7,468.74 486,464.98 486.3,466.89 486.6,459.67 486.9,462.73 487.2,459.46 487.5,456.95 487.8,462.68 488.1,464.75 488.4,466.74 488.7,468.66 489.01,470.42 489.31,471.47 489.61,470.63 489.91,471.89 490.21,478.85 490.51,476.39 490.8,477.11 491.1,475.57 491.4,477.86" fill="none" stroke="#6420fd" stroke-width="2.0" stroke-linejoin="round" clip-path="url(#ca12)"/>
<polyline points="357.7,443.19 357.97,444.35 358.26,438.82 358.56,444.16 358.85,449.57 359.15,447.72 359.45,451.76 359.74,454.18 360.04,460.06 360.33,460.39 360.63,462.38 360.92,465.05 361.22,466.53 361.52,470.83 361.82,468.25 362.12,466.5 362.42,463.35 362.72,464.35 363.02,459.32 363.32,459.48 363.62,458.73 363.92,457.78 364.22,455.28 364.52,456.41 364.82,451.59 365.13,451.62 365.43,451.37 365.73,448.86 366.03,447.34 366.33,451.14 366.63,452.85 366.93,448.21 367.23,449.83 367.53,448.38 367.83,452.99 368.13,447.02 368.43,445.07 368.73,447.42 369.03,448.45 369.33,448.14 369.64,454.5 369.94,454.38 370.24,453.86 370.54,451.35 370.84,456.74 371.14,455 371.44,450.13 371.74,448.83 372.04,450.82 372.34,455.69 372.64,453.37 372.94,446.94 373.24,444.97 373.54,441.76 373.84,437.04 374.15,441.36 374.45,442.65 374.75,441.66 375.05,436.5 375.35,437.04 375.65,434.5 375.95,430.93 376.25,426.81 376.55,427.45 376.85,426.27 377.15,431.28 377.45,430.76 377.75,429.3 378.05,430.45 378.36,433.96 378.66,440.64 378.96,439.48 379.26,439.66 379.56,441.03 379.86,440.93 380.16,447.38 380.46,449.88 380.76,453.6 381.06,452.88 381.36,455.63 381.66,460.25 381.96,456.52 382.26,457.07 382.56,458.34 382.87,456.68 383.17,459.36 383.47,456.81 383.77,458.27 384.07,455.3 384.37,452.08 384.67,449.46 384.97,446.78 385.27,446.74 385.57,446.95 385.87,449.19 386.17,451.76 386.47,452.91 386.77,451.37 387.07,455.32 387.38,451.1 387.68,449.6 387.98,452.96 388.28,452.23 388.58,452.51 388.88,450.42 389.18,447.5 389.48,448.06 389.78,451.88 390.08,444.4 390.38,445.01 390.68,439.22 390.98,436.25 391.28,438.97 391.58,433.3 391.89,433.23 392.19,434.97 392.49,437.89 392.79,432.7 393.09,430.61 393.39,432.92 393.69,430.09 393.99,435.72 394.29,435.85 394.59,437.03 394.89,438.62 395.19,439.57 395.49,440.49 395.79,439.48 396.1,443.04 396.4,445.43 396.7,450.1 397,444.13 397.3,451.49 397.6,448.1 397.9,454.12 398.2,449.84 398.5,449.73 398.8,456.64 399.1,461.42 399.4,463.66 399.7,467.44 400,466.96 400.3,462.12 400.61,463.13 400.91,462.37 401.21,462.55 401.51,462.32 401.81,459.35 402.11,461.38 402.41,457.28 402.71,449.91 403.01,452.09 403.31,451.02 403.61,455.65 403.91,454.32 404.21,456.24 404.51,450.8 404.81,453.68 405.12,445.08 405.42,447.07 405.72,446.74 406.02,443.84 406.32,438.79 406.62,445.31 406.92,440.42 407.22,438.93 407.52,437.25 407.82,438.25 408.12,432.68 408.42,437.14 408.72,437.62 409.02,438.15 409.33,441.99 409.63,443.64 409.93,446.23 410.23,446.24 410.53,448.07 410.83,445.61 411.13,446.16 411.43,454.76 411.73,457.34 412.03,452.7 412.33,458.23 412.63,457.93 412.93,464.21 413.23,463.57 413.53,464.12 413.84,463.87 414.14,463.1 414.44,466.74 414.74,466.06 415.04,467.02 415.34,468.94 415.64,470.69 415.94,467.48 416.24,466.79 416.54,462.67 416.84,458.25 417.14,461.47 417.44,454.23 417.74,456.11 418.04,454.93 418.35,455.93 418.65,452.97 418.95,450.03 419.25,449.46 419.55,451.23 419.85,447.57 420.15,443.42 420.45,443.14 420.75,444.35 421.05,443.91 421.35,447.06 421.65,441.57 421.95,443.15 422.25,440.71 422.55,447.34 422.86,448.36 423.16,451.49 423.46,450.12 423.76,454.97 424.06,452.97 424.36,453.43 424.66,450.13 424.96,451.62 425.26,452.67 425.56,450.43 425.86,449.87 426.16,445.24 426.46,448.42 426.76,444.41 427.07,443.97 427.37,440.16 427.67,435.36 427.97,433.44 428.27,439.39 428.57,435.64 428.87,430.24 429.17,435.23 429.47,437.04 429.77,438.29 430.07,441.2 430.37,441.45 430.67,439.49 430.97,443.18 431.27,444.98 431.58,444.62 431.88,445.18 432.18,448.77 432.48,444.88 432.78,451.04 433.08,452.52 433.38,458.48 433.68,458.62 433.98,455.81 434.28,462.33 434.58,462.32 434.88,463.26 435.18,462.36 435.48,457.17 435.78,454.07 436.09,452.8 436.39,448.75 436.69,445.45 436.99,445.35 437.29,443.1 437.59,447.81 437.89,446.53 438.19,448.75 438.49,446.48 438.79,439.32 439.09,435.34 439.39,438.13 439.69,444.23 439.99,441.41 440.3,434.24 440.6,436.5 440.9,433.02 441.2,434.27 441.5,439.3 441.8,441.69 442.1,442.24 442.4,446.69 442.7,448.05 443,445.68 443.3,447.3 443.6,450.26 443.9,452.29 444.2,451.9 444.5,450.21 444.81,449.59 445.11,453.18 445.41,455.88 445.71,456.62 446.01,458.59 446.31,458.72 446.61,460.56 446.91,465.9 447.21,462.69 447.51,459.19 447.81,450.32 448.11,450.1 448.41,454.81 448.71,448.16 449.01,441.6 449.32,441.46 449.62,438.42 449.92,437.81 450.22,435.08 450.52,434.07 450.82,433.98 451.12,433.74 451.42,430.59 451.72,434.02 452.02,431.77 452.32,430.66 452.62,430.74 452.92,429.11 453.22,424.74 453.52,427.79 453.83,428.56 454.13,426.23 454.43,427.88 454.73,428.28 455.03,435.35 455.33,439.36 455.63,437.42 455.93,437.26 456.23,439.6 456.53,440.96 456.83,447.89 457.13,444.84 457.43,444.04 457.73,441.65 458.04,442.64 458.34,444.81 458.64,442.81 458.94,439.36 459.24,444.37 459.54,441.85 459.84,441.59 460.14,442.73 460.44,440.54 460.74,440.37 461.04,443.87 461.34,446.5 461.64,445.96 461.94,444.29 462.24,448.33 462.55,446.33 462.85,449.71 463.15,452.95 463.45,454.87 463.75,454.83 464.05,454.91 464.35,452.4 464.65,450.43 464.95,449.21 465.25,448.85 465.55,440.45 465.85,436.28 466.15,437.7 466.45,438.17 466.75,433.13 467.06,440.04 467.36,437.58 467.66,440.85 467.96,443.04 468.26,446.1 468.56,448.5 468.86,450.52 469.16,458.6 469.46,459.79 469.76,460.25 470.06,455.95 470.36,456.75 470.66,457.85 470.96,453 471.27,450.05 471.57,449.59 471.87,446.9 472.17,444.47 472.47,441.87 472.77,440.63 473.07,437.85 473.37,441.36 473.67,446.6 473.97,450.06 474.27,447.24 474.57,450.55 474.87,445.49 475.17,449.81 475.47,444.01 475.78,451.77 476.08,449.98 476.38,451.54 476.68,452.87 476.98,447.49 477.28,447.11 477.58,444.34 477.88,449.79 478.18,449.6 478.48,444.84 478.78,446.53 479.08,443.04 479.38,440.66 479.68,437.37 479.98,438.69 480.29,439.17 480.59,439.57 480.89,437.24 481.19,434.14 481.49,434.32 481.79,433.91 482.09,431.63 482.39,432.93 482.69,434.05 482.99,432.66 483.29,433.42 483.59,431.03 483.89,428.34 484.19,429.56 484.49,429.77 484.8,430.82 485.1,430.3 485.4,430.3 485.7,429.7 486,428.97 486.3,430.77 486.6,429.54 486.9,431.57 487.2,435.51 487.5,434.11 487.8,434.91 488.1,431.42 488.4,432.14 488.7,429.95 489.01,428.17 489.31,430.06 489.61,430.01 489.91,426.7 490.21,431.14 490.51,431.77 490.8,434.32 491.1,432.2 491.4,430.85" fill="none" stroke="#2edb48" stroke-width="2.0" stroke-linejoin="round" clip-path="url(#ca12)"/>
<polyline points="357.7,440.41 357.97,443.34 358.26,447.68 358.56,449.46 358.85,453.02 359.15,452.99 359.45,453.48 359.74,455.6 360.04,455.67 360.33,455.43 360.63,457.99 360.92,460.31 361.22,461.39 361.52,457.92 361.82,455.53 362.12,454.62 362.42,458.32 362.72,462.13 363.02,463.25 363.32,465.31 363.62,466.6 363.92,463.73 364.22,460.36 364.52,463.45 364.82,464.39 365.13,469.65 365.43,466.8 365.73,470.33 366.03,473.52 366.33,471.81 366.63,472.8 366.93,476.7 367.23,481.11 367.53,478.86 367.83,474.87 368.13,471.86 368.43,472.62 368.73,469.91 369.03,465.13 369.33,468.05 369.64,462.87 369.94,458.55 370.24,456.77 370.54,456.78 370.84,457.05 371.14,458.94 371.44,462.78 371.74,462.27 372.04,462.95 372.34,465.74 372.64,466.94 372.94,468.75 373.24,466.28 373.54,466.02 373.84,466.65 374.15,471.05 374.45,467.07 374.75,469.08 375.05,464.79 375.35,464.66 375.65,466.83 375.95,463.41 376.25,462.31 376.55,464.62 376.85,460.81 377.15,464.21 377.45,463.69 377.75,463.04 378.05,460.72 378.36,460.45 378.66,464.72 378.96,467.19 379.26,465.56 379.56,469.76 379.86,470.63 380.16,472.88 380.46,474.09 380.76,479.58 381.06,473.31 381.36,473.27 381.66,476.09 381.96,474.07 382.26,468.92 382.56,466.62 382.87,468.11 383.17,466.4 383.47,463.15 383.77,462.65 384.07,460.6 384.37,457.25 384.67,460.71 384.97,463.24 385.27,468.87 385.57,469.36 385.87,469.32 386.17,475.41 386.47,482.29 386.77,486.44 387.07,488.84 387.38,493.57 387.68,492.3 387.98,485.02 388.28,482.22 388.58,481.75 388.88,477.9 389.18,469.31 389.48,469.56 389.78,461.59 390.08,453.82 390.38,456.23 390.68,460.61 390.98,459.97 391.28,461.7 391.58,463.79 391.89,462.68 392.19,459.33 392.49,455.62 392.79,459.82 393.09,462.6 393.39,466.44 393.69,464.66 393.99,470.61 394.29,466.1 394.59,472.28 394.89,470.83 395.19,478.12 395.49,477.87 395.79,476.66 396.1,483.64 396.4,483.53 396.7,490.51 397,484.19 397.3,486.8 397.6,481.92 397.9,479.28 398.2,482.88 398.5,473.23 398.8,475.22 399.1,469.25 399.4,466.88 399.7,465.45 400,458.21 400.3,456.31 400.61,454.13 400.91,449.32 401.21,447.67 401.51,440.43 401.81,434.54 402.11,444.45 402.41,439.63 402.71,442.68 403.01,448.03 403.31,452.53 403.61,452.5 403.91,454 404.21,454.73 404.51,458.36 404.81,462.34 405.12,461.18 405.42,465.56 405.72,466.81 406.02,461.09 406.32,455.26 406.62,457.98 406.92,464.59 407.22,460.38 407.52,459.18 407.82,459.43 408.12,458.26 408.42,457.91 408.72,458.17 409.02,457.37 409.33,457.99 409.63,458.43 409.93,459.75 410.23,459.48 410.53,457.39 410.83,456.38 411.13,457.96 411.43,462.71 411.73,467.46 412.03,462.35 412.33,464.72 412.63,461.07 412.93,463.91 413.23,458.15 413.53,456.41 413.84,458.4 414.14,458.97 414.44,458.31 414.74,458.87 415.04,456.93 415.34,458.85 415.64,459.34 415.94,465.42 416.24,466.12 416.54,470.48 416.84,471.81 417.14,474.71 417.44,476.86 417.74,482.03 418.04,485.34 418.35,487.27 418.65,489.14 418.95,492.25 419.25,492.23 419.55,486.76 419.85,481.76 420.15,474.64 420.45,474.98 420.75,470.3 421.05,466.77 421.35,464.26 421.65,457.42 421.95,453.66 422.25,448.8 422.55,441.48 422.86,444.69 423.16,449.87 423.46,451.84 423.76,446.48 424.06,448.82 424.36,448.78 424.66,448.18 424.96,456.15 425.26,454.05 425.56,456.49 425.86,456.92 426.16,460.41 426.46,461.54 426.76,461.38 427.07,463.06 427.37,457.74 427.67,461.2 427.97,467.58 428.27,468.49 428.57,462.89 428.87,472.14 429.17,466.32 429.47,468.56 429.77,468.5 430.07,472.57 430.37,468.58 430.67,472.31 430.97,475.78 431.27,474.95 431.58,476.74 431.88,473.6 432.18,474.08 432.48,473.61 432.78,478.08 433.08,481.83 433.38,482.21 433.68,479.28 433.98,476.01 434.28,470.81 434.58,466.55 434.88,466.9 435.18,464.95 435.48,461.72 435.78,461.17 436.09,458.22 436.39,457.45 436.69,454.82 436.99,455.24 437.29,456.14 437.59,452.82 437.89,455.6 438.19,454.08 438.49,449.24 438.79,449.29 439.09,448.86 439.39,444.22 439.69,448.83 439.99,443.01 440.3,441.41 440.6,444.69 440.9,445.27 441.2,451.73 441.5,455.75 441.8,458.37 442.1,464.36 442.4,468.78 442.7,477.73 443,475.71 443.3,481.64 443.6,484.38 443.9,487.91 444.2,490.7 444.5,490.42 444.81,486.8 445.11,488.66 445.41,485.63 445.71,483.83 446.01,480.76 446.31,475.18 446.61,477.73 446.91,476.76 447.21,473.45 447.51,470.54 447.81,466.16 448.11,464.23 448.41,463.49 448.71,459.19 449.01,456.75 449.32,454.72 449.62,456.87 449.92,452.1 450.22,450.41 450.52,451.43 450.82,449.99 451.12,445.11 451.42,439.66 451.72,445.23 452.02,447.07 452.32,450.19 452.62,447.99 452.92,448.98 453.22,454.12 453.52,454.55 453.83,456.45 454.13,460.2 454.43,463.27 454.73,463.58 455.03,467.31 455.33,465.46 455.63,466.93 455.93,465.41 456.23,465.3 456.53,469.66 456.83,476.12 457.13,472.86 457.43,470.24 457.73,477.61 458.04,475.77 458.34,481.03 458.64,483.04 458.94,478.17 459.24,474.92 459.54,471.46 459.84,468.79 460.14,468.34 460.44,471.82 460.74,465.46 461.04,457.89 461.34,457.74 461.64,455.88 461.94,455.36 462.24,456.02 462.55,456.7 462.85,450.99 463.15,454.37 463.45,458.18 463.75,460.33 464.05,464.39 464.35,462.19 464.65,461.8 464.95,463.02 465.25,462.1 465.55,465.47 465.85,466.34 466.15,469.03 466.45,468.25 466.75,463.89 467.06,463.98 467.36,467.02 467.66,462.73 467.96,464.1 468.26,462.53 468.56,462.69 468.86,464.65 469.16,466.08 469.46,462.75 469.76,465.84 470.06,468.5 470.36,465.54 470.66,464.14 470.96,463.01 471.27,468.06 471.57,466.53 471.87,465.52 472.17,469.46 472.47,472.07 472.77,472.51 473.07,472.95 473.37,473.66 473.67,473.15 473.97,467.09 474.27,463.4 474.57,463.32 474.87,461.51 475.17,459.25 475.47,457.49 475.78,454.28 476.08,459.63 476.38,457.18 476.68,459.28 476.98,456.62 477.28,460.08 477.58,456.25 477.88,452.91 478.18,454.47 478.48,452.67 478.78,453.28 479.08,457.03 479.38,456.89 479.68,454.71 479.98,455.47 480.29,457.28 480.59,454.75 480.89,457.81 481.19,456.67 481.49,455.75 481.79,458.09 482.09,453.59 482.39,447.65 482.69,449.66 482.99,451.25 483.29,458.45 483.59,452.47 483.89,457.32 484.19,456 484.49,454.89 484.8,458.6 485.1,459.8 485.4,460.81 485.7,459.84 486,457.53 486.3,454.3 486.6,458.26 486.9,459.85 487.2,457.93 487.5,468.59 487.8,465.28 488.1,460.23 488.4,457.16 488.7,456.86 489.01,457.49 489.31,455.33 489.61,457.18 489.91,456.07 490.21,453.04 490.51,452.25 490.8,453.49 491.1,448.16 491.4,449" fill="none" stroke="#64d9fb" stroke-width="2.0" stroke-linejoin="round" clip-path="url(#ca12)"/>
<polyline points="499.65,451.78 499.97,451.76 500.26,447.96 500.56,444.23 500.85,446.91 501.14,440.68 501.43,438.02 501.73,432.93 502.02,432.9 502.31,428.99 502.61,426.67 502.92,425.28 503.22,419.07 503.52,422.19 503.82,423 504.12,425.49 504.42,427.5 504.72,429.71 505.02,436.73 505.32,439.35 505.62,441.1 505.92,445.72 506.22,444.98 506.52,450.74 506.82,455.44 507.13,459.44 507.43,457.96 507.73,450.69 508.03,450.59 508.33,448.14 508.63,447.32 508.93,449.26 509.23,443.6 509.53,447.4 509.83,448.2 510.13,447.13 510.43,448.93 510.73,451.28 511.03,453.1 511.33,453.57 511.64,453.77 511.94,456.83 512.24,459.79 512.54,466.02 512.84,461.31 513.14,465.12 513.44,467.98 513.74,466.45 514.04,471.36 514.34,469.16 514.64,470.82 514.94,473.3 515.24,480.14 515.54,479.1 515.84,479.48 516.15,484.25 516.45,483.46 516.75,474.37 517.05,473.75 517.35,471.61 517.65,470.01 517.95,473.07 518.25,472.33 518.55,472.91 518.85,468.81 519.15,463.61 519.45,466.76 519.75,470.36 520.05,465.54 520.36,465.54 520.66,466.15 520.96,466.73 521.26,471.28 521.56,470.77 521.86,478.42 522.16,485.77 522.46,486.74 522.76,489.91 523.06,492.73 523.36,488.05 523.66,484.63 523.96,482.57 524.26,480.36 524.56,472.49 524.87,470.4 525.17,470 525.47,458.45 525.77,460.77 526.07,461.7 526.37,465.1 526.67,464.91 526.97,459.02 527.27,461.35 527.57,468.02 527.87,466.98 528.17,467.64 528.47,463.34 528.77,462.42 529.07,464.68 529.38,468.08 529.68,467.76 529.98,465.5 530.28,463.88 530.58,456.92 530.88,452.15 531.18,451.87 531.48,450.34 531.78,449.39 532.08,445.42 532.38,450.29 532.68,448.66 532.98,448.53 533.28,444.32 533.58,446.49 533.89,451.73 534.19,453.91 534.49,457.71 534.79,456.56 535.09,461.06 535.39,457.29 535.69,451.97 535.99,459.85 536.29,462.64 536.59,467.11 536.89,468.66 537.19,473.77 537.49,475.1 537.79,476.31 538.1,476.97 538.4,474.11 538.7,477.33 539,481.61 539.3,485.26 539.6,480.52 539.9,481.16 540.2,481.44 540.5,486.2 540.8,488.15 541.1,487.53 541.4,491.03 541.7,489.5 542,493.17 542.3,485.67 542.61,490.63 542.91,491.72 543.21,491.2 543.51,490.51 543.81,489.63 544.11,486.08 544.41,482.26 544.71,479.21 545.01,478.9 545.31,479.26 545.61,477.56 545.91,479.45 546.21,482.01 546.51,477.39 546.81,472.99 547.12,471.88 547.42,468.36 547.72,472.1 548.02,472.02 548.32,470.67 548.62,464.44 548.92,464.89 549.22,463.36 549.52,466.12 549.82,462.32 550.12,468.35 550.42,466.28 550.72,467.58 551.02,466.62 551.33,469.67 551.63,469.24 551.93,471.12 552.23,474.68 552.53,473.14 552.83,472.43 553.13,475.47 553.43,476.34 553.73,479.36 554.03,473.12 554.33,473.35 554.63,469.33 554.93,470.93 555.23,467.56 555.53,461.94 555.84,463.44 556.14,463.1 556.44,460.72 556.74,455.29 557.04,452.92 557.34,453.41 557.64,459.29 557.94,458.66 558.24,461.38 558.54,467.84 558.84,475.45 559.14,480.23 559.44,485.83 559.74,485.34 560.04,486.77 560.35,489.62 560.65,489.4 560.95,495.01 561.25,493.59 561.55,494.67 561.85,487.61 562.15,486.84 562.45,486.46 562.75,484.42 563.05,481.99 563.35,480.65 563.65,477.03 563.95,478.23 564.25,476.49 564.55,476.17 564.86,473.56 565.16,470.26 565.46,468.19 565.76,466.02 566.06,465.16 566.36,467.02 566.66,463.02 566.96,459.78 567.26,456.67 567.56,457.26 567.86,451.02 568.16,457.46 568.46,460.51 568.76,459.26 569.07,463.74 569.37,464.24 569.67,466.84 569.97,470.67 570.27,466.5 570.57,472.08 570.87,470.86 571.17,470.76 571.47,475.15 571.77,475.19 572.07,479.9 572.37,478.14 572.67,479.49 572.97,478.36 573.27,477.55 573.58,476.52 573.88,476.69 574.18,480.7 574.48,481.23 574.78,477.25 575.08,478.93 575.38,484.44 575.68,482.74 575.98,480.3 576.28,481.84 576.58,478.69 576.88,473.07 577.18,472.78 577.48,474.47 577.78,472.62 578.09,474.64 578.39,468.71 578.69,467.86 578.99,468.2 579.29,465.5 579.59,460.29 579.89,462.87 580.19,463.11 580.49,463.79 580.79,466.05 581.09,471.31 581.39,470.53 581.69,475.47 581.99,473.74 582.3,475.71 582.6,477.28 582.9,477.51 583.2,467.98 583.5,469.57 583.8,463.98 584.1,461.56 584.4,457.94 584.7,452.09 585,447.11 585.3,451.09 585.6,452.16 585.9,452.48 586.2,457.69 586.5,455.85 586.81,460.82 587.11,461.64 587.41,467.79 587.71,465.46 588.01,465.17 588.31,469.71 588.61,469.77 588.91,471.71 589.21,466.49 589.51,472.1 589.81,473.41 590.11,470.8 590.41,476.3 590.71,479.93 591.01,478.16 591.32,483.26 591.62,478.55 591.92,479.02 592.22,478.45 592.52,479.01 592.82,479.42 593.12,473.71 593.42,469.51 593.72,469.39 594.02,469.29 594.32,467.95 594.62,462.26 594.92,462.09 595.22,463.7 595.52,461.76 595.83,466.14 596.13,465.68 596.43,465.83 596.73,462.51 597.03,461.34 597.33,469.42 597.63,471.55 597.93,466.13 598.23,468.82 598.53,469.85 598.83,475.46 599.13,474.04 599.43,475.73 599.73,475.07 600.04,483.12 600.34,484.66 600.64,486.83 600.94,485.49 601.24,483.95 601.54,487.9 601.84,490.62 602.14,492.71 602.44,493.76 602.74,489.9 603.04,492.58 603.34,489.78 603.64,489.88 603.94,490.32 604.24,485.75 604.55,481.3 604.85,475.41 605.15,472.56 605.45,474.21 605.75,470.98 606.05,467.42 606.35,467.53 606.65,472.78 606.95,473.35 607.25,479.75 607.55,477.47 607.85,475.64 608.15,476.38 608.45,478.49 608.75,478.53 609.06,480.72 609.36,481.95 609.66,479.44 609.96,479.7 610.26,480.47 610.56,479.83 610.86,478.56 611.16,477.67 611.46,476.02 611.76,477.88 612.06,479.11 612.36,478.39 612.66,476.79 612.96,473.89 613.27,476.24 613.57,475.03 613.87,475.96 614.17,473.78 614.47,474.75 614.77,473.43 615.07,470.04 615.37,470.29 615.67,472.82 615.97,472.28 616.27,465.42 616.57,466.99 616.87,465.85 617.17,466.69 617.47,469.89 617.78,470.69 618.08,470.5 618.38,468.63 618.68,474.11 618.98,469.59 619.28,468.46 619.58,470.82 619.88,470.2 620.18,480.28 620.48,483.36 620.78,473.69 621.08,470.75 621.38,467.59 621.68,469.11 621.98,467.97 622.29,462.72 622.59,458.57 622.89,461.32 623.19,459.16 623.49,454.67 623.79,453.52 624.09,453.48 624.39,454.16 624.69,448.21 624.99,449.5 625.29,445.1 625.59,441.3 625.89,441.74 626.19,437.67 626.49,434.48 626.8,437.77 627.1,437.53 627.4,438.89 627.7,442.89 628,442.82 628.3,442.26 628.6,441.88 628.9,446.44 629.2,447.17 629.5,449.21 629.8,450.31 630.1,453.37 630.4,455.29 630.7,455.69 631.01,460.19 631.31,464.44 631.61,465.32 631.91,469.41 632.21,472.7 632.49,478.47 632.78,475.28 633.06,475.79 633.35,478.31" fill="none" stroke="#6420fd" stroke-width="2.0" stroke-linejoin="round" clip-path="url(#ca13)"/>
<polyline points="499.65,438.79 499.97,441.88 500.26,433.99 500.55,429.85 500.83,428.47 501.12,417.24 501.41,413.82 501.71,412.12 502.01,412.6 502.31,413.83 502.61,419.4 502.92,410.5 503.22,410.4 503.52,411.66 503.82,417.79 504.12,417.42 504.42,418.32 504.72,421.06 505.02,429.27 505.32,436.54 505.62,438.54 505.92,442.46 506.22,441.43 506.52,447.51 506.82,449.66 507.13,447.2 507.43,448.29 507.73,447.32 508.03,453.43 508.33,455.87 508.63,458.38 508.93,458.05 509.23,459.59 509.53,454.26 509.83,453.5 510.13,453.48 510.43,451.56 510.73,452.66 511.03,448.69 511.33,446.51 511.64,443.59 511.94,441.02 512.24,438.72 512.54,450.76 512.84,452.41 513.14,447.5 513.44,451.88 513.74,450.48 514.04,455.28 514.34,457.03 514.64,453.84 514.94,454.61 515.24,456.34 515.54,457.79 515.84,460.7 516.15,456.69 516.45,457.14 516.75,453.03 517.05,452.64 517.35,454.61 517.65,454.38 517.95,454.14 518.25,446.18 518.55,445.86 518.85,450.31 519.15,448.32 519.45,449.06 519.75,453.51 520.05,449.82 520.36,447.01 520.66,443.95 520.96,440.81 521.26,445.59 521.56,442.42 521.86,442.56 522.16,435.36 522.46,440.93 522.76,436.14 523.06,431.42 523.36,431.93 523.66,431.52 523.96,429.92 524.26,430.16 524.56,433.62 524.87,437.07 525.17,437.88 525.47,441.92 525.77,442.54 526.07,442.64 526.37,447.65 526.67,448.79 526.97,452.54 527.27,452.45 527.57,442.55 527.87,440.55 528.17,446.73 528.47,442.3 528.77,441.08 529.07,443.7 529.38,445.5 529.68,445.79 529.98,443.08 530.28,447.45 530.58,451.67 530.88,451.78 531.18,447.5 531.48,452.22 531.78,454.15 532.08,455.42 532.38,456.99 532.68,461.2 532.98,457.55 533.28,457.31 533.58,452.29 533.89,450.92 534.19,452.61 534.49,453.61 534.79,450.6 535.09,447.4 535.39,447.54 535.69,441.81 535.99,440.17 536.29,435.53 536.59,435.32 536.89,438.17 537.19,440.16 537.49,441.41 537.79,447.13 538.1,448.8 538.4,451.49 538.7,455.01 539,455.26 539.3,458.12 539.6,460.75 539.9,464.75 540.2,470.13 540.5,468.68 540.8,475.63 541.1,475.02 541.4,475.9 541.7,478.53 542,478.56 542.3,483.27 542.61,481.47 542.91,484.82 543.21,479.05 543.51,472.74 543.81,473.51 544.11,468.75 544.41,468.56 544.71,468.55 545.01,466.04 545.31,460.81 545.61,462.36 545.91,456.81 546.21,457.18 546.51,448.96 546.81,446.82 547.12,453.41 547.42,450.67 547.72,453.94 548.02,458.08 548.32,459.2 548.62,457.02 548.92,460.63 549.22,462.6 549.52,463.16 549.82,463.38 550.12,465.45 550.42,463.15 550.72,459.95 551.02,457.94 551.33,461.12 551.63,458.9 551.93,456.09 552.23,451.9 552.53,449.35 552.83,449.48 553.13,446.69 553.43,439.81 553.73,442.18 554.03,443.66 554.33,446.04 554.63,451.83 554.93,453.87 555.23,453.55 555.53,455.19 555.84,455.02 556.14,457.23 556.44,463.17 556.74,466.03 557.04,467.43 557.34,468.78 557.64,469.67 557.94,470.68 558.24,474.42 558.54,470.03 558.84,467.6 559.14,466.88 559.44,470.4 559.74,471.54 560.04,478.25 560.35,475.87 560.65,474.55 560.95,474.64 561.25,475.74 561.55,472.99 561.85,469.62 562.15,466.65 562.45,465.14 562.75,467.78 563.05,462.84 563.35,463.7 563.65,457.72 563.95,458.26 564.25,451.11 564.55,454.35 564.86,450.6 565.16,446.76 565.46,444.88 565.76,440.04 566.06,434.46 566.36,431.75 566.66,430.03 566.96,437.54 567.26,434.59 567.56,433.54 567.86,433.81 568.16,431.63 568.46,433.45 568.76,433.88 569.07,431.78 569.37,430.11 569.67,437.16 569.97,437.15 570.27,440.32 570.57,442.22 570.87,445.59 571.17,439.83 571.47,443.36 571.77,451.69 572.07,445.72 572.37,446.5 572.67,451.35 572.97,452.52 573.27,451.51 573.58,447.72 573.88,452.49 574.18,447.31 574.48,446.93 574.78,453.4 575.08,456.85 575.38,452.43 575.68,455.22 575.98,460.54 576.28,459.02 576.58,456.4 576.88,460.58 577.18,464.24 577.48,459.65 577.78,456.66 578.09,456.02 578.39,450.28 578.69,449.98 578.99,449.84 579.29,444.74 579.59,442.73 579.89,438.69 580.19,441.06 580.49,448.33 580.79,449.23 581.09,447.35 581.39,448.43 581.69,454.49 581.99,454.9 582.3,454.84 582.6,460.54 582.9,457.66 583.2,450.11 583.5,449.77 583.8,445.53 584.1,446.32 584.4,439.85 584.7,438.61 585,439.6 585.3,444.95 585.6,444.68 585.9,447.82 586.2,448.54 586.5,446.95 586.81,446.1 587.11,449.96 587.41,447.5 587.71,451.89 588.01,455.87 588.31,456.8 588.61,460.67 588.91,456.93 589.21,461.17 589.51,462.69 589.81,470.42 590.11,473.52 590.41,474.26 590.71,480.51 591.01,480.12 591.32,483.77 591.62,486.76 591.92,479.48 592.22,471.44 592.52,468.58 592.82,464.88 593.12,463.5 593.42,459.41 593.72,455.52 594.02,450.34 594.32,445.45 594.62,444.25 594.92,444.21 595.22,446.87 595.52,450.67 595.83,452.02 596.13,451.44 596.43,452.35 596.73,454.71 597.03,453.02 597.33,459.46 597.63,460.35 597.93,464.22 598.23,466.49 598.53,470.77 598.83,467.04 599.13,470.2 599.43,470.13 599.73,473.32 600.04,475.62 600.34,478.33 600.64,476.71 600.94,480.33 601.24,480.78 601.54,482.89 601.84,480.63 602.14,478.38 602.44,482.12 602.74,484.34 603.04,478.6 603.34,478.93 603.64,474.12 603.94,473.67 604.24,475.35 604.55,475.23 604.85,471.72 605.15,471.19 605.45,468.6 605.75,470.31 606.05,469.74 606.35,468.35 606.65,471.16 606.95,470.09 607.25,465.52 607.55,469.1 607.85,467.04 608.15,468.19 608.45,467.7 608.75,469.79 609.06,473.26 609.36,469.98 609.66,468.94 609.96,468.12 610.26,462.67 610.56,466.17 610.86,466.38 611.16,463.73 611.46,463.09 611.76,456.05 612.06,452.36 612.36,453.18 612.66,450.5 612.96,452.25 613.27,446.33 613.57,448.1 613.87,444.99 614.17,445.59 614.47,441.44 614.77,437.09 615.07,430.12 615.37,432.74 615.67,440.66 615.97,442.01 616.27,444.22 616.57,448.27 616.87,447.92 617.17,451.69 617.47,454.55 617.78,451.14 618.08,450.14 618.38,454.96 618.68,463.86 618.98,467.45 619.28,470.31 619.58,480.26 619.88,486.66 620.18,489.99 620.48,494.8 620.78,492.15 621.08,492.98 621.38,486.85 621.68,483.29 621.98,480.45 622.29,476.99 622.59,471.47 622.89,472.44 623.19,472.06 623.49,467.15 623.79,464.17 624.09,463.16 624.39,460.64 624.69,463.1 624.99,466.19 625.29,467.1 625.59,463.33 625.89,457.09 626.19,458.08 626.49,456.86 626.8,455.31 627.1,453.55 627.4,453.72 627.7,457.7 628,460.65 628.3,459.6 628.6,456.18 628.9,454.59 629.2,455.54 629.5,454.06 629.8,458.44 630.1,454.25 630.4,453.11 630.7,458.51 631.01,455.14 631.31,452.5 631.61,452.5 631.91,454.6 632.21,451.08 632.49,447.63 632.78,449.16 633.06,449.54 633.35,454.76" fill="none" stroke="#2edb48" stroke-width="2.0" stroke-linejoin="round" clip-path="url(#ca13)"/>
<polyline points="499.65,470.93 499.97,468.05 500.26,467.63 500.56,469.39 500.85,473.46 501.15,475.65 501.45,476.42 501.74,478.02 502.04,478.71 502.33,479.96 502.63,479.59 502.92,480.97 503.22,481.06 503.52,478.23 503.82,480.14 504.12,474.63 504.42,473.36 504.72,467.54 505.02,467.26 505.32,459.95 505.62,462.68 505.92,460.88 506.22,458.19 506.52,458.13 506.82,455.71 507.13,460.52 507.43,460.33 507.73,460.16 508.03,464.21 508.33,468.93 508.63,468.04 508.93,468.59 509.23,470.83 509.53,470.09 509.83,475.13 510.13,475.44 510.43,477.24 510.73,476.44 511.03,470.63 511.33,472.98 511.64,474.47 511.94,466 512.24,457.98 512.54,459.09 512.84,457.01 513.14,453.28 513.44,451.21 513.74,448.43 514.04,450.4 514.34,449.83 514.64,454.7 514.94,450.52 515.24,449.18 515.54,449.18 515.84,449.1 516.15,457.04 516.45,453.94 516.75,454.03 517.05,457.15 517.35,455.09 517.65,454.23 517.95,451.9 518.25,444.32 518.55,447.95 518.85,446.13 519.15,442.31 519.45,437.4 519.75,443.06 520.05,436.27 520.36,430.21 520.66,434.59 520.96,437.13 521.26,436.74 521.56,436.59 521.86,436.63 522.16,436.41 522.46,439.4 522.76,439.35 523.06,441.96 523.36,443.74 523.66,444.44 523.96,452.56 524.26,449.65 524.56,452.83 524.87,452.65 525.17,455.61 525.47,459.23 525.77,461.52 526.07,462.42 526.37,463.06 526.67,474.63 526.97,470.48 527.27,465.52 527.57,464.9 527.87,462.12 528.17,468.64 528.47,465.44 528.77,464.03 529.07,465.03 529.38,460.49 529.68,462.25 529.98,459.75 530.28,459.99 530.58,460.71 530.88,461.4 531.18,463.93 531.48,460.21 531.78,465.01 532.08,463.19 532.38,466.1 532.68,466.62 532.98,467.33 533.28,470.71 533.58,471.27 533.89,468.73 534.19,471.6 534.49,470.98 534.79,468.74 535.09,466 535.39,467.69 535.69,466.04 535.99,466.99 536.29,465.06 536.59,462.49 536.89,460.56 537.19,464.48 537.49,460.9 537.79,462.63 538.1,458.32 538.4,461.8 538.7,460.51 539,459.59 539.3,457.51 539.6,459.27 539.9,460.81 540.2,458.58 540.5,454.91 540.8,454.35 541.1,452.54 541.4,456.1 541.7,459.06 542,461.78 542.3,465.46 542.61,467.92 542.91,475.74 543.21,473.56 543.51,483.52 543.81,487.1 544.11,485.75 544.41,485.14 544.71,480.29 545.01,474.74 545.31,471.28 545.61,468.14 545.91,468.57 546.21,465.25 546.51,461.66 546.81,457.99 547.12,457.27 547.42,456.82 547.72,459.11 548.02,464.89 548.32,463.01 548.62,465.46 548.92,465.34 549.22,459.64 549.52,463.12 549.82,468.02 550.12,470.54 550.42,470.06 550.72,471.22 551.02,477.39 551.33,471.16 551.63,476.96 551.93,472.22 552.23,473.69 552.53,471.75 552.83,474.71 553.13,473.29 553.43,472.84 553.73,468.46 554.03,461.62 554.33,462.95 554.63,461.77 554.93,466.44 555.23,457.35 555.53,461.35 555.84,461.92 556.14,456.82 556.44,455.5 556.74,459 557.04,454.48 557.34,451.05 557.64,451.48 557.94,451.15 558.24,451.16 558.54,451.06 558.84,455.31 559.14,456.32 559.44,460.73 559.74,461.52 560.04,462.82 560.35,467.57 560.65,468.25 560.95,471.65 561.25,471.23 561.55,472.22 561.85,469.82 562.15,471.67 562.45,467.72 562.75,466.84 563.05,467.63 563.35,467.25 563.65,464.58 563.95,460.75 564.25,459.86 564.55,457.92 564.86,455.39 565.16,454.5 565.46,451.38 565.76,450.38 566.06,452.72 566.36,455.09 566.66,452.59 566.96,452.73 567.26,455.88 567.56,452.28 567.86,456.43 568.16,457.57 568.46,456.16 568.76,456.97 569.07,459.36 569.37,466.56 569.67,462.94 569.97,466.77 570.27,467.54 570.57,468.46 570.87,469.52 571.17,469.4 571.47,474.29 571.77,472.27 572.07,471.85 572.37,475.53 572.67,480.63 572.97,480.89 573.27,477.24 573.58,471.78 573.88,472.52 574.18,469.88 574.48,467.63 574.78,464.94 575.08,459.33 575.38,458.03 575.68,457.7 575.98,459.52 576.28,454.07 576.58,447.5 576.88,450.74 577.18,451.01 577.48,454.38 577.78,454.7 578.09,451.75 578.39,454.95 578.69,448.7 578.99,445.83 579.29,444.43 579.59,445.56 579.89,447.71 580.19,450.06 580.49,454.07 580.79,457.87 581.09,453.97 581.39,458.66 581.69,456.63 581.99,458.03 582.3,462.18 582.6,465.6 582.9,463.71 583.2,463.49 583.5,463.91 583.8,461.18 584.1,460.34 584.4,458.54 584.7,456.71 585,456.75 585.3,456.54 585.6,455.54 585.9,456.9 586.2,457.94 586.5,458.71 586.81,460.07 587.11,458.51 587.41,460.81 587.71,455.42 588.01,457.67 588.31,463.03 588.61,462.58 588.91,459.34 589.21,464.13 589.51,467.66 589.81,468.85 590.11,469.11 590.41,470 590.71,469.88 591.01,474.48 591.32,472.89 591.62,472.58 591.92,478.96 592.22,471.72 592.52,474.91 592.82,481.25 593.12,475.09 593.42,477.89 593.72,479.35 594.02,473.29 594.32,472.44 594.62,473.02 594.92,470.41 595.22,466.86 595.52,465.64 595.83,466.17 596.13,468.59 596.43,466.83 596.73,464.82 597.03,464.07 597.33,466.76 597.63,470.76 597.93,473.32 598.23,477.76 598.53,481.62 598.83,488.67 599.13,491.39 599.43,496.2 599.73,501.35 600.04,495.22 600.34,493.41 600.64,485.34 600.94,488.51 601.24,483.28 601.54,475.71 601.84,470.93 602.14,466.44 602.44,459 602.74,458.09 603.04,455.73 603.34,454.93 603.64,455.65 603.94,452.53 604.24,457.23 604.55,461.75 604.85,460.09 605.15,461.81 605.45,459.44 605.75,462.01 606.05,465.32 606.35,469.87 606.65,470.57 606.95,469.01 607.25,471.31 607.55,467 607.85,467.53 608.15,467.73 608.45,464.09 608.75,458.53 609.06,461.86 609.36,459.9 609.66,462.36 609.96,462.23 610.26,457.82 610.56,459.69 610.86,455.01 611.16,453.71 611.46,452.96 611.76,459.22 612.06,460.4 612.36,458.86 612.66,459.61 612.96,455.92 613.27,458.84 613.57,462.84 613.87,463.75 614.17,463 614.47,467.84 614.77,470.52 615.07,464.76 615.37,465.23 615.67,461.81 615.97,456.57 616.27,457.87 616.57,459.88 616.87,456.98 617.17,454.25 617.47,457.91 617.78,457.09 618.08,460.51 618.38,459.45 618.68,458.45 618.98,453.04 619.28,453.52 619.58,454.4 619.88,448.99 620.18,452.94 620.48,450.74 620.78,450.41 621.08,451.78 621.38,453.07 621.68,451.25 621.98,447.54 622.29,447.11 622.59,449.8 622.89,446.55 623.19,445.93 623.49,449.24 623.79,450.89 624.09,455.91 624.39,456.83 624.69,459.59 624.99,462.13 625.29,463.31 625.59,462.7 625.89,465.45 626.19,463.86 626.49,464.63 626.8,459.52 627.1,460.45 627.4,463.13 627.7,454.13 628,457.86 628.3,453.29 628.6,453.88 628.9,456.06 629.2,453.33 629.5,451.65 629.8,454.7 630.1,455.4 630.4,458.02 630.7,454.72 631.01,453.41 631.31,450.83 631.61,458.9 631.91,460.38 632.21,461.05 632.49,462.02 632.78,459.54 633.06,460.7 633.35,464.29" fill="none" stroke="#64d9fb" stroke-width="2.0" stroke-linejoin="round" clip-path="url(#ca13)"/>
<polyline points="641.6,452.75 641.96,452.81 642.31,458.88 642.61,453.05 642.92,447.36 643.22,448.17 643.52,447.06 643.82,446.81 644.12,443.1 644.42,444.97 644.72,442.57 645.02,445.2 645.32,443.23 645.62,442.29 645.92,445.32 646.22,445.83 646.52,442.67 646.82,445.81 647.13,444.11 647.43,448.6 647.73,446.64 648.03,449.13 648.33,448.2 648.63,451.37 648.93,456.03 649.23,458.17 649.53,455.53 649.83,453.62 650.13,458.65 650.43,458.14 650.73,459.37 651.03,464.71 651.33,463.53 651.64,469.31 651.94,473.6 652.24,474.09 652.54,473.36 652.84,476.05 653.14,482.62 653.44,477.98 653.74,476.75 654.04,471.46 654.34,467.59 654.64,464.28 654.94,460.88 655.24,458.02 655.54,456.27 655.84,454.48 656.15,453.19 656.45,451.59 656.75,452.47 657.05,453.01 657.35,451.42 657.65,456.54 657.95,457.57 658.25,465.09 658.55,463.18 658.85,458.88 659.15,460.99 659.45,460.34 659.75,461.65 660.05,459.92 660.36,462.83 660.66,457.25 660.96,456.73 661.26,454.33 661.56,452.71 661.86,448.7 662.16,452.05 662.46,450.23 662.76,455.56 663.06,459.07 663.36,461.52 663.66,458.88 663.96,464.78 664.26,464.67 664.56,468.43 664.87,469.26 665.17,476.38 665.47,474.3 665.77,475.5 666.07,477.42 666.37,474.56 666.67,476.4 666.97,478.34 667.27,480.87 667.57,481.02 667.87,486.86 668.17,490.14 668.47,490.36 668.77,486.42 669.07,486.09 669.38,489.1 669.68,489.18 669.98,486.2 670.28,481.73 670.58,483.66 670.88,483.17 671.18,480.94 671.48,479.16 671.78,475.18 672.08,472.89 672.38,471.51 672.68,474.02 672.98,474.09 673.28,471.16 673.58,470.41 673.89,473.36 674.19,467.57 674.49,466.36 674.79,463.28 675.09,469 675.39,464.87 675.69,466.84 675.99,466.67 676.29,463.31 676.59,465.12 676.89,464.92 677.19,465.6 677.49,465.27 677.79,466.27 678.1,466.67 678.4,463.65 678.7,466.2 679,463.6 679.3,461.38 679.6,463.4 679.9,463.44 680.2,464.43 680.5,464.27 680.8,469.32 681.1,471.85 681.4,469.68 681.7,474 682,472.76 682.3,471.12 682.61,470.27 682.91,473.83 683.21,472.06 683.51,471.21 683.81,476.35 684.11,472.59 684.41,467.63 684.71,462.26 685.01,460.73 685.31,458.44 685.61,456.72 685.91,450.82 686.21,453.52 686.51,450.58 686.81,459.56 687.12,458.15 687.42,461.33 687.72,462.09 688.02,460.6 688.32,463.29 688.62,463.72 688.92,464.89 689.22,467.07 689.52,464.22 689.82,472.07 690.12,474.11 690.42,472.15 690.72,474.82 691.02,469.87 691.33,463.89 691.63,467.97 691.93,466.61 692.23,467.7 692.53,466.7 692.83,466.8 693.13,464.72 693.43,465.86 693.73,467.97 694.03,469.47 694.33,474.16 694.63,474.12 694.93,474.47 695.23,474.93 695.53,476.74 695.84,476.57 696.14,474.57 696.44,475.12 696.74,474.36 697.04,478.64 697.34,482 697.64,482.76 697.94,484.12 698.24,480.3 698.54,474.18 698.84,474.69 699.14,475.94 699.44,471.37 699.74,470.59 700.04,470.05 700.35,476.82 700.65,476.78 700.95,471.87 701.25,469.9 701.55,469.96 701.85,469.83 702.15,469.14 702.45,465.01 702.75,463.27 703.05,467.69 703.35,465.55 703.65,466.7 703.95,464.11 704.25,463.18 704.55,462.34 704.86,463.15 705.16,468.28 705.46,470.74 705.76,470.82 706.06,472.64 706.36,478.08 706.66,475.39 706.96,479.87 707.26,483.67 707.56,487.54 707.86,490.05 708.16,486.88 708.46,487.48 708.76,484.18 709.07,484.97 709.37,482.99 709.67,483.21 709.97,478.83 710.27,478.37 710.57,478.35 710.87,477.64 711.17,477.51 711.47,478.96 711.77,472.18 712.07,474.17 712.37,471.85 712.67,477.51 712.97,483.2 713.27,483.19 713.58,486.66 713.88,491.18 714.18,490.2 714.48,492.05 714.78,493.97 715.08,491.72 715.38,490.78 715.68,490.15 715.98,487.86 716.28,489.6 716.58,482.49 716.88,479.24 717.18,477.51 717.48,480.85 717.78,480.16 718.09,479.14 718.39,477.4 718.69,475.51 718.99,473.12 719.29,474.4 719.59,473.45 719.89,473.86 720.19,472.67 720.49,472.13 720.79,471.37 721.09,475.47 721.39,476.68 721.69,474.49 721.99,465.88 722.3,467.97 722.6,470.29 722.9,467.74 723.2,461.05 723.5,460.38 723.8,466.28 724.1,460.96 724.4,454.84 724.7,454.55 725,456.4 725.3,454.03 725.6,449.17 725.9,443.86 726.2,446.57 726.5,444.47 726.81,450.48 727.11,453.87 727.41,453.73 727.71,453.19 728.01,453.17 728.31,453.3 728.61,452.61 728.91,452.29 729.21,452.59 729.51,459.27 729.81,462.97 730.11,461.99 730.41,464.09 730.71,464.09 731.01,466.47 731.32,471.63 731.62,474.11 731.92,476.4 732.22,477.85 732.52,479.96 732.82,478.36 733.12,482.49 733.42,479.5 733.72,480.73 734.02,480.74 734.32,480.13 734.62,473.39 734.92,476.82 735.22,472.1 735.52,466.42 735.83,468.95 736.13,469.27 736.43,464.81 736.73,466.92 737.03,465.86 737.33,467.12 737.63,465.19 737.93,469.94 738.23,470.7 738.53,470.78 738.83,469.11 739.13,470.03 739.43,472 739.73,469.61 740.04,471.67 740.34,478.03 740.64,477.74 740.94,475.42 741.24,472.33 741.54,472.79 741.84,472.12 742.14,468.79 742.44,464.58 742.74,464.38 743.04,463.59 743.34,459.33 743.64,458.04 743.94,456.39 744.24,455.21 744.55,454.76 744.85,453.33 745.15,455.03 745.45,455.05 745.75,456.46 746.05,461.12 746.35,462.09 746.65,461.01 746.95,462 747.25,463.39 747.55,464.12 747.85,462.98 748.15,463.15 748.45,459.69 748.75,464.19 749.06,471.26 749.36,468.21 749.66,473.08 749.96,470.03 750.26,470.29 750.56,474.88 750.86,472.16 751.16,472.81 751.46,477.83 751.76,475.75 752.06,477.16 752.36,481.67 752.66,474.84 752.96,477.28 753.27,479.62 753.57,475.85 753.87,473.89 754.17,475.26 754.47,475.24 754.77,477.14 755.07,470.88 755.37,470.44 755.67,472.14 755.97,470.96 756.27,467.58 756.57,468.19 756.87,467.27 757.17,462.63 757.47,457.71 757.78,459.67 758.08,459.21 758.38,459.13 758.68,458.92 758.98,457.11 759.28,457.55 759.58,462.55 759.88,460.64 760.18,459.23 760.48,459.54 760.78,464.02 761.08,469.79 761.38,470.64 761.68,465.27 761.98,467.36 762.29,467 762.59,469.48 762.89,468.71 763.19,466.96 763.49,464.67 763.79,468.15 764.09,462.54 764.39,462.48 764.69,460.41 764.99,464.35 765.29,466.54 765.59,464.84 765.89,464.97 766.19,464.17 766.49,461.02 766.8,464.29 767.1,470.76 767.4,468.13 767.7,471.11 768,467.35 768.3,471.39 768.6,475.63 768.9,475.58 769.2,471.18 769.5,474.75 769.8,471.64 770.1,473.79 770.4,472.15 770.7,469.53 771.01,468.35 771.31,463.6 771.61,462.71 771.91,463.76 772.21,462.3 772.51,464.29 772.81,461.39 773.11,463.28 773.42,456.93 773.74,456.12 774.05,456.66 774.36,453.14 774.67,455.81 774.99,455 775.3,455.35" fill="none" stroke="#6420fd" stroke-width="2.0" stroke-linejoin="round" clip-path="url(#ca14)"/>
<polyline points="641.6,443.46 641.96,444.93 642.31,444.69 642.61,448.07 642.92,445.5 643.22,446.04 643.52,446.65 643.82,448.3 644.12,455.05 644.42,456.92 644.72,455.98 645.02,456.94 645.32,460.87 645.62,456.68 645.92,456.18 646.22,458.12 646.52,460.45 646.82,461.23 647.13,456.93 647.43,453.11 647.73,451.73 648.03,454.53 648.33,454.89 648.63,457.13 648.93,455.15 649.23,453.63 649.53,446.65 649.83,442.37 650.13,441.95 650.43,441.48 650.73,437.11 651.03,439 651.33,431.34 651.64,432.1 651.94,430.03 652.24,431.93 652.54,432.44 652.84,430.2 653.14,430.48 653.44,432.36 653.74,427.88 654.04,425.49 654.34,423.55 654.64,423.81 654.94,421.94 655.24,421.78 655.54,428.94 655.84,428.55 656.15,427.06 656.45,434.56 656.75,434.64 657.05,440.24 657.35,445.17 657.65,443.35 657.95,441.96 658.25,447.3 658.55,443.03 658.85,442.84 659.15,444.14 659.45,445.06 659.75,450.73 660.05,450.01 660.36,446.04 660.66,452.67 660.96,453.71 661.26,452.61 661.56,454.41 661.86,451.62 662.16,448.81 662.46,443.03 662.76,440.83 663.06,442.32 663.36,439.48 663.66,434.85 663.96,428.93 664.26,429.66 664.56,427.92 664.87,427.85 665.17,429.49 665.47,431.49 665.77,431.18 666.07,432.81 666.37,432.34 666.67,434.98 666.97,437.06 667.27,438.72 667.57,437.55 667.87,440.83 668.17,441.67 668.47,440.81 668.77,441.01 669.07,441.76 669.38,438.56 669.68,441.37 669.98,438.73 670.28,438.6 670.58,436.76 670.88,429.44 671.18,425.45 671.48,428.57 671.78,426.87 672.08,425.11 672.38,428.85 672.68,430.74 672.98,432.1 673.28,430.57 673.58,436.32 673.89,430.86 674.19,437.15 674.49,436.83 674.79,440.73 675.09,441.28 675.39,442.89 675.69,447.06 675.99,440.8 676.29,433.31 676.59,432.33 676.89,426.38 677.19,426.6 677.49,424.93 677.79,425.88 678.1,422.19 678.4,421.59 678.7,419.45 679,423.9 679.3,425.45 679.6,429.86 679.9,435.78 680.2,435.35 680.5,436.54 680.8,433.75 681.1,434.16 681.4,439.03 681.7,432.21 682,432.51 682.3,434.05 682.61,435.47 682.91,432.09 683.21,431.73 683.51,432.51 683.81,434.31 684.11,431.7 684.41,429.53 684.71,431.87 685.01,434.61 685.31,433.28 685.61,436.11 685.91,437.4 686.21,439.64 686.51,437.6 686.81,442.62 687.12,445.16 687.42,444.55 687.72,448.48 688.02,449.25 688.32,451.46 688.62,450.21 688.92,454.28 689.22,452.22 689.52,444.9 689.82,446.2 690.12,441.77 690.42,442.72 690.72,440.37 691.02,439.56 691.33,437.26 691.63,431.68 691.93,427.84 692.23,430.32 692.53,432.34 692.83,436.15 693.13,441.47 693.43,439.19 693.73,443.31 694.03,442.3 694.33,442.9 694.63,440.11 694.93,442.41 695.23,445.48 695.53,445.4 695.84,446.02 696.14,449.48 696.44,454.97 696.74,458.1 697.04,457.02 697.34,461.82 697.64,462.49 697.94,463.6 698.24,469.88 698.54,466.42 698.84,462.59 699.14,458.89 699.44,448.39 699.74,452.14 700.04,453.26 700.35,442.22 700.65,436.09 700.95,437.05 701.25,443.3 701.55,444.83 701.85,446.51 702.15,444.51 702.45,443.85 702.75,447.6 703.05,445.6 703.35,451.6 703.65,453.34 703.95,452.67 704.25,451.44 704.55,457.33 704.86,453.64 705.16,446.99 705.46,445.55 705.76,441.39 706.06,445.47 706.36,441.45 706.66,441.47 706.96,441.7 707.26,442.86 707.56,437.18 707.86,439.9 708.16,438.26 708.46,438.3 708.76,433.13 709.07,436.61 709.37,438.27 709.67,439.11 709.97,440.07 710.27,437 710.57,433.56 710.87,437.62 711.17,436.08 711.47,446.05 711.77,443.82 712.07,439.76 712.37,446.08 712.67,447.23 712.97,447.25 713.27,448.72 713.58,450.77 713.88,447.17 714.18,451.22 714.48,452.63 714.78,449.82 715.08,446.12 715.38,446.6 715.68,448.08 715.98,446.56 716.28,443.66 716.58,446.18 716.88,444.41 717.18,449.8 717.48,454.62 717.78,455.96 718.09,457.91 718.39,458.78 718.69,455.73 718.99,462.23 719.29,463.86 719.59,459.16 719.89,459.25 720.19,462.01 720.49,462.5 720.79,458.98 721.09,457.71 721.39,456.98 721.69,460.51 721.99,460.4 722.3,458.52 722.6,453.43 722.9,451.12 723.2,446.58 723.5,447.02 723.8,442.95 724.1,438.73 724.4,439.16 724.7,436.79 725,434.74 725.3,431.92 725.6,432.74 725.9,436.52 726.2,431.29 726.5,434.33 726.81,429.66 727.11,428.13 727.41,431.77 727.71,427.95 728.01,427.63 728.31,428.57 728.61,433.77 728.91,434.55 729.21,433.01 729.51,433.24 729.81,435.92 730.11,434.97 730.41,438.55 730.71,441.7 731.01,442.64 731.32,439.34 731.62,444.64 731.92,440.73 732.22,441.53 732.52,438.1 732.82,433.78 733.12,426.55 733.42,431.32 733.72,425.53 734.02,424.86 734.32,424.6 734.62,428.32 734.92,424.95 735.22,431.29 735.52,429.16 735.83,430.25 736.13,437.42 736.43,436.02 736.73,436.75 737.03,434.92 737.33,435.79 737.63,429.57 737.93,432.82 738.23,434.59 738.53,433.18 738.83,429.32 739.13,434.12 739.43,430.48 739.73,427.43 740.04,426.78 740.34,423.61 740.64,422.09 740.94,421.27 741.24,423.1 741.54,421.4 741.84,426.95 742.14,427.84 742.44,429.1 742.74,431.57 743.04,431.16 743.34,437.37 743.64,432.83 743.94,435.14 744.24,437.57 744.55,436.9 744.85,435.5 745.15,435.25 745.45,441.37 745.75,440.96 746.05,443.13 746.35,438.88 746.65,440.87 746.95,444.9 747.25,442.64 747.55,440.69 747.85,436.6 748.15,438.14 748.45,434.73 748.75,434.24 749.06,432.36 749.36,427.59 749.66,425.74 749.96,424.15 750.26,419.88 750.56,418.93 750.86,419.1 751.16,418.22 751.46,422.37 751.76,425.17 752.06,428.47 752.36,429.98 752.66,428.11 752.96,428.27 753.27,433.75 753.57,432.35 753.87,429.88 754.17,429.85 754.47,431.28 754.77,437.7 755.07,432.34 755.37,436.53 755.67,432.95 755.97,432.24 756.27,430.24 756.57,435.63 756.87,436.63 757.17,431.55 757.47,432.22 757.78,427.3 758.08,429.51 758.38,433.02 758.68,433.67 758.98,436.99 759.28,432.43 759.58,442.62 759.88,441.13 760.18,437.65 760.48,439.42 760.78,435.64 761.08,434.21 761.38,437.12 761.68,434.5 761.98,435.11 762.29,433.99 762.59,434.21 762.89,426.23 763.19,421.15 763.49,421.94 763.79,424.22 764.09,424.4 764.39,420.3 764.69,419.31 764.99,421.41 765.29,420.39 765.59,412.32 765.89,414.16 766.19,418.32 766.49,420.24 766.8,421.3 767.1,419.3 767.4,425.16 767.7,430.6 768,433.83 768.3,429.79 768.6,437.24 768.9,437.71 769.2,438.32 769.5,433.54 769.8,433.82 770.1,431.18 770.4,431.32 770.7,431.43 771.01,432.01 771.31,428.04 771.61,431.4 771.91,435.15 772.21,431.29 772.51,431.04 772.81,430.54 773.11,429.9 773.41,430.26 773.71,430.38 774.01,435.73 774.33,434.33 774.66,430.57 774.98,429.43 775.3,430.28" fill="none" stroke="#2edb48" stroke-width="2.0" stroke-linejoin="round" clip-path="url(#ca14)"/>
<polyline points="641.6,449.51 641.96,447.6 642.31,446.43 642.61,445.76 642.92,451.23 643.22,455.86 643.52,457.51 643.82,460.13 644.12,459.93 644.42,468.63 644.72,471.28 645.02,472.36 645.32,476.84 645.62,479.71 645.92,481.99 646.22,479.53 646.52,478.29 646.82,477.84 647.13,477.65 647.43,476.75 647.73,474.39 648.03,473.78 648.33,470 648.63,464.19 648.93,461.16 649.23,464.78 649.53,459.19 649.83,460.8 650.13,464.15 650.43,468.48 650.73,463.61 651.03,464.63 651.33,466.56 651.64,468.21 651.94,471.41 652.24,475.36 652.54,477.22 652.84,484.02 653.14,484.46 653.44,478.03 653.74,475.68 654.04,478.35 654.34,479.91 654.64,484.53 654.94,485.88 655.24,487.48 655.54,486.73 655.84,488.14 656.15,484.95 656.45,480.28 656.75,478.44 657.05,470.94 657.35,471.75 657.65,469.3 657.95,471.94 658.25,463.87 658.55,455.13 658.85,454.8 659.15,455.57 659.45,454.29 659.75,452.46 660.05,453.61 660.36,451.41 660.66,456.54 660.96,451.97 661.26,455.04 661.56,457.11 661.86,456.4 662.16,458.22 662.46,458.06 662.76,459.94 663.06,457.29 663.36,456.13 663.66,458.2 663.96,461.47 664.26,465.62 664.56,462.73 664.87,463.79 665.17,464.67 665.47,469.67 665.77,469.15 666.07,472.67 666.37,470.57 666.67,468.88 666.97,468.35 667.27,465.81 667.57,462.63 667.87,466.44 668.17,467.62 668.47,475.12 668.77,474.16 669.07,474.99 669.38,473.61 669.68,471.13 669.98,466.44 670.28,464.38 670.58,469.49 670.88,466.27 671.18,464.39 671.48,465.98 671.78,463.62 672.08,461.99 672.38,466.21 672.68,463.28 672.98,459.62 673.28,459.6 673.58,459.47 673.89,462.68 674.19,465.07 674.49,463.89 674.79,464.86 675.09,462.62 675.39,465.48 675.69,469.67 675.99,467.94 676.29,469.94 676.59,469.93 676.89,469.79 677.19,471.42 677.49,468.81 677.79,472.68 678.1,474.45 678.4,474.72 678.7,469.6 679,464.95 679.3,466.14 679.6,468.13 679.9,468.31 680.2,467.87 680.5,465.51 680.8,461.96 681.1,461.28 681.4,454.31 681.7,454.18 682,452.77 682.3,447.91 682.61,454.57 682.91,447.34 683.21,447.02 683.51,444.24 683.81,447.58 684.11,449.73 684.41,453.66 684.71,452.28 685.01,456.46 685.31,453.17 685.61,456 685.91,453.69 686.21,457.94 686.51,462.37 686.81,460.13 687.12,465.87 687.42,468.88 687.72,466.39 688.02,468.14 688.32,471.18 688.62,476.17 688.92,481.53 689.22,479.99 689.52,479.92 689.82,482.54 690.12,479.25 690.42,483.97 690.72,483.95 691.02,483.12 691.33,486.29 691.63,483.2 691.93,480.42 692.23,483.07 692.53,480.16 692.83,479.74 693.13,478.26 693.43,477.91 693.73,477.91 694.03,478.45 694.33,475.12 694.63,479.71 694.93,477.48 695.23,476.52 695.53,479.15 695.84,477.08 696.14,478.5 696.44,480.63 696.74,480.96 697.04,477.91 697.34,480.12 697.64,477.96 697.94,475.64 698.24,474.51 698.54,476.71 698.84,475.13 699.14,479.15 699.44,479.47 699.74,478.95 700.04,479.99 700.35,479.84 700.65,475.6 700.95,481.54 701.25,474.59 701.55,475.68 701.85,471.37 702.15,473.35 702.45,473.77 702.75,471.72 703.05,475.44 703.35,475.9 703.65,475.84 703.95,473.34 704.25,478.15 704.55,476.21 704.86,477.7 705.16,473.01 705.46,478.06 705.76,475.89 706.06,478.14 706.36,475.76 706.66,475.64 706.96,476.86 707.26,476.13 707.56,480.96 707.86,477.46 708.16,475.85 708.46,478.56 708.76,477.59 709.07,474.66 709.37,475.13 709.67,477.87 709.97,477.44 710.27,479.87 710.57,475.52 710.87,477.33 711.17,475.64 711.47,475.99 711.77,475.63 712.07,474.44 712.37,481.25 712.67,478.5 712.97,478.61 713.27,477.42 713.58,480.41 713.88,475.41 714.18,471.42 714.48,474.08 714.78,471.15 715.08,475.41 715.38,471.2 715.68,467.94 715.98,466.85 716.28,460.24 716.58,457.53 716.88,455.92 717.18,449.08 717.48,447.57 717.78,441.89 718.09,440.53 718.39,442.26 718.69,440.42 718.99,433.94 719.29,435.04 719.59,435.66 719.89,440.96 720.19,444.36 720.49,442.21 720.79,443.86 721.09,445.15 721.39,450.54 721.69,454.28 721.99,456.99 722.3,460.62 722.6,463.46 722.9,463.75 723.2,466.03 723.5,465.38 723.8,469 724.1,472.02 724.4,466.64 724.7,474.27 725,474.18 725.3,476.95 725.6,477.33 725.9,481.93 726.2,480.98 726.5,480.87 726.81,478.49 727.11,478.76 727.41,479.79 727.71,476.79 728.01,477.39 728.31,476.61 728.61,477.73 728.91,480.17 729.21,479.11 729.51,481.32 729.81,477.47 730.11,474.95 730.41,473.27 730.71,469.79 731.01,470.34 731.32,466.9 731.62,464.32 731.92,464.58 732.22,461.19 732.52,460.52 732.82,458.98 733.12,460.09 733.42,460.25 733.72,458.68 734.02,455.09 734.32,457.09 734.62,461.58 734.92,456.64 735.22,454.85 735.52,457.64 735.83,455.36 736.13,453.67 736.43,461.05 736.73,461.81 737.03,469.19 737.33,470.51 737.63,476.87 737.93,480.63 738.23,482.99 738.53,490.51 738.83,490.8 739.13,491.79 739.43,489.16 739.73,489.74 740.04,483.4 740.34,484.65 740.64,486.51 740.94,479.72 741.24,477.21 741.54,477.19 741.84,482.3 742.14,475.03 742.44,468.66 742.74,468.06 743.04,466.26 743.34,464.21 743.64,460.68 743.94,465.38 744.24,459.26 744.55,459.47 744.85,454.89 745.15,451.58 745.45,456.28 745.75,452.8 746.05,455.9 746.35,457.58 746.65,456.81 746.95,461.53 747.25,459.36 747.55,464.64 747.85,468.69 748.15,465.45 748.45,468.62 748.75,474.24 749.06,474.51 749.36,471.83 749.66,477.2 749.96,475.32 750.26,474.39 750.56,469.58 750.86,471.08 751.16,470.85 751.46,466.67 751.76,468.33 752.06,466.35 752.36,467.63 752.66,467.48 752.96,462.86 753.27,459.22 753.57,465.58 753.87,467.08 754.17,465.32 754.47,469.33 754.77,470.35 755.07,471.05 755.37,469.73 755.67,469.6 755.97,474.63 756.27,474.05 756.57,473.97 756.87,476.72 757.17,474.84 757.47,477.34 757.78,479.46 758.08,487.74 758.38,481.57 758.68,483.88 758.98,484.13 759.28,482.81 759.58,492.18 759.88,495.65 760.18,493.08 760.48,493.29 760.78,490.82 761.08,488.79 761.38,486.22 761.68,485.38 761.98,485.77 762.29,482.96 762.59,481.92 762.89,474.7 763.19,477.77 763.49,472.29 763.79,468.08 764.09,465.34 764.39,465.88 764.69,462.99 764.99,457.63 765.29,456.51 765.59,459.72 765.89,455.03 766.19,450.23 766.49,445.71 766.8,445.06 767.1,443.83 767.4,446.32 767.7,445.59 768,450.89 768.3,449.84 768.6,455.82 768.9,457.78 769.2,457.59 769.5,461.03 769.8,463.62 770.1,460.42 770.4,465.64 770.7,464.83 771.01,465.1 771.31,461.95 771.61,461.09 771.91,463.38 772.21,460.84 772.51,460.3 772.81,462.1 773.11,457.97 773.41,455.48 773.71,460.51 774.01,462.19 774.33,465.03 774.66,463.44 774.98,459 775.3,461.3" fill="none" stroke="#64d9fb" stroke-width="2.0" stroke-linejoin="round" clip-path="url(#ca14)"/>
<rect x="73.8" y="7.4" width="133.7" height="241.6" fill="none" stroke="#000" stroke-width="1.3"/>
<rect x="215.75" y="7.4" width="133.7" height="241.6" fill="none" stroke="#000" stroke-width="1.3"/>
<rect x="357.7" y="7.4" width="133.7" height="241.6" fill="none" stroke="#000" stroke-width="1.3"/>
<rect x="499.65" y="7.4" width="133.7" height="241.6" fill="none" stroke="#000" stroke-width="1.3"/>
<rect x="641.6" y="7.4" width="133.7" height="241.6" fill="none" stroke="#000" stroke-width="1.3"/>
<rect x="73.8" y="256.6" width="133.7" height="241.6" fill="none" stroke="#000" stroke-width="1.3"/>
<rect x="215.75" y="256.6" width="133.7" height="241.6" fill="none" stroke="#000" stroke-width="1.3"/>
<rect x="357.7" y="256.6" width="133.7" height="241.6" fill="none" stroke="#000" stroke-width="1.3"/>
<rect x="499.65" y="256.6" width="133.7" height="241.6" fill="none" stroke="#000" stroke-width="1.3"/>
<rect x="641.6" y="256.6" width="133.7" height="241.6" fill="none" stroke="#000" stroke-width="1.3"/>
<path d="M67.4,7.4H73.8M70.5,69.96H73.8M70.5,54.2H73.8M70.5,43.02H73.8M70.5,34.34H73.8M70.5,27.26H73.8M70.5,21.26H73.8M70.5,16.07H73.8M70.5,11.5H73.8M67.4,96.9H73.8M70.5,159.46H73.8M70.5,143.7H73.8M70.5,132.52H73.8M70.5,123.84H73.8M70.5,116.76H73.8M70.5,110.76H73.8M70.5,105.57H73.8M70.5,101H73.8M67.4,186.4H73.8M70.5,248.96H73.8M70.5,233.2H73.8M70.5,222.02H73.8M70.5,213.34H73.8M70.5,206.26H73.8M70.5,200.26H73.8M70.5,195.07H73.8M70.5,190.5H73.8M67.4,256.6H73.8M70.5,319.16H73.8M70.5,303.4H73.8M70.5,292.22H73.8M70.5,283.54H73.8M70.5,276.46H73.8M70.5,270.46H73.8M70.5,265.27H73.8M70.5,260.7H73.8M67.4,346.1H73.8M70.5,408.66H73.8M70.5,392.9H73.8M70.5,381.72H73.8M70.5,373.04H73.8M70.5,365.96H73.8M70.5,359.96H73.8M70.5,354.77H73.8M70.5,350.2H73.8M67.4,435.6H73.8M70.5,498.16H73.8M70.5,482.4H73.8M70.5,471.22H73.8M70.5,462.54H73.8M70.5,455.46H73.8M70.5,449.46H73.8M70.5,444.27H73.8M70.5,439.7H73.8M73.8,498.2V504.6M108,498.2V504.6M142.2,498.2V504.6M176.4,498.2V504.6M215.75,498.2V504.6M249.95,498.2V504.6M284.15,498.2V504.6M318.35,498.2V504.6M357.7,498.2V504.6M391.9,498.2V504.6M426.1,498.2V504.6M460.3,498.2V504.6M499.65,498.2V504.6M533.85,498.2V504.6M568.05,498.2V504.6M602.25,498.2V504.6M641.6,498.2V504.6M675.8,498.2V504.6M710,498.2V504.6M744.2,498.2V504.6" stroke="#000" stroke-width="1.2" fill="none"/>
<text x="63.6" y="14.5" font-size="20" text-anchor="end">-2</text>
<text x="63.6" y="104" font-size="20" text-anchor="end">-3</text>
<text x="63.6" y="193.5" font-size="20" text-anchor="end">-4</text>
<text x="63.6" y="263.7" font-size="20" text-anchor="end">-2</text>
<text x="63.6" y="353.2" font-size="20" text-anchor="end">-3</text>
<text x="63.6" y="442.7" font-size="20" text-anchor="end">-4</text>
<text transform="translate(126.44,39) scale(1.14,1)" font-size="21.5">&#955;</text>
<text x="139.5" y="30.1" font-size="16">(&#8199;)</text>
<text x="142.75" y="60.9" font-size="20" text-anchor="middle">(&#8199;.0,&#8199;.0,0.&#8199;)</text>
<text transform="translate(268.4,39) scale(1.14,1)" font-size="21.5">&#955;</text>
<text x="281.45" y="30.1" font-size="16">(2)</text>
<text x="284.7" y="60.9" font-size="20" text-anchor="middle">(&#8199;.0,&#8199;.0,0.2)</text>
<text transform="translate(410.34,39) scale(1.14,1)" font-size="21.5">&#955;</text>
<text x="423.4" y="30.1" font-size="16">(3)</text>
<text x="426.65" y="60.9" font-size="20" text-anchor="middle">(&#8199;.0,&#8199;.0,0.5)</text>
<text transform="translate(552.3,39) scale(1.14,1)" font-size="21.5">&#955;</text>
<text x="565.35" y="30.1" font-size="16">(4)</text>
<text x="568.6" y="60.9" font-size="20" text-anchor="middle">(&#8199;.0,&#8199;.0,&#8199;.0)</text>
<text transform="translate(694.25,39) scale(1.14,1)" font-size="21.5">&#955;</text>
<text x="707.3" y="30.1" font-size="16">(5)</text>
<text x="710.55" y="60.9" font-size="20" text-anchor="middle">(&#8199;.0,&#8199;.5,&#8199;.0)</text>
<text transform="translate(126.44,288.2) scale(1.14,1)" font-size="21.5">&#955;</text>
<text x="139.5" y="279.3" font-size="16">(6)</text>
<text x="142.75" y="310.1" font-size="20" text-anchor="middle">(&#8199;.0,2.0,&#8199;.0)</text>
<text transform="translate(268.4,288.2) scale(1.14,1)" font-size="21.5">&#955;</text>
<text x="281.45" y="279.3" font-size="16">(7)</text>
<text x="284.7" y="310.1" font-size="20" text-anchor="middle">(&#8199;.5,&#8199;.5,&#8199;.0)</text>
<text transform="translate(410.34,288.2) scale(1.14,1)" font-size="21.5">&#955;</text>
<text x="423.4" y="279.3" font-size="16">(8)</text>
<text x="426.65" y="310.1" font-size="20" text-anchor="middle">(&#8199;.5,2.0,&#8199;.0)</text>
<text transform="translate(552.3,288.2) scale(1.14,1)" font-size="21.5">&#955;</text>
<text x="565.35" y="279.3" font-size="16">(9)</text>
<text x="568.6" y="310.1" font-size="20" text-anchor="middle">(&#8199;.5,2.5,&#8199;.0)</text>
<text transform="translate(689.8,288.2) scale(1.14,1)" font-size="21.5">&#955;</text>
<text x="702.85" y="279.3" font-size="16">(&#8199;0)</text>
<text x="710.55" y="310.1" font-size="20" text-anchor="middle">(2.0,2.0,2.0)</text>
<text x="139" y="350.6" text-anchor="end" font-size="20">S<tspan font-size="16" dy="6.1">&#8199;2</tspan></text>
<path d="M150.8,345.9H175.6" stroke="#6420fd" stroke-width="2"/>
<text x="139" y="370.6" text-anchor="end" font-size="20">S<tspan font-size="16" dy="6.1">&#8199;3</tspan></text>
<path d="M150.8,365.9H175.6" stroke="#2edb48" stroke-width="2"/>
<text x="139" y="390.6" text-anchor="end" font-size="20">S<tspan font-size="16" dy="6.1">23</tspan></text>
<path d="M150.8,385.9H175.6" stroke="#64d9fb" stroke-width="2"/>
<text x="-0.7" y="16" font-size="22" text-anchor="start" letter-spacing="0.85">(a)</text>
<text x="425.9" y="531.6" font-size="20" text-anchor="middle">SR iterations</text>
<text transform="translate(27.1,249.1) rotate(-90)" text-anchor="middle" font-size="20">2 log<tspan font-size="16" dy="6.6">&#8199;0</tspan><tspan dy="-6.6"> S</tspan><tspan font-size="16" dy="6.6">IJ</tspan><tspan dy="-6.6"> (running average)</tspan></text>
<polyline points="89.9,777.3 90.05,778.11 90.43,774.28 90.81,770.83 91.19,768.69 91.57,767.43 91.95,764.56 92.33,760.54 92.71,757.38 93.09,754.98 93.51,752.56 93.93,749 94.35,745.23 94.77,741.73 95.19,738.6 95.62,734.65 96.02,730.16 96.43,725.8 96.84,722.36 97.25,717.08 97.66,712.83 98.06,706.82 98.43,706.07 98.8,704.49 99.16,702.4 99.53,700.97 99.89,700.25 100.26,698.27 100.63,697.56 100.99,696.93 101.36,696.05 101.72,694.93 102.09,690.31 102.46,687.78 102.82,684.44 103.19,682.68 103.55,679.92 103.92,680.65 104.29,681.57 104.65,681.58 105.02,682.42 105.38,682.58 105.78,683.39 106.17,681.47 106.56,680.26 106.95,677.73 107.34,676.01 107.74,675.07 108.13,675.37 108.52,676.41 108.91,676.76 109.3,676.35 109.7,678.17 110.09,677.1 110.48,676.7 110.87,677.62 111.26,675.8 111.66,675.29 112.05,675.11 112.44,673.77 112.83,672.92 113.23,671.71 113.62,670 114.01,666.85 114.4,666.19 114.79,666.43 115.19,664.97 115.58,664.63 115.97,664.72 116.36,665.35 116.75,663.28 117.15,662.39 117.54,662.14 117.93,661.91 118.32,659.95 118.71,661.02 119.11,659.24 119.5,659.88 119.89,659.14 120.28,659.08 120.68,659.92 121.07,659.57 121.46,658.8 121.85,657.34 122.22,657.63 122.58,657.48 122.95,660.41 123.32,659.64 123.68,658.66 124.07,659.26 124.47,658.66 124.86,656.32 125.25,655.19 125.64,652.52 126.03,650.43 126.43,649.35 126.79,651.65 127.16,653.16 127.52,656.51 127.89,658.63 128.26,660.24 128.62,660.04 128.99,661.41 129.35,662.31 129.72,663.48 130.09,665.31 130.45,662.84 130.82,661.28 131.18,660.04 131.55,658.21 131.92,657.92 132.31,655.38 132.7,655.09 133.09,653.92 133.48,653.99 133.88,655.98 134.27,653.78 134.66,653.42 135.05,653.72 135.44,653.29 135.84,653.54 136.23,651.56 136.62,652.23 137.01,650.94 137.41,649.8 137.8,650.38 138.19,650.5 138.58,649.45 138.97,648.6 139.37,648.42 139.76,648.31 140.15,647.95 140.52,648.77 140.88,648.81 141.25,652.3 141.61,654.08 141.98,654.61 142.35,653.05 142.71,652.52 143.08,652.13 143.44,650.24 143.81,651.62 144.18,652.66 144.54,652.91 144.91,653.81 145.27,654.48 145.64,655.76 146.1,657.76 146.55,660.76 146.92,663.97 147.29,665.45 147.65,667.25 148.02,669.01 148.38,671.61 148.78,674.11 149.17,677.35 149.56,680.68 149.95,684.01 150.34,685.81 150.74,689.82 151.13,692.27 151.49,688.88 151.86,685.2 152.23,680.5 152.59,678.15 152.96,673.82 153.35,676.79 153.74,678.24 154.14,680.85 154.53,682.21 154.92,683.59 155.31,685.5 155.7,686.02 156.1,686.54 156.49,685.43 156.88,684.96 157.27,683.83 157.66,684.02 158.06,684.13 158.45,683.16 158.84,683.42 159.23,685.09 159.62,686.98 160.02,688.17 160.41,688.76 160.8,689.84 161.19,691.37 161.6,690.85 162.01,692.64 162.41,695.82 162.82,696.05 163.23,697.52 163.63,700.41 164.04,701.85 164.45,703.37 164.85,703.92 165.26,701.57 165.67,703.09 166.07,701.55 166.48,700.17 166.89,700.05 167.29,698.91 167.7,697.22 168.11,694.88 168.51,693.82 168.9,695.11 169.3,695.98 169.69,696.88 170.08,697.83 170.47,699.63 170.86,700.85 171.26,702.9 171.65,705.4 172.04,706.97 172.43,708.31 172.83,710.96 173.22,712.46 173.61,712.29 174,713.42 174.39,715.45 174.79,716.44 175.18,718.96 175.57,719.11 175.96,719.7 176.35,722.98 176.75,725.26 177.14,724.73 177.53,726.06 177.92,728.18 178.31,727.81 178.71,727.84 179.1,728.15 179.49,728.84 179.88,726.61 180.28,725.65 180.67,723.67 181.06,723.06 181.45,723.8 181.84,721 182.24,720.25 182.63,720.42 183.02,717.55 183.41,717.54 183.8,717.23 184.2,716.58 184.59,716.88 184.98,715.87 185.37,715.68 185.76,714.77 186.16,714.22 186.55,713.16 186.94,714.75 187.33,713.64 187.73,711.92 188.12,712.86 188.51,712.81 188.9,711.06 189.29,709.33 189.69,707.91 190.08,708.31 190.47,707 190.84,708.94 191.2,712.36 191.57,714.56 191.93,717.07 192.3,721.19 192.69,719.7 193.08,718.48 193.48,716.47 193.87,715.32 194.26,712.84 194.65,711.64 195.04,710.35 195.44,712.75 195.83,714.86 196.22,718.93 196.61,722.22 197.01,726.12 197.4,728.86 197.79,732.77 198.18,732.8 198.57,733.69 198.97,733.51 199.36,732.05 199.75,731.75 200.15,729.69 200.54,729.63 200.93,728.53 201.32,728.57 201.72,727.55 202.11,726.25 202.5,724.83 202.89,725.3 203.29,724.38 203.7,724.18 204.11,723.65 204.52,721.1 204.93,721.46 205.34,720.68 205.75,720.61 206.16,720.41 206.57,718.25 206.98,720.39 207.39,722.64 207.8,725.12 208.21,727.81 208.63,728.9 209.04,730.68 209.45,733.2 209.86,733.51 210.27,736.86 210.68,737.19 211.09,739.73 211.5,740.87 211.91,743.49 212.32,744.94 212.73,745.5 213.14,745.06 213.55,745.98 213.96,746.9 214.38,747.85 214.79,747.2 215.2,747.37 215.61,747.73 216.02,749.01 216.43,749.09 216.84,749.95 217.25,751.51 217.66,751.6 218.07,753.28 218.48,753.67 218.89,753.69 219.3,754.99 219.72,755.51 220.15,757.5 220.59,759.5 221.03,762.19 221.47,765.17 221.91,768.64 222.34,770.64 222.78,772.01 223.22,773.14 223.66,775.96 224.1,778.63 224.51,779.24 224.92,778.17 225.33,776.81 225.74,777.58 226.15,777.13 226.56,775.92 226.97,777.37 227.38,777.52 227.79,776.57 228.2,775.95 228.61,774.55 229.03,774.87 229.44,773.71 229.85,772.78 230.26,772.13 230.67,770.85 231.08,771.85 231.49,772.86 231.9,772.63 232.31,770.15 232.72,769.94 233.13,769.44 233.54,769.83 233.95,767.96 234.36,767.26 234.78,768.3 235.19,770.18 235.6,770.49 236.01,772.69 236.42,771.69 236.83,771.9 237.24,771.99 237.65,771.88 238.06,773.58 238.47,772.89 238.88,772.9 239.29,773.68 239.7,774.27 240.12,776.13 240.53,776.14 240.94,777.19 241.35,777.27 241.76,778.92 242.17,779.1 242.58,779.65 242.99,778.69 243.4,780.19 243.81,780.24 244.22,780.61 244.63,780.31 245.04,779.94 245.45,779.96 245.87,779.16 246.28,777.47 246.69,777.05 247.1,776.59 247.51,775.3 247.92,775.84 248.33,776.74 248.74,776.19 249.15,775.65 249.56,775.49 249.97,775.79 250.38,774.56 250.79,776.27 251.2,776.38 251.62,777.91 252.03,779.24 252.44,779.05 252.85,780.92 253.26,782.13 253.67,781.79 254.11,783.66 254.55,785.33 254.98,786.83 255.42,789.47 255.86,790.79 256.27,789.84 256.68,787.81 257.09,786.7 257.5,787.15 257.91,785.75 258.32,782.79 258.73,780.96 259.15,779.95 259.56,778.44 259.97,779.38 260.38,778.92 260.79,778.4 261.2,777.96 261.61,776.9 262.02,775.68 262.43,773.16 262.87,771.85 263.31,772.01 263.75,771.94 264.18,770.68 264.62,768.09 265.06,770.7 265.5,773.44 265.94,774.91 266.37,778.78 266.81,780 267.22,779.76 267.63,778.53 268.04,779.16 268.46,777.6 268.87,776.73 269.28,777.58 269.69,776 270.1,775.39 270.54,780.6 270.97,785.33 271.41,788.25 271.85,793.62 272.29,797.89 272.7,797.92 273.11,795.16 273.52,795.05 273.93,794.26 274.34,792.72 274.75,791.33 275.16,790.7 275.58,789.02 275.99,789.5 276.4,789.67 276.81,790.71 277.22,791.97 277.63,791.16 278.04,792.17 278.45,793.22 278.86,795.02 279.27,795.35 279.68,797.69 280.09,798.29 280.5,799.93 280.91,801.26 281.33,802.64 281.74,803.53 282.15,804.1 282.58,806.9 283.02,809.08 283.46,809.67 283.9,810.5 284.34,811.49 284.74,811.63 285.14,812.39 285.54,814.54 285.95,816.75 286.35,817.63 286.75,818.09 287.15,818.74 287.55,819.99 287.95,822.27 288.36,823.62 288.73,823.27 289.11,823.57 289.48,825.23 289.86,826.5 290.23,828.72 290.6,830.1 290.98,830.24 291.42,830.93 291.85,832.74 292.29,833.47 292.73,834.96 293.16,833.52 293.6,831.3 294.04,829.17 294.48,827.34 294.85,827.5 295.22,829.06 295.6,829.92 295.97,831.13 296.35,832.28 296.72,833.72 297.1,833.56 297.53,834.47 297.97,836.88 298.41,839.34 298.85,840.74 299.22,843.33 299.6,844.85 299.97,848.64 300.34,851.51 300.72,855.06 301.09,856.68 301.47,858.89 301.84,859.85 302.22,861.86 302.59,862.83 302.97,863.67 303.34,862.96 303.72,863.56 304.09,863.83 304.47,864.66 304.84,866.09 305.21,866.41 305.59,865.93 305.96,868.08 306.34,866.99 306.71,868.4 307.15,873.29 307.59,877.26 308.02,882.26 308.46,885.07 308.9,887.61 309.34,890.57 309.77,894.1 310.21,897 310.58,898.65 310.96,898.09 311.33,897.97 311.71,897.22 312.08,898.21 312.46,899.15 312.83,898.59 313.21,896.96 313.58,895.57 313.96,896.47 314.33,896.41 314.71,895.67 315.08,895.3 315.45,894.57 315.83,894.8 316.2,893.39 316.58,894.35 316.95,895.17 317.33,896.1 317.7,896.63 318.08,895.74 318.45,896.55 318.83,896.01 319.2,898.24 319.58,897.66 319.95,899.25 320.32,899.32 320.7,899.64 321.07,898.33 321.45,897.58 321.82,897.3 322.2,897.32 322.57,895.81 322.95,895.41 323.32,894.79 323.7,895.21 324.07,893.05 324.45,892.18 324.82,891.66 325.19,890.61 325.57,890.07 325.94,888.41 326.32,887.12 326.69,885.73 327.07,884.48 327.44,883.14 327.82,882.56 328.19,880.92 328.57,880.05 328.94,881.8 329.32,881.43 329.69,881.92 330.06,883.03 330.44,883.47 330.81,884.09 331.19,887.05 331.56,886.89 331.94,886.07 332.31,885.26 332.69,884.02 333.06,883.49 333.44,882.16 333.81,883.54 334.19,883.92 334.56,885.37 334.94,885.62 335.31,884.28 335.68,886.68 336.06,887.11 336.43,887.77 336.81,887.37 337.18,887.32 337.56,887.8 337.93,889.85 338.31,888.86 338.68,888.62 339.06,889.93 339.43,889.69 339.81,892.79 340.18,893.05 340.55,895.57 340.93,896.52 341.3,897.42 341.68,897.84 342.12,897.65 342.55,895.47 342.99,892.62 343.43,891.78 343.8,892.95 344.18,894.68 344.55,895.48 344.93,897.08 345.3,898.6 345.67,899.67 346.05,899.5 346.49,896.4 346.92,893.67 347.36,889.72 347.8,886.16 348.23,885.83 348.67,884.6 349.11,884.76 349.55,883.66 349.98,883.53 350.42,883.59 350.86,885.8 351.29,887.22 351.67,890.23 352.04,892.19 352.42,893.47 352.79,897.39 353.17,900.16 353.54,902.5 353.92,905.01 354.29,907.89 354.67,909.8 355.04,914.11 355.41,917.96 355.79,921.61 356.16,924.01 356.54,925.95 356.98,923.47 357.41,922.13 357.85,922.25 358.29,920.97 358.72,922.29 359.16,924.13 359.6,926.21 360.03,927.56 360.47,931.39 360.91,935.24 361.35,938.5 361.78,941.58 362.22,942.41 362.66,944.61 363.09,944.12 363.53,945.08 363.97,948.2 364.41,951.66 364.84,954.58 365.28,958.53 365.72,959.9 366.15,961.7" fill="none" stroke="#fa0000" stroke-width="1.6" stroke-linejoin="round" clip-path="url(#cb)"/>
<polyline points="89.85,821.64 90.22,820.85 90.59,823.16 90.96,821.9 91.33,820.68 91.7,819.95 92.07,818.51 92.48,815.35 92.88,813.53 93.29,810.64 93.69,808.99 94.1,806.17 94.48,802.73 94.86,800.29 95.24,798.45 95.62,795.64 95.99,794.8 96.37,793.36 96.75,792.76 97.13,790.13 97.51,787.7 97.89,785.9 98.27,783.94 98.65,780.28 99.03,779.21 99.41,775.75 99.79,774.19 100.17,770.99 100.57,768.46 100.98,765.44 101.38,763.76 101.79,764.05 102.19,760.87 102.62,761.33 103.04,761.16 103.46,759.35 103.88,759.26 104.3,759.16 104.72,757.41 105.15,754.72 105.57,753.75 105.99,751.78 106.41,751.35 106.83,748.93 107.26,745.4 107.68,746.5 108.1,746.69 108.52,748.89 108.94,750.65 109.36,751.24 109.79,751.66 110.19,753.52 110.6,753.88 111,755.77 111.4,755.38 111.81,756.06 112.21,757.98 112.62,759.61 113.02,764.64 113.43,767.67 113.83,768.44 114.26,767.58 114.68,764.42 115.1,764.61 115.52,764.11 115.94,762.14 116.36,760.48 116.77,757.25 117.17,754.12 117.58,750.17 117.98,746.02 118.39,742.64 118.81,740.35 119.23,739.11 119.65,736.91 120.08,734.84 120.5,731.12 120.92,729.09 121.31,728.28 121.71,727.33 122.1,726.74 122.49,725.87 122.89,723.96 123.28,724.52 123.67,724.48 124.07,722.9 124.46,722.54 124.84,723.34 125.22,724.24 125.6,726.38 125.98,729.86 126.36,731.26 126.74,731.61 127.12,734.01 127.5,735.48 127.88,733.66 128.26,732.87 128.64,730.02 129.02,727.66 129.4,725.92 129.78,726.41 130.15,725.27 130.53,723.39 130.94,720.27 131.34,718.39 131.74,716.63 132.14,712.78 132.54,710.17 132.94,709.23 133.34,706.06 133.75,702.24 134.14,702.99 134.53,703.57 134.92,704.7 135.31,705.43 135.71,705.46 136.1,706.12 136.49,707.24 136.88,707.07 137.27,707.82 137.67,707.65 138.06,709.56 138.45,711.19 138.84,710.33 139.24,711.48 139.63,712.06 140.02,712.66 140.41,713.04 140.8,714.03 141.2,715.55 141.59,714.9 141.98,716.71 142.37,715.46 142.76,713.71 143.16,713.22 143.55,713.18 143.94,712.24 144.33,711.69 144.72,710.51 145.09,713.03 145.46,717.01 145.82,718.94 146.19,722.89 146.55,725.88 146.96,724.39 147.37,723.13 147.77,721.91 148.18,720.99 148.59,720.02 148.99,718.95 149.4,716.4 149.81,714.32 150.21,714.71 150.58,712.19 150.95,709.7 151.31,707.51 151.68,704.4 152.04,703.72 152.41,706.11 152.78,708.43 153.14,710.11 153.51,713.77 153.87,716.85 154.27,720.15 154.66,722.58 155.05,723.55 155.44,724.7 155.83,728.52 156.23,730.06 156.62,732.39 157.01,734.17 157.4,736.52 157.79,738.7 158.19,739.42 158.58,740.91 158.97,741.63 159.36,744.7 159.77,743.63 160.18,741.23 160.58,741.56 160.99,740.42 161.4,738.41 161.8,737.2 162.21,735.85 162.62,735.12 163.02,734.28 163.41,732.03 163.81,730.78 164.2,726.79 164.59,725.54 164.98,724.87 165.38,723.99 165.77,722.61 166.16,720.3 166.55,717.97 166.94,717.26 167.34,718.58 167.73,717.29 168.12,715.27 168.51,712.87 168.9,715.65 169.3,717.66 169.69,720.49 170.08,722.77 170.47,722.88 170.86,725.61 171.26,728.84 171.65,729.43 172.04,729.7 172.43,730.31 172.83,730.96 173.22,734.67 173.61,736.66 174,736.62 174.41,737.19 174.82,735.36 175.22,734.53 175.63,733.7 176.03,733.5 176.44,733.91 176.85,735.12 177.25,734.62 177.66,733.47 178.05,732.19 178.45,730.69 178.84,729.86 179.23,727.93 179.62,727.27 180.01,726.62 180.41,726.22 180.77,727.71 181.14,730.65 181.5,733.33 181.87,735.06 182.24,736.17 182.63,734.38 183.02,733.63 183.41,731.4 183.8,731.32 184.2,729.03 184.59,725.77 184.98,723.49 185.37,723.31 185.76,723.01 186.16,722.03 186.55,721.8 186.94,723.51 187.33,722.64 187.73,721.31 188.12,722.38 188.51,722.8 188.9,725.48 189.29,727.45 189.69,729.76 190.08,731.58 190.47,734.58 190.86,734.07 191.25,731.79 191.65,729.35 192.04,728.74 192.43,728.73 192.82,727.4 193.22,726.14 193.62,723.21 194.03,721.57 194.43,720.95 194.84,719.83 195.25,718.28 195.65,717.25 196.06,716.3 196.47,714.53 196.87,712.25 197.27,710.64 197.66,710.79 198.05,710.36 198.44,709.88 198.84,710.44 199.23,709.12 199.62,708.44 200.03,710.78 200.43,711.6 200.84,711.73 201.25,713.79 201.66,716.81 202.06,718.13 202.47,719.9 202.88,720.31 203.29,723.72 203.7,721.54 204.11,720.78 204.52,720.39 204.93,721.56 205.34,720.44 205.75,718.77 206.16,716.8 206.57,716.26 206.98,714.58 207.39,713.63 207.8,713.17 208.21,713.4 208.63,711.21 209.04,711.47 209.45,708.5 209.86,709.43 210.27,708 210.68,707.15 211.09,706.33 211.5,706.2 211.91,705.66 212.32,704.9 212.73,703.93 213.14,703.25 213.55,705.3 213.96,706.71 214.38,708.08 214.79,708.96 215.2,711.33 215.61,713.79 216.02,714.69 216.43,717.53 216.84,716.86 217.25,716.35 217.66,714.36 218.07,714.83 218.48,715.41 218.89,716.09 219.3,714.22 219.72,713.32 220.13,715.13 220.54,716.59 220.95,717.07 221.36,718.47 221.77,720.6 222.18,722.09 222.59,723.03 223,725.03 223.44,725.12 223.88,727.43 224.32,728.63 224.75,730.29 225.19,732.93 225.6,733.12 226.01,731.76 226.42,730.24 226.83,730.12 227.25,728.89 227.66,725.32 228.07,724.04 228.48,722.78 228.89,721.58 229.3,719.76 229.71,719.96 230.12,719.26 230.53,719.67 230.94,717.84 231.35,716.63 231.76,714.77 232.17,714.37 232.58,713.77 233,713.2 233.41,711.79 233.82,709.1 234.23,708.39 234.64,705.7 235.05,703.78 235.46,705.44 235.87,708.92 236.28,709.42 236.69,710.15 237.1,712.24 237.51,714.9 237.92,716.66 238.34,718.37 238.77,715.54 239.21,713.5 239.65,712.91 240.09,710.92 240.53,708.42 240.94,710.13 241.35,713.28 241.76,716.23 242.17,717.72 242.58,718.4 242.99,721.57 243.4,722.39 243.81,724.24 244.22,726.1 244.63,727.53 245.04,728.91 245.45,731.83 245.87,733.2 246.28,733.29 246.69,734.67 247.1,737.68 247.51,739.77 247.92,741.33 248.33,744.8 248.74,747.53 249.15,749.8 249.56,752.56 249.97,754.45 250.38,757.02 250.79,759.04 251.2,760.01 251.62,762.68 252.03,763.11 252.44,766.52 252.85,767.62 253.26,769.18 253.67,769.51 254.08,770.04 254.49,768.96 254.9,769.26 255.31,768.95 255.72,768 256.13,769.37 256.54,768.81 256.96,767.82 257.37,766.69 257.78,766.23 258.19,765.41 258.6,765.23 259.01,763.66 259.42,763.01 259.83,761.74 260.24,760.47 260.65,759.49 261.06,756.85 261.47,753.85 261.88,753.1 262.29,750.95 262.71,749.75 263.12,748.23 263.53,746.54 263.94,746.89 264.35,748.48 264.76,747.6 265.17,749.04 265.58,749.09 265.99,749.68 266.4,749.69 266.81,750.93 267.22,752.69 267.63,753.67 268.04,755.31 268.46,757.29 268.87,758.65 269.28,762.19 269.69,763.46 270.1,764.12 270.51,768.48 270.92,772.04 271.33,775.08 271.74,778.58 272.15,781.22 272.56,786.2 272.97,791.33 273.38,794.67 273.8,792.16 274.21,789.27 274.62,787.28 275.03,786.39 275.44,784.7 275.85,783.4 276.26,781.43 276.67,780.13 277.11,781.15 277.55,782.44 277.98,783.5 278.42,784.56 278.86,784.75 279.27,782.84 279.68,780.19 280.09,778.4 280.5,776.93 280.91,775.65 281.33,772.71 281.74,770.48 282.15,768.72 282.55,765.68 282.94,763.55 283.34,761.31 283.74,758.52 284.14,757.65 284.54,754.48 284.93,752.07 285.33,748 285.73,746.58 286.13,744.28 286.53,741.77 286.94,741.07 287.35,742.73 287.76,743.68 288.17,745.53 288.58,746.74 288.99,747.51 289.4,748.46 289.81,750.81 290.21,750.06 290.61,746.84 291.01,745.34 291.41,744.74 291.81,742.99 292.2,741.96 292.6,740.28 293,740.26 293.4,738.97 293.8,736.93 294.19,736.4 294.61,738.52 295.02,741.47 295.43,742.43 295.84,743.06 296.25,746.12 296.66,748.24 297.07,748.98 297.48,748.66 297.89,751.06 298.3,752.82 298.71,753.51 299.12,754.52 299.53,755.91 299.95,755.88 300.36,758.28 300.77,758.04 301.18,759.27 301.59,760.32 302,760.88 302.41,761.32 302.82,763.2 303.23,762.72 303.64,764.01 304.05,766.4 304.46,766.55 304.87,766.47 305.28,767.69 305.7,766.92 306.11,768.61 306.52,769.74 306.93,771.13 307.34,772.35 307.75,771.41 308.16,769.52 308.57,766.68 308.98,765.93 309.39,762.81 309.8,761.99 310.21,759.08 310.62,756.11 311.04,754.91 311.45,755.25 311.86,753.98 312.27,752.66 312.68,750.13 313.09,749.47 313.5,748.41 313.91,747.29 314.32,748.86 314.73,749.93 315.14,753.61 315.55,754.8 315.96,757.53 316.37,759.91 316.79,761.79 317.2,763.66 317.61,764.3 318.02,764.02 318.43,764.16 318.84,764.69 319.25,765 319.66,764.9 320.07,763.06 320.48,764.17 320.92,767.22 321.36,772.37 321.8,776.93 322.23,780.26 322.67,783.67 323.08,783.85 323.49,786.25 323.9,788.04 324.32,792.01 324.73,792.7 325.14,796.77 325.55,798.12 325.96,798.26 326.37,798.4 326.78,796.16 327.19,794.57 327.6,793.49 328.01,789.99 328.42,788.05 328.83,786.67 329.24,786.03 329.65,784.2 330.07,783.16 330.48,780.12 330.89,779.57 331.3,777.53 331.71,776.22 332.12,775.25 332.53,774.75 332.94,772.65 333.35,771.73 333.76,770.04 334.17,769.22 334.58,767.32 334.99,767.12 335.41,764.5 335.82,762.38 336.23,764.6 336.64,764.66 337.05,766.13 337.46,767.37 337.87,766.55 338.28,767.49 338.69,768.24 339.1,769.29 339.51,766.7 339.92,765.82 340.33,764.65 340.74,762.26 341.16,761.05 341.57,759.83 341.98,756.91 342.39,755.8 342.8,756.35 343.21,756.33 343.62,754.64 344.03,753.66 344.44,753.48 344.85,753.46 345.26,753.56 345.67,752.82 346.08,753.82 346.5,753.47 346.91,755.47 347.32,755.28 347.73,754.76 348.14,754.98 348.55,754.35 348.96,755.02 349.36,756.04 349.76,757.53 350.15,759.17 350.55,758.81 350.95,758.93 351.35,760.38 351.75,761.76 352.15,762.61 352.54,762.95 352.94,762.27 353.34,762.59 353.75,760.79 354.16,760.07 354.57,760.85 354.98,761.25 355.39,759.69 355.81,759.13 356.22,759.06 356.63,756.76 357.04,755.36 357.45,754.98 357.86,753.47 358.27,754.69 358.68,754.69 359.09,754.42 359.5,754.42 359.91,754.66 360.3,753.61 360.69,751.66 361.09,751.59 361.48,750.24 361.87,749.7 362.26,748.23 362.65,747.53 363.04,745.48 363.43,745.21 363.82,744.34 364.22,744.53 364.61,742.77 365,741.28 365.39,741.27" fill="none" stroke="#1e80eb" stroke-width="1.6" stroke-linejoin="round" clip-path="url(#cb)"/>
<polyline points="89.9,823.96 90.05,822.38 90.45,821.57 90.86,820.21 91.26,818.49 91.67,817.3 92.07,816.22 92.45,813.74 92.83,811.52 93.21,809.58 93.59,806.65 94,803.02 94.4,798.61 94.81,793.98 95.21,789.24 95.62,784.09 95.99,779.53 96.37,776.56 96.75,773.3 97.13,770.31 97.51,765.08 97.89,758.45 98.27,752.69 98.65,746.67 99.03,749.61 99.41,751.09 99.79,752.77 100.17,753.57 100.57,754.06 100.98,755.39 101.38,757.05 101.79,758.98 102.19,759.06 102.62,758.32 103.04,756.32 103.46,754.79 103.88,753.41 104.3,751.9 104.72,751.08 105.15,752.01 105.57,752.2 105.99,751.69 106.41,752.21 106.83,752.56 107.26,753.21 107.66,751.01 108.06,747.4 108.47,745.1 108.87,743.19 109.28,742.28 109.7,743.29 110.12,745.2 110.54,746.32 110.97,746.3 111.39,747.74 111.81,749.47 112.19,751.46 112.57,751.87 112.95,754.33 113.33,755.72 113.73,753.07 114.14,752.21 114.54,750.1 114.95,748.9 115.35,749.84 115.73,753.45 116.11,755.12 116.49,756.24 116.87,758.67 117.25,759.51 117.63,759.58 118.01,759.06 118.39,762.01 118.81,759.53 119.23,757.23 119.65,757.25 120.08,757.49 120.5,756.57 120.92,757.18 121.3,758.94 121.68,760.93 122.06,763.03 122.44,764.17 122.84,762.81 123.25,763.03 123.65,759.92 124.06,758.28 124.46,756.94 124.87,757.07 125.27,757.86 125.68,757.34 126.08,758.36 126.49,759.68 126.89,757.2 127.3,754.12 127.7,749.6 128.11,745.01 128.51,743.14 128.91,742.84 129.32,740.2 129.72,739.62 130.13,738.58 130.53,737.95 130.94,738.67 131.34,740.78 131.75,742.62 132.15,744.6 132.56,747.45 132.98,745.68 133.4,742.73 133.82,739.81 134.25,738.27 134.67,737.95 135.09,736.84 135.58,736.01 135.94,742.07 136.31,747.18 136.67,751.46 137.04,756.91 137.41,761.82 137.81,761.68 138.22,762.47 138.63,763.74 139.03,765.75 139.44,765.41 139.85,766.54 140.25,767.38 140.66,768.14 141.06,768 141.43,766.84 141.8,765.16 142.16,763.36 142.53,760.35 142.89,758.34 143.29,759.74 143.68,761.68 144.07,762.51 144.46,764.19 144.86,765.49 145.25,766.42 145.64,768.2 146.03,769.98 146.42,771.99 146.82,774.72 147.21,777.13 147.6,781.66 147.99,785.08 148.38,787.52 148.78,785.77 149.17,782.77 149.56,781.25 149.95,778.34 150.34,776.61 150.74,775.07 151.13,773.61 151.52,775.71 151.91,776.06 152.31,779.26 152.7,779.25 153.09,780.76 153.48,780.12 153.87,782.17 154.28,779.01 154.69,777.45 155.09,775.54 155.5,774.25 155.91,772.49 156.31,770.44 156.72,767.97 157.13,767.36 157.53,764.24 157.93,765.28 158.32,766.03 158.71,767.5 159.1,768.01 159.49,769.29 159.89,771.32 160.28,772.18 160.67,773.28 161.06,773.3 161.45,775.14 161.85,775.2 162.24,776.97 162.63,777.23 163.02,777.08 163.43,777.96 163.84,778.82 164.24,779.79 164.65,780.43 165.06,780.57 165.46,779.16 165.87,780.17 166.28,780.11 166.68,780.64 167.07,782.19 167.47,781.84 167.86,783.59 168.25,785.81 168.64,785.98 169.04,785.69 169.43,787.19 169.82,787.18 170.21,788.09 170.6,789 171,787.53 171.39,788.34 171.78,787.54 172.17,787.93 172.56,790.22 172.96,790.66 173.35,791.83 173.74,793.26 174.13,795.27 174.52,797.02 174.92,798.67 175.31,797.07 175.7,795.49 176.09,795.06 176.49,793.35 176.88,791.96 177.27,791.92 177.66,790.27 178.07,790.63 178.47,792.81 178.88,793.5 179.29,792.48 179.69,793.38 180.1,796.42 180.51,799.29 180.91,798.81 181.32,799.65 181.71,796.56 182.11,793.11 182.5,788.06 182.89,786.05 183.28,783.01 183.67,779.52 184.07,775.05 184.46,774.79 184.85,774.94 185.24,774.82 185.63,775.02 186.03,774.55 186.42,775.27 186.81,775.3 187.2,775.35 187.59,776.35 187.99,778.29 188.38,779.2 188.77,781.83 189.16,782.38 189.56,783.86 189.95,783.21 190.34,781 190.73,781.17 191.12,779.68 191.52,777.97 191.91,776.54 192.3,774.46 192.69,775.93 193.08,779.84 193.48,781.62 193.87,783.29 194.26,785.41 194.65,787.72 195.04,788.73 195.44,790.02 195.83,791.71 196.22,793.83 196.61,795.02 197.01,797.39 197.4,797.82 197.79,798.51 198.16,797.29 198.53,797.63 198.89,798.38 199.26,798.11 199.63,798.01 200,797.3 200.41,796.64 200.82,796.14 201.23,795.91 201.64,796.48 202.05,796.16 202.46,796.07 202.88,796 203.29,794.43 203.7,796.35 204.11,796.91 204.52,796.59 204.93,797.41 205.34,798.75 205.75,798.83 206.16,802.4 206.57,803.09 206.98,801.93 207.39,798.92 207.8,797.51 208.21,796.13 208.63,793.83 209.04,792.6 209.45,791 209.86,789.69 210.27,788.07 210.68,788.26 211.09,787.52 211.5,786.39 211.91,784.42 212.32,784.63 212.73,784.39 213.14,786.22 213.55,782.05 213.96,780.6 214.38,778.45 214.79,775.4 215.2,772.34 215.61,769.6 216.02,765.29 216.43,763.92 216.84,761.98 217.25,759.93 217.66,758.74 218.07,755.29 218.48,753.8 218.89,752.48 219.3,750.83 219.72,751.02 220.15,754.95 220.59,756.92 221.03,758.7 221.47,761.17 221.91,762.86 222.32,763.89 222.73,765.06 223.14,765.58 223.55,766.07 223.96,767.08 224.37,768.01 224.78,769.39 225.19,768.8 225.6,767.98 226.01,767.89 226.42,768.51 226.83,767.34 227.25,768.53 227.66,769.32 228.07,767.94 228.48,768.49 228.89,765.32 229.3,764.57 229.71,762.48 230.12,762.93 230.53,762.58 230.94,761.66 231.35,759.79 231.76,757.8 232.17,756.85 232.58,754.88 233,753.99 233.41,750.98 233.82,750.13 234.23,749.04 234.64,745.49 235.05,743.51 235.46,742.93 235.87,742.34 236.28,740.76 236.69,740.87 237.1,739.69 237.51,739.5 237.92,737.65 238.34,736.73 238.75,737.9 239.16,736.56 239.57,736.99 239.98,738.33 240.39,738.51 240.8,736.8 241.21,738.5 241.62,737.19 242.03,736.39 242.44,735.38 242.85,733.21 243.26,732.12 243.67,728.2 244.09,727.58 244.5,726.72 244.91,725.25 245.32,726.38 245.73,728.15 246.14,729.43 246.55,729.28 246.96,730.65 247.37,732.11 247.78,732.46 248.19,733.22 248.6,730.92 249.01,730.23 249.42,731.38 249.84,730.57 250.25,731.96 250.66,733.05 251.07,731.98 251.48,731.19 251.89,732.04 252.3,733.11 252.71,734.45 253.12,734.63 253.53,735.16 253.94,734.88 254.35,735.95 254.76,735.97 255.18,736.52 255.59,736.39 256,734.22 256.41,734.29 256.82,732.96 257.23,733.59 257.64,732.15 258.05,732.9 258.46,732.43 258.87,732.42 259.28,730.67 259.69,728.96 260.1,728.43 260.51,725.73 260.93,724.61 261.34,723.28 261.73,722.35 262.13,720.17 262.53,718.39 262.93,716.9 263.33,718.15 263.73,717.05 264.12,716.77 264.52,715.6 264.92,714.41 265.32,714.53 265.72,711.31 266.12,711.05 266.51,710.2 266.91,709.35 267.31,708.04 267.71,707.08 268.11,706.54 268.51,707.8 268.9,706.9 269.3,706.3 269.7,705.93 270.1,706.1 270.51,707.72 270.92,708.35 271.33,708.9 271.74,709.97 272.15,709.89 272.56,710.98 272.97,713.14 273.38,712.9 273.8,712.64 274.21,712.16 274.62,713.36 275.03,714.76 275.44,714.98 275.85,715.41 276.26,717.09 276.67,717.4 277.08,718.61 277.49,718.82 277.9,720.6 278.31,721.69 278.72,721.83 279.13,721.88 279.55,724.75 279.96,723.91 280.37,724.65 280.78,724.53 281.19,727.65 281.6,729.68 282.01,731.44 282.42,732 282.83,734.23 283.24,735.58 283.65,732.91 284.06,731.18 284.47,729.7 284.88,727.57 285.3,725.14 285.71,723.78 286.12,721.71 286.53,719.1 286.94,718.5 287.35,717.49 287.76,716.93 288.17,716.09 288.58,715.08 288.99,712.97 289.4,712.79 289.81,711.99 290.25,714.89 290.69,719.62 291.13,723.13 291.57,725.94 292,729.96 292.44,731.22 292.88,734.76 293.32,735.86 293.76,739.57 294.19,740.82 294.61,741.93 295.02,744.16 295.43,745.19 295.84,744.67 296.25,746 296.66,745.89 297.07,748.24 297.48,748.75 297.89,751.33 298.3,753.72 298.71,754.94 299.12,758 299.53,761.87 299.95,762.93 300.36,764.71 300.77,767.4 301.18,769.74 301.59,770.04 302,771.62 302.41,773.24 302.82,775.31 303.23,775.61 303.64,778.95 304.05,781.16 304.46,779.8 304.87,779.76 305.28,780.98 305.7,781.25 306.11,781.83 306.52,782.92 306.93,783.33 307.34,783.99 307.75,783.73 308.16,782.76 308.57,782.46 308.98,782.49 309.39,782.23 309.8,780.94 310.21,781.39 310.62,779.4 311.04,779.99 311.45,781.17 311.86,780.72 312.27,781.05 312.68,780.34 313.09,779.95 313.5,780.43 313.91,781.05 314.32,781.99 314.73,783.12 315.14,783.86 315.55,784.3 315.96,784.49 316.37,785.33 316.79,786.28 317.2,787.14 317.61,784.4 318.02,783.84 318.43,782.6 318.84,780.41 319.25,777.78 319.66,776.67 320.07,774.19 320.48,771.93 320.89,770.47 321.3,767.92 321.71,766.17 322.12,763.86 322.54,762.57 322.95,760.89 323.36,759.34 323.77,757.42 324.18,758.16 324.59,758.98 325,760.12 325.41,759.76 325.82,759.71 326.23,760.98 326.64,762.14 327.05,762.85 327.46,764.69 327.88,765.21 328.29,766.36 328.7,766.36 329.11,765.43 329.52,765.1 329.93,767.03 330.34,767.6 330.75,765.01 331.16,763.96 331.57,762.79 331.98,760.18 332.39,758.44 332.8,755.27 333.21,752 333.63,748.61 334.04,748.66 334.45,746.09 334.86,744.89 335.27,743.99 335.68,743.3 336.09,740.43 336.5,739.43 336.91,737.83 337.32,739.73 337.73,739.71 338.14,739.44 338.55,741.22 338.96,741.2 339.38,741.79 339.79,741.88 340.2,741.68 340.64,740.78 341.07,738.57 341.51,736.21 341.95,734.83 342.39,734.48 342.8,735.09 343.21,736.91 343.62,738.06 344.03,738.68 344.44,740.08 344.85,740.69 345.26,741.33 345.67,741.59 346.08,742.2 346.5,742.92 346.91,744.56 347.32,746.27 347.73,747.25 348.14,747.51 348.55,747.72 348.96,748.46 349.37,748.87 349.78,749.98 350.19,750.84 350.6,752.03 351.01,751.37 351.42,753.24 351.83,755.31 352.25,755.66 352.66,758.77 353.07,759.93 353.48,760.63 353.89,763.13 354.3,763.35 354.71,766.85 355.12,766.86 355.53,768.69 355.94,769.89 356.35,770.27 356.76,770.28 357.17,769.85 357.58,770.25 358,770.99 358.41,772.24 358.82,770.75 359.23,773.89 359.64,775.31 360.05,777.43 360.46,779.98 360.87,781.98 361.28,785.01 361.69,785.97 362.1,789.05 362.54,791.51 362.98,794.7 363.42,798.07 363.86,800.29 364.29,804.26 364.73,804.37 365.17,801.58 365.61,799.03 366.05,798.64 366.48,797.84" fill="none" stroke="#111111" stroke-width="1.6" stroke-linejoin="round" clip-path="url(#cb)"/>
<rect x="89.9" y="574.2" width="276.9" height="454" fill="none" stroke="#000" stroke-width="1.3"/>
<path d="M89.9,725.53h6.2M366.8,725.53h-6.2M89.9,876.87h6.2M366.8,876.87h-6.2M169.01,574.2v6.2M169.01,1028.2v-6.2M248.13,574.2v6.2M248.13,1028.2v-6.2M327.24,574.2v6.2M327.24,1028.2v-6.2" stroke="#111" stroke-width="1.2" fill="none"/>
<text x="78.3" y="581.3" font-size="20" text-anchor="end">7.&#8199;</text>
<text x="78.3" y="732.63" font-size="20" text-anchor="end">7.0</text>
<text x="78.3" y="883.97" font-size="20" text-anchor="end">6.9</text>
<text x="78.3" y="1035.3" font-size="20" text-anchor="end">6.8</text>
<text x="92.4" y="1054.7" font-size="20" text-anchor="middle">0</text>
<text x="171.51" y="1054.7" font-size="20" text-anchor="middle">200</text>
<text x="250.63" y="1054.7" font-size="20" text-anchor="middle">400</text>
<text x="329.74" y="1054.7" font-size="20" text-anchor="middle">600</text>
<text x="221.4" y="1086.8" font-size="20" text-anchor="middle">SR iterations</text>
<text x="-1.5" y="575" font-size="22" text-anchor="start" letter-spacing="0.85">(b)</text>
<text transform="translate(27.7,800.9) rotate(-90)" text-anchor="middle" font-size="20">&#916;E<tspan font-size="16" dy="6.2">&#8199;3</tspan><tspan dy="-6.2"> (running average, eV)</tspan></text>
<text transform="translate(134.89,932) scale(1.14,1)" font-size="21.5">&#955;</text>
<text x="147.75" y="922.8" font-size="16">(3)</text>
<path d="M178.6,922.7H233.7" stroke="#fa0000" stroke-width="2"/>
<text transform="translate(134.89,961.7) scale(1.14,1)" font-size="21.5">&#955;</text>
<text x="147.75" y="952.5" font-size="16">(5)</text>
<path d="M178.6,952.4H233.7" stroke="#1e80eb" stroke-width="2"/>
<text transform="translate(134.89,991.4) scale(1.14,1)" font-size="21.5">&#955;</text>
<text x="147.75" y="982.2" font-size="16">(8)</text>
<path d="M178.6,982.1H233.7" stroke="#111111" stroke-width="2"/>
<rect x="500.5" y="574.2" width="264.8" height="454" fill="none" stroke="#000" stroke-width="1.3"/>
<path d="M500.5,830.4H765.3" stroke="#000" stroke-width="1.3"/>
<path d="M500.5,597.4h6.6M765.3,597.4h-6.6M500.5,655.6h6.6M765.3,655.6h-6.6M500.5,713.8h6.6M765.3,713.8h-6.6M500.5,772h6.6M765.3,772h-6.6M500.5,888.2h6.6M765.3,888.2h-6.6M500.5,946.4h6.6M765.3,946.4h-6.6M500.5,1004.6h6.6M765.3,1004.6h-6.6M524.89,574.2v6.6M524.89,1028.2v-6.6M597.16,574.2v6.6M597.16,1028.2v-6.6M669.43,574.2v6.6M669.43,1028.2v-6.6M741.7,574.2v6.6M741.7,1028.2v-6.6" stroke="#111" stroke-width="1.2" fill="none"/>
<text x="488.2" y="604.5" font-size="20" text-anchor="end">7.00</text>
<text x="488.2" y="662.7" font-size="20" text-anchor="end">6.95</text>
<text x="488.2" y="720.9" font-size="20" text-anchor="end">6.90</text>
<text x="488.2" y="779.1" font-size="20" text-anchor="end">6.85</text>
<text x="488.2" y="895.3" font-size="20" text-anchor="end">6.05</text>
<text x="488.2" y="953.5" font-size="20" text-anchor="end">6.00</text>
<text x="488.2" y="1011.7" font-size="20" text-anchor="end">5.95</text>
<text x="527.29" y="1054.8" font-size="20" text-anchor="middle">&#8199;</text>
<text x="599.56" y="1054.8" font-size="20" text-anchor="middle">4</text>
<text x="671.83" y="1054.8" font-size="20" text-anchor="middle">7</text>
<text x="744.1" y="1054.8" font-size="20" text-anchor="middle">&#8199;0</text>
<path d="M524.89,711V765.1M521.59,711h6.6M521.59,765.1h6.6M548.98,684.1V719.8M545.68,684.1h6.6M545.68,719.8h6.6M573.07,758.9V799.5M569.77,758.9h6.6M569.77,799.5h6.6M597.16,776.1V815.6M593.86,776.1h6.6M593.86,815.6h6.6M621.25,591.6V626M617.95,591.6h6.6M617.95,626h6.6M645.34,587.8V627.4M642.04,587.8h6.6M642.04,627.4h6.6M669.43,597.5V643.1M666.13,597.5h6.6M666.13,643.1h6.6M693.52,633.6V674.7M690.22,633.6h6.6M690.22,674.7h6.6M717.61,603.5V635.6M714.31,603.5h6.6M714.31,635.6h6.6M741.7,672.4V716.2M738.4,672.4h6.6M738.4,716.2h6.6" stroke="#2edb48" stroke-width="1.8" fill="none"/>
<circle cx="524.89" cy="738.2" r="7" fill="#2edb48"/>
<circle cx="548.98" cy="701.8" r="7" fill="#2edb48"/>
<circle cx="573.07" cy="779.5" r="7" fill="#2edb48"/>
<circle cx="597.16" cy="796.1" r="7" fill="#2edb48"/>
<circle cx="621.25" cy="608.9" r="7" fill="#2edb48"/>
<circle cx="645.34" cy="607.6" r="7" fill="#2edb48"/>
<circle cx="669.43" cy="620" r="7" fill="#2edb48"/>
<circle cx="693.52" cy="654" r="7" fill="#2edb48"/>
<circle cx="717.61" cy="619.3" r="7" fill="#2edb48"/>
<circle cx="741.7" cy="694.2" r="7" fill="#2edb48"/>
<path d="M524.89,937.9V994.4M521.59,937.9h6.6M521.59,994.4h6.6M548.98,921.7V966.7M545.68,921.7h6.6M545.68,966.7h6.6M573.07,923.3V964.7M569.77,923.3h6.6M569.77,964.7h6.6M597.16,935.4V982.3M593.86,935.4h6.6M593.86,982.3h6.6M621.25,876.3V924M617.95,876.3h6.6M617.95,924h6.6M645.34,882V929.1M642.04,882h6.6M642.04,929.1h6.6M669.43,888V939M666.13,888h6.6M666.13,939h6.6M693.52,891.9V940.3M690.22,891.9h6.6M690.22,940.3h6.6M717.61,870.3V910.9M714.31,870.3h6.6M714.31,910.9h6.6M741.7,914.1V960.1M738.4,914.1h6.6M738.4,960.1h6.6" stroke="#6420fd" stroke-width="1.8" fill="none"/>
<circle cx="524.89" cy="966" r="7" fill="#6420fd"/>
<circle cx="548.98" cy="944.3" r="7" fill="#6420fd"/>
<circle cx="573.07" cy="944.1" r="7" fill="#6420fd"/>
<circle cx="597.16" cy="958.8" r="7" fill="#6420fd"/>
<circle cx="621.25" cy="900.2" r="7" fill="#6420fd"/>
<circle cx="645.34" cy="905.5" r="7" fill="#6420fd"/>
<circle cx="669.43" cy="913.6" r="7" fill="#6420fd"/>
<circle cx="693.52" cy="916.3" r="7" fill="#6420fd"/>
<circle cx="717.61" cy="890.3" r="7" fill="#6420fd"/>
<circle cx="741.7" cy="937.2" r="7" fill="#6420fd"/>
<path d="M464.3,826.6C467,821.5 471,821.8 475.1,824.5C479,827.2 483,827.3 485.9,822.4M464.3,833.2C467,828.1 471,828.4 475.1,831.1C479,833.8 483,833.9 485.9,829" stroke="#000" stroke-width="2.7" fill="none" stroke-linecap="butt"/>
<text x="659.2" y="788" font-size="20">&#916;E<tspan font-size="16" dy="6.2">&#8199;3</tspan></text>
<text x="659.2" y="980.6" font-size="20">&#916;E<tspan font-size="16" dy="6.0">&#8199;2</tspan></text>
<text x="407.2" y="574.6" font-size="22" text-anchor="start" letter-spacing="0.7">(c)</text>
<text x="579.8" y="1087.4" font-size="20">index of</text>
<text transform="translate(655.01,1087.4) scale(1.14,1)" font-size="21.5">&#955;</text>
<text x="668.06" y="1078.5" font-size="16">(k)</text>
<text transform="translate(428.5,801.2) rotate(-90)" text-anchor="middle" font-size="20">gap (average over last &#8199;00 SR iterations, eV)</text>
<g fill="#000"><path transform="translate(144.83,30.10) scale(0.00781,-0.00781)" d="M580,0L765,0L765,1409L620,1409L170,1150L170,940L580,1205Z"/><path transform="translate(95.48,60.90) scale(0.00977,-0.00977)" d="M580,0L765,0L765,1409L620,1409L170,1150L170,940L580,1205Z"/><path transform="translate(128.84,60.90) scale(0.00977,-0.00977)" d="M580,0L765,0L765,1409L620,1409L170,1150L170,940L580,1205Z"/><path transform="translate(178.88,60.90) scale(0.00977,-0.00977)" d="M580,0L765,0L765,1409L620,1409L170,1150L170,940L580,1205Z"/><path transform="translate(237.43,60.90) scale(0.00977,-0.00977)" d="M580,0L765,0L765,1409L620,1409L170,1150L170,940L580,1205Z"/><path transform="translate(270.79,60.90) scale(0.00977,-0.00977)" d="M580,0L765,0L765,1409L620,1409L170,1150L170,940L580,1205Z"/><path transform="translate(379.38,60.90) scale(0.00977,-0.00977)" d="M580,0L765,0L765,1409L620,1409L170,1150L170,940L580,1205Z"/><path transform="translate(412.74,60.90) scale(0.00977,-0.00977)" d="M580,0L765,0L765,1409L620,1409L170,1150L170,940L580,1205Z"/><path transform="translate(521.33,60.90) scale(0.00977,-0.00977)" d="M580,0L765,0L765,1409L620,1409L170,1150L170,940L580,1205Z"/><path transform="translate(554.69,60.90) scale(0.00977,-0.00977)" d="M580,0L765,0L765,1409L620,1409L170,1150L170,940L580,1205Z"/><path transform="translate(588.05,60.90) scale(0.00977,-0.00977)" d="M580,0L765,0L765,1409L620,1409L170,1150L170,940L580,1205Z"/><path transform="translate(663.28,60.90) scale(0.00977,-0.00977)" d="M580,0L765,0L765,1409L620,1409L170,1150L170,940L580,1205Z"/><path transform="translate(696.64,60.90) scale(0.00977,-0.00977)" d="M580,0L765,0L765,1409L620,1409L170,1150L170,940L580,1205Z"/><path transform="translate(730.00,60.90) scale(0.00977,-0.00977)" d="M580,0L765,0L765,1409L620,1409L170,1150L170,940L580,1205Z"/><path transform="translate(95.48,310.10) scale(0.00977,-0.00977)" d="M580,0L765,0L765,1409L620,1409L170,1150L170,940L580,1205Z"/><path transform="translate(162.20,310.10) scale(0.00977,-0.00977)" d="M580,0L765,0L765,1409L620,1409L170,1150L170,940L580,1205Z"/><path transform="translate(237.43,310.10) scale(0.00977,-0.00977)" d="M580,0L765,0L765,1409L620,1409L170,1150L170,940L580,1205Z"/><path transform="translate(270.79,310.10) scale(0.00977,-0.00977)" d="M580,0L765,0L765,1409L620,1409L170,1150L170,940L580,1205Z"/><path transform="translate(304.15,310.10) scale(0.00977,-0.00977)" d="M580,0L765,0L765,1409L620,1409L170,1150L170,940L580,1205Z"/><path transform="translate(379.38,310.10) scale(0.00977,-0.00977)" d="M580,0L765,0L765,1409L620,1409L170,1150L170,940L580,1205Z"/><path transform="translate(446.10,310.10) scale(0.00977,-0.00977)" d="M580,0L765,0L765,1409L620,1409L170,1150L170,940L580,1205Z"/><path transform="translate(521.33,310.10) scale(0.00977,-0.00977)" d="M580,0L765,0L765,1409L620,1409L170,1150L170,940L580,1205Z"/><path transform="translate(588.05,310.10) scale(0.00977,-0.00977)" d="M580,0L765,0L765,1409L620,1409L170,1150L170,940L580,1205Z"/><path transform="translate(708.18,279.30) scale(0.00781,-0.00781)" d="M580,0L765,0L765,1409L620,1409L170,1150L170,940L580,1205Z"/><path transform="translate(121.20,356.70) scale(0.00781,-0.00781)" d="M580,0L765,0L765,1409L620,1409L170,1150L170,940L580,1205Z"/><path transform="translate(121.20,376.70) scale(0.00781,-0.00781)" d="M580,0L765,0L765,1409L620,1409L170,1150L170,940L580,1205Z"/><path transform="translate(27.1,249.1) rotate(-90) translate(-84.61,6.60) scale(0.00781,-0.00781)" d="M580,0L765,0L765,1409L620,1409L170,1150L170,940L580,1205Z"/><path transform="translate(67.16,581.30) scale(0.00977,-0.00977)" d="M580,0L765,0L765,1409L620,1409L170,1150L170,940L580,1205Z"/><path transform="translate(27.7,800.9) rotate(-90) translate(-95.05,6.20) scale(0.00781,-0.00781)" d="M580,0L765,0L765,1409L620,1409L170,1150L170,940L580,1205Z"/><path transform="translate(521.73,1054.80) scale(0.00977,-0.00977)" d="M580,0L765,0L765,1409L620,1409L170,1150L170,940L580,1205Z"/><path transform="translate(732.97,1054.80) scale(0.00977,-0.00977)" d="M580,0L765,0L765,1409L620,1409L170,1150L170,940L580,1205Z"/><path transform="translate(685.90,794.20) scale(0.00781,-0.00781)" d="M580,0L765,0L765,1409L620,1409L170,1150L170,940L580,1205Z"/><path transform="translate(685.90,986.60) scale(0.00781,-0.00781)" d="M580,0L765,0L765,1409L620,1409L170,1150L170,940L580,1205Z"/><path transform="translate(428.5,801.2) rotate(-90) translate(4.44,0.00) scale(0.00977,-0.00977)" d="M580,0L765,0L765,1409L620,1409L170,1150L170,940L580,1205Z"/></g></svg></body></html>
